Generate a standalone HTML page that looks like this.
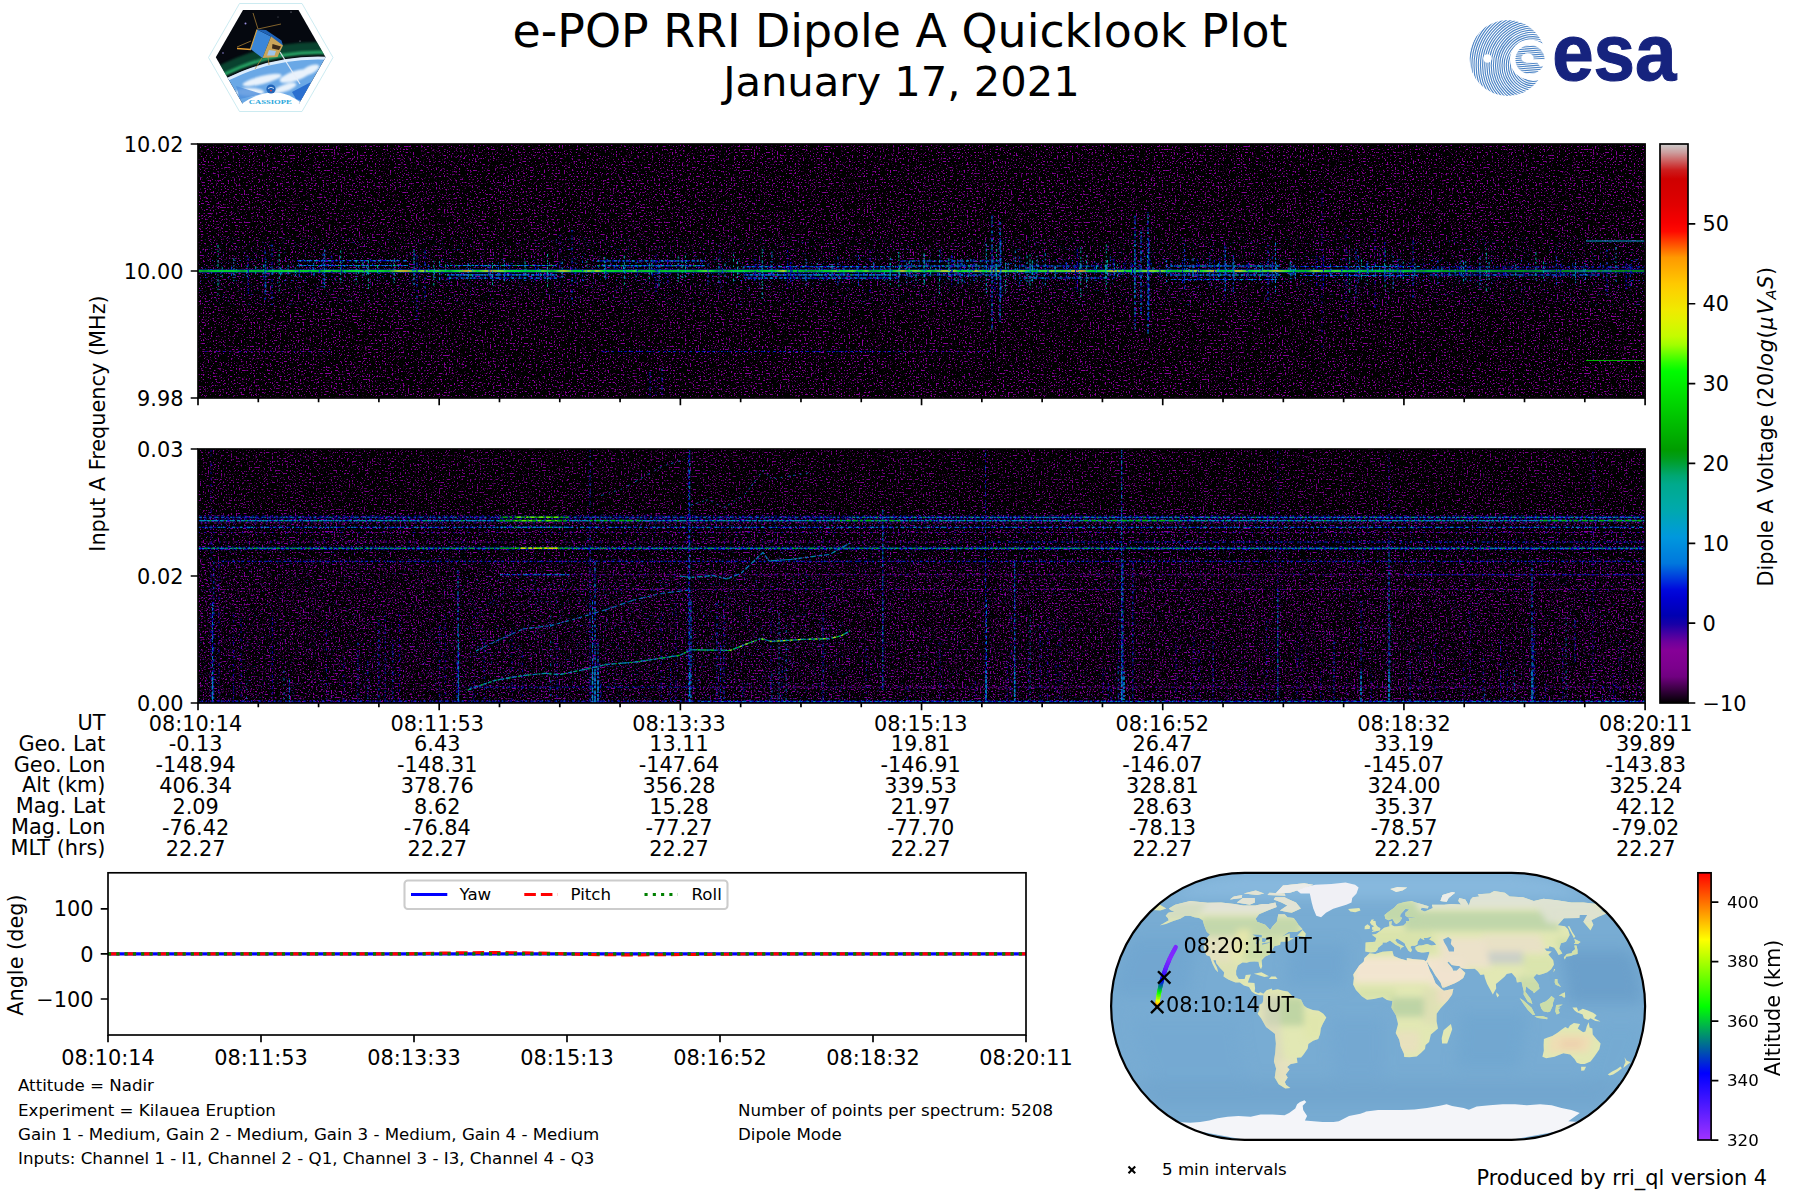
<!DOCTYPE html>
<html><head><meta charset="utf-8"><title>e-POP RRI Dipole A Quicklook Plot</title>
<style>html,body{margin:0;padding:0;background:#fff;}svg{display:block}text{font-family:'DejaVu Sans','Liberation Sans',sans-serif;fill:#000}</style></head>
<body><svg width="1800" height="1200" viewBox="0 0 1800 1200">
<defs><filter id="nz" x="0" y="0" width="100%" height="100%" color-interpolation-filters="sRGB">
<feTurbulence type="fractalNoise" baseFrequency="0.61 0.67" numOctaves="1" seed="11" result="t"/>
<feColorMatrix type="matrix" values="0 0 0 0 0.54  0 0 0 0 0  0 0 0 0 0.62  9 0 0 0 -5.22"/>
</filter><filter id="nzb" x="0" y="0" width="100%" height="100%" color-interpolation-filters="sRGB">
<feTurbulence type="fractalNoise" baseFrequency="0.57 0.71" numOctaves="1" seed="29" result="t"/>
<feColorMatrix type="matrix" values="0 0 0 0 0.0  0 0 0 0 0.25  0 0 0 0 0.85  0 9 0 0 -5.95"/>
</filter><filter id="nzp" x="0" y="0" width="100%" height="100%" color-interpolation-filters="sRGB">
<feTurbulence type="fractalNoise" baseFrequency="0.66 0.59" numOctaves="1" seed="47" result="t"/>
<feColorMatrix type="matrix" values="0 0 0 0 0.5  0 0 0 0 0  0 0 0 0 0.6  0 0 9 0 -5.45"/>
</filter><linearGradient id="cb" x1="0" y1="1" x2="0" y2="0"><stop offset="0.0000" stop-color="#000000"/><stop offset="0.0156" stop-color="#25002b"/><stop offset="0.0312" stop-color="#4b0055"/><stop offset="0.0469" stop-color="#700080"/><stop offset="0.0625" stop-color="#7b008c"/><stop offset="0.0781" stop-color="#810092"/><stop offset="0.0938" stop-color="#860097"/><stop offset="0.1094" stop-color="#6d009c"/><stop offset="0.1250" stop-color="#4300a2"/><stop offset="0.1406" stop-color="#1800a7"/><stop offset="0.1562" stop-color="#0000b1"/><stop offset="0.1719" stop-color="#0000c1"/><stop offset="0.1875" stop-color="#0000d1"/><stop offset="0.2031" stop-color="#0009dd"/><stop offset="0.2188" stop-color="#002fdd"/><stop offset="0.2344" stop-color="#0054dd"/><stop offset="0.2500" stop-color="#0078dd"/><stop offset="0.2656" stop-color="#0082dd"/><stop offset="0.2812" stop-color="#008ddd"/><stop offset="0.2969" stop-color="#0098dd"/><stop offset="0.3125" stop-color="#009ecf"/><stop offset="0.3281" stop-color="#00a3bf"/><stop offset="0.3438" stop-color="#00a8af"/><stop offset="0.3594" stop-color="#00aaa3"/><stop offset="0.3750" stop-color="#00aa98"/><stop offset="0.3906" stop-color="#00aa8d"/><stop offset="0.4062" stop-color="#00a773"/><stop offset="0.4219" stop-color="#00a248"/><stop offset="0.4375" stop-color="#009d1d"/><stop offset="0.4531" stop-color="#009c00"/><stop offset="0.4688" stop-color="#00a700"/><stop offset="0.4844" stop-color="#00b200"/><stop offset="0.5000" stop-color="#00bc00"/><stop offset="0.5156" stop-color="#00c700"/><stop offset="0.5312" stop-color="#00d200"/><stop offset="0.5469" stop-color="#00dc00"/><stop offset="0.5625" stop-color="#00e700"/><stop offset="0.5781" stop-color="#00f200"/><stop offset="0.5938" stop-color="#00fc00"/><stop offset="0.6094" stop-color="#2cff00"/><stop offset="0.6250" stop-color="#67ff00"/><stop offset="0.6406" stop-color="#a1ff00"/><stop offset="0.6562" stop-color="#c4fc00"/><stop offset="0.6719" stop-color="#d4f700"/><stop offset="0.6875" stop-color="#e4f100"/><stop offset="0.7031" stop-color="#f0ea00"/><stop offset="0.7188" stop-color="#f5df00"/><stop offset="0.7344" stop-color="#fbd500"/><stop offset="0.7500" stop-color="#ffc900"/><stop offset="0.7656" stop-color="#ffb900"/><stop offset="0.7812" stop-color="#ffa900"/><stop offset="0.7969" stop-color="#ff9900"/><stop offset="0.8125" stop-color="#ff6900"/><stop offset="0.8281" stop-color="#ff3900"/><stop offset="0.8438" stop-color="#ff0900"/><stop offset="0.8594" stop-color="#f60000"/><stop offset="0.8750" stop-color="#ec0000"/><stop offset="0.8906" stop-color="#e10000"/><stop offset="0.9062" stop-color="#da0000"/><stop offset="0.9219" stop-color="#d40000"/><stop offset="0.9375" stop-color="#cf0000"/><stop offset="0.9531" stop-color="#cc1c1c"/><stop offset="0.9688" stop-color="#cc5c5c"/><stop offset="0.9844" stop-color="#cc9c9c"/><stop offset="1.0000" stop-color="#cccccc"/></linearGradient><linearGradient id="alt" x1="0" y1="1" x2="0" y2="0"><stop offset="0" stop-color="#a033ff"/><stop offset="0.25" stop-color="#0000ff"/><stop offset="0.5" stop-color="#00ff00"/><stop offset="0.75" stop-color="#ffff00"/><stop offset="1" stop-color="#ff0000"/></linearGradient><clipPath id="c1"><rect x="198.0" y="144.0" width="1447.1" height="254.0"/></clipPath><clipPath id="c2"><rect x="198.0" y="449.0" width="1447.1" height="254.0"/></clipPath><linearGradient id="cg" gradientUnits="userSpaceOnUse" x1="198.0" y1="0" x2="1645.1" y2="0"><stop offset="0.0000" stop-color="#00ec00"/><stop offset="0.0042" stop-color="#009f00"/><stop offset="0.0110" stop-color="#00ef00"/><stop offset="0.0132" stop-color="#00ef00"/><stop offset="0.0207" stop-color="#00f200"/><stop offset="0.0249" stop-color="#00f200"/><stop offset="0.0310" stop-color="#00a700"/><stop offset="0.0342" stop-color="#00ec00"/><stop offset="0.0412" stop-color="#00c700"/><stop offset="0.0476" stop-color="#00e400"/><stop offset="0.0531" stop-color="#00f200"/><stop offset="0.0582" stop-color="#00f200"/><stop offset="0.0642" stop-color="#2cff00"/><stop offset="0.0676" stop-color="#00e200"/><stop offset="0.0740" stop-color="#00ef00"/><stop offset="0.0809" stop-color="#00ec00"/><stop offset="0.0848" stop-color="#00bf00"/><stop offset="0.0887" stop-color="#2cff00"/><stop offset="0.0963" stop-color="#00e200"/><stop offset="0.0986" stop-color="#00c400"/><stop offset="0.1045" stop-color="#00f700"/><stop offset="0.1112" stop-color="#0fff00"/><stop offset="0.1168" stop-color="#3bff00"/><stop offset="0.1203" stop-color="#00f700"/><stop offset="0.1258" stop-color="#0fff00"/><stop offset="0.1315" stop-color="#00c700"/><stop offset="0.1385" stop-color="#c8fb00"/><stop offset="0.1437" stop-color="#ffb100"/><stop offset="0.1500" stop-color="#0fff00"/><stop offset="0.1523" stop-color="#49ff00"/><stop offset="0.1555" stop-color="#c8fb00"/><stop offset="0.1608" stop-color="#00fa00"/><stop offset="0.1658" stop-color="#49ff00"/><stop offset="0.1720" stop-color="#00e700"/><stop offset="0.1741" stop-color="#00ca00"/><stop offset="0.1776" stop-color="#1dff00"/><stop offset="0.1817" stop-color="#58ff00"/><stop offset="0.1852" stop-color="#ffad00"/><stop offset="0.1876" stop-color="#f7dd00"/><stop offset="0.1931" stop-color="#00fc00"/><stop offset="0.1991" stop-color="#ccf900"/><stop offset="0.2022" stop-color="#ffa900"/><stop offset="0.2072" stop-color="#93ff00"/><stop offset="0.2109" stop-color="#93ff00"/><stop offset="0.2132" stop-color="#2cff00"/><stop offset="0.2172" stop-color="#00fc00"/><stop offset="0.2216" stop-color="#00fc00"/><stop offset="0.2265" stop-color="#00ea00"/><stop offset="0.2289" stop-color="#00ea00"/><stop offset="0.2320" stop-color="#00ea00"/><stop offset="0.2360" stop-color="#2cff00"/><stop offset="0.2383" stop-color="#67ff00"/><stop offset="0.2451" stop-color="#00cf00"/><stop offset="0.2503" stop-color="#a1ff00"/><stop offset="0.2527" stop-color="#f7dd00"/><stop offset="0.2601" stop-color="#00ff00"/><stop offset="0.2664" stop-color="#00f700"/><stop offset="0.2689" stop-color="#efed00"/><stop offset="0.2729" stop-color="#1dff00"/><stop offset="0.2756" stop-color="#e4f100"/><stop offset="0.2800" stop-color="#00ff00"/><stop offset="0.2872" stop-color="#00f400"/><stop offset="0.2905" stop-color="#00e200"/><stop offset="0.2946" stop-color="#00ec00"/><stop offset="0.2997" stop-color="#00ec00"/><stop offset="0.3018" stop-color="#67ff00"/><stop offset="0.3051" stop-color="#00cf00"/><stop offset="0.3114" stop-color="#00ec00"/><stop offset="0.3167" stop-color="#00b200"/><stop offset="0.3227" stop-color="#00e200"/><stop offset="0.3285" stop-color="#00e200"/><stop offset="0.3341" stop-color="#00e200"/><stop offset="0.3406" stop-color="#00e200"/><stop offset="0.3436" stop-color="#00b200"/><stop offset="0.3458" stop-color="#00f400"/><stop offset="0.3513" stop-color="#67ff00"/><stop offset="0.3552" stop-color="#00ff00"/><stop offset="0.3586" stop-color="#00b200"/><stop offset="0.3647" stop-color="#00b200"/><stop offset="0.3689" stop-color="#00f400"/><stop offset="0.3764" stop-color="#00ff00"/><stop offset="0.3828" stop-color="#00cf00"/><stop offset="0.3902" stop-color="#00ec00"/><stop offset="0.3960" stop-color="#00ff00"/><stop offset="0.3985" stop-color="#00ec00"/><stop offset="0.4047" stop-color="#e0f300"/><stop offset="0.4076" stop-color="#00ec00"/><stop offset="0.4141" stop-color="#00ec00"/><stop offset="0.4199" stop-color="#00b200"/><stop offset="0.4266" stop-color="#00b200"/><stop offset="0.4331" stop-color="#00f400"/><stop offset="0.4364" stop-color="#00ec00"/><stop offset="0.4406" stop-color="#67ff00"/><stop offset="0.4452" stop-color="#00ff00"/><stop offset="0.4523" stop-color="#67ff00"/><stop offset="0.4562" stop-color="#00ec00"/><stop offset="0.4588" stop-color="#00ec00"/><stop offset="0.4617" stop-color="#67ff00"/><stop offset="0.4655" stop-color="#00b200"/><stop offset="0.4690" stop-color="#00cf00"/><stop offset="0.4756" stop-color="#00f400"/><stop offset="0.4810" stop-color="#00ff00"/><stop offset="0.4870" stop-color="#f8da00"/><stop offset="0.4909" stop-color="#00ec00"/><stop offset="0.4958" stop-color="#a1ff00"/><stop offset="0.5015" stop-color="#00ec00"/><stop offset="0.5055" stop-color="#3bff00"/><stop offset="0.5077" stop-color="#00cf00"/><stop offset="0.5147" stop-color="#d0f800"/><stop offset="0.5220" stop-color="#d0f800"/><stop offset="0.5257" stop-color="#00ff00"/><stop offset="0.5318" stop-color="#3bff00"/><stop offset="0.5342" stop-color="#00ff00"/><stop offset="0.5374" stop-color="#f8da00"/><stop offset="0.5429" stop-color="#00ff00"/><stop offset="0.5451" stop-color="#3bff00"/><stop offset="0.5514" stop-color="#f8da00"/><stop offset="0.5580" stop-color="#67ff00"/><stop offset="0.5640" stop-color="#3bff00"/><stop offset="0.5692" stop-color="#a1ff00"/><stop offset="0.5728" stop-color="#3bff00"/><stop offset="0.5787" stop-color="#00cf00"/><stop offset="0.5820" stop-color="#3bff00"/><stop offset="0.5861" stop-color="#3bff00"/><stop offset="0.5903" stop-color="#a1ff00"/><stop offset="0.5976" stop-color="#3bff00"/><stop offset="0.6051" stop-color="#f8da00"/><stop offset="0.6110" stop-color="#ffa500"/><stop offset="0.6160" stop-color="#00ff00"/><stop offset="0.6196" stop-color="#00ec00"/><stop offset="0.6260" stop-color="#3bff00"/><stop offset="0.6321" stop-color="#f8da00"/><stop offset="0.6395" stop-color="#3bff00"/><stop offset="0.6443" stop-color="#00ff00"/><stop offset="0.6481" stop-color="#3bff00"/><stop offset="0.6503" stop-color="#3bff00"/><stop offset="0.6556" stop-color="#a1ff00"/><stop offset="0.6610" stop-color="#a1ff00"/><stop offset="0.6636" stop-color="#3bff00"/><stop offset="0.6659" stop-color="#a1ff00"/><stop offset="0.6698" stop-color="#00ec00"/><stop offset="0.6757" stop-color="#00cf00"/><stop offset="0.6832" stop-color="#3bff00"/><stop offset="0.6899" stop-color="#d0f800"/><stop offset="0.6935" stop-color="#00ff00"/><stop offset="0.6998" stop-color="#d0f800"/><stop offset="0.7023" stop-color="#ffa500"/><stop offset="0.7044" stop-color="#00ec00"/><stop offset="0.7118" stop-color="#00ec00"/><stop offset="0.7150" stop-color="#00ff00"/><stop offset="0.7173" stop-color="#f8da00"/><stop offset="0.7201" stop-color="#d0f800"/><stop offset="0.7266" stop-color="#00ff00"/><stop offset="0.7304" stop-color="#3bff00"/><stop offset="0.7360" stop-color="#67ff00"/><stop offset="0.7395" stop-color="#3bff00"/><stop offset="0.7446" stop-color="#f8da00"/><stop offset="0.7501" stop-color="#67ff00"/><stop offset="0.7549" stop-color="#00ff00"/><stop offset="0.7606" stop-color="#00cf00"/><stop offset="0.7668" stop-color="#00ca00"/><stop offset="0.7720" stop-color="#c4fc00"/><stop offset="0.7770" stop-color="#58ff00"/><stop offset="0.7817" stop-color="#00ec00"/><stop offset="0.7860" stop-color="#58ff00"/><stop offset="0.7912" stop-color="#0fff00"/><stop offset="0.7950" stop-color="#00ea00"/><stop offset="0.7999" stop-color="#0fff00"/><stop offset="0.8074" stop-color="#00d400"/><stop offset="0.8120" stop-color="#00da00"/><stop offset="0.8159" stop-color="#00fc00"/><stop offset="0.8199" stop-color="#00ca00"/><stop offset="0.8230" stop-color="#00d200"/><stop offset="0.8260" stop-color="#00cf00"/><stop offset="0.8318" stop-color="#00e700"/><stop offset="0.8355" stop-color="#00da00"/><stop offset="0.8415" stop-color="#00b700"/><stop offset="0.8470" stop-color="#009f00"/><stop offset="0.8496" stop-color="#00cc00"/><stop offset="0.8564" stop-color="#00da00"/><stop offset="0.8599" stop-color="#00c400"/><stop offset="0.8668" stop-color="#00ca00"/><stop offset="0.8706" stop-color="#00a200"/><stop offset="0.8760" stop-color="#00cf00"/><stop offset="0.8817" stop-color="#00cc00"/><stop offset="0.8840" stop-color="#00a248"/><stop offset="0.8892" stop-color="#00bf00"/><stop offset="0.8916" stop-color="#00c700"/><stop offset="0.8959" stop-color="#00ba00"/><stop offset="0.9004" stop-color="#009a00"/><stop offset="0.9057" stop-color="#00ac00"/><stop offset="0.9082" stop-color="#009a08"/><stop offset="0.9149" stop-color="#00ba00"/><stop offset="0.9172" stop-color="#00a700"/><stop offset="0.9204" stop-color="#009d1d"/><stop offset="0.9275" stop-color="#00b700"/><stop offset="0.9315" stop-color="#00aaab"/><stop offset="0.9357" stop-color="#009e28"/><stop offset="0.9382" stop-color="#009a08"/><stop offset="0.9458" stop-color="#00b400"/><stop offset="0.9524" stop-color="#009f33"/><stop offset="0.9582" stop-color="#00aa93"/><stop offset="0.9603" stop-color="#00b200"/><stop offset="0.9653" stop-color="#00aa93"/><stop offset="0.9683" stop-color="#00a400"/><stop offset="0.9733" stop-color="#00a773"/><stop offset="0.9776" stop-color="#00a200"/><stop offset="0.9805" stop-color="#00a200"/><stop offset="0.9861" stop-color="#00a200"/><stop offset="0.9920" stop-color="#00aa00"/><stop offset="0.9989" stop-color="#009b13"/></linearGradient><clipPath id="mc"><rect x="1111.1" y="872.8" width="534.0" height="267.0" rx="133.5" ry="133.5"/></clipPath><clipPath id="lc"><path d="M1168.8,908.4L1175.1,904.7L1190.1,901.0L1207.5,902.8L1221.1,902.5L1234.4,903.9L1243.1,905.4L1255.3,905.4L1262.4,903.9L1268.5,903.9L1275.4,902.5L1276.7,906.9L1268.9,909.9L1259.1,914.3L1255.7,918.8L1257.1,921.8L1265.2,924.7L1268.1,927.7L1270.1,929.9L1272.6,926.2L1276.8,921.8L1278.3,914.3L1284.7,914.3L1287.5,917.3L1293.7,918.0L1296.5,921.8L1298.4,924.7L1302.7,929.2L1296.6,932.1L1288.4,932.1L1281.9,936.6L1289.5,933.6L1289.8,938.1L1294.0,938.1L1287.7,941.8L1280.7,941.8L1280.1,944.7L1274.2,946.2L1272.1,949.9L1269.8,954.4L1265.1,956.6L1261.6,960.3L1262.2,966.2L1261.0,969.2L1259.3,966.2L1258.5,961.8L1254.3,961.4L1249.9,961.8L1246.8,962.8L1242.5,962.5L1237.7,965.5L1236.1,970.7L1236.2,975.1L1238.7,978.9L1244.6,978.9L1245.7,975.1L1250.9,974.4L1248.9,979.6L1247.9,982.6L1254.5,982.9L1255.1,988.5L1254.6,991.5L1258.2,993.2L1260.5,992.2L1263.4,993.7L1263.3,995.2L1259.6,995.2L1255.2,994.0L1251.7,991.5L1249.0,987.0L1243.9,985.5L1239.8,982.6L1235.4,982.6L1228.3,979.6L1223.6,976.6L1224.2,972.2L1219.9,967.7L1216.4,963.3L1215.7,959.9L1213.2,960.3L1217.0,967.7L1218.1,972.2L1215.2,969.2L1212.6,964.0L1211.3,960.3L1210.1,956.6L1206.2,955.1L1205.1,951.4L1203.7,947.0L1204.9,942.5L1207.4,937.3L1210.0,934.4L1206.9,932.1L1205.7,929.2L1204.0,924.7L1202.7,920.3L1199.0,918.0L1194.3,917.3L1190.2,915.8L1185.1,915.8L1180.2,918.8L1173.4,921.0L1166.0,924.0L1159.7,925.5L1168.7,920.3L1167.8,918.0L1165.7,915.8L1168.3,912.8L1174.7,911.4L1170.8,910.2L1168.8,908.4ZM1300.9,908.4L1291.7,912.8L1286.9,912.1L1279.9,910.6L1287.3,905.4L1281.5,902.5L1273.7,899.5L1275.2,897.3L1284.5,897.3L1289.1,899.5L1296.0,902.5L1300.9,908.4ZM1236.8,902.5L1249.7,904.7L1254.9,902.5L1254.7,898.0L1242.9,898.0L1236.8,902.5ZM1229.8,899.5L1241.7,898.0L1242.2,895.0L1233.8,896.5L1229.8,899.5ZM1275.6,893.6L1289.8,892.8L1298.6,889.9L1313.2,884.7L1304.1,883.2L1283.0,885.4L1275.6,893.6ZM1267.5,895.0L1285.5,895.8L1284.7,893.6L1269.4,892.8L1267.5,895.0ZM1243.7,893.6L1257.2,895.0L1264.2,893.6L1255.8,890.6L1243.7,893.6ZM1297.2,935.8L1305.2,937.0L1305.8,933.6L1302.5,929.9L1297.2,935.8ZM1253.9,973.7L1261.4,972.2L1269.0,976.2L1264.5,976.9L1253.9,973.7ZM1268.8,978.9L1277.6,978.9L1275.6,976.6L1271.2,976.6L1268.8,978.9ZM1348.1,909.1L1350.3,911.4L1355.3,912.3L1360.5,910.6L1359.4,908.1L1353.2,908.4L1348.1,909.1ZM1263.4,993.7L1266.5,990.3L1271.8,988.5L1272.4,990.3L1277.6,989.2L1283.5,990.7L1287.9,991.5L1293.6,997.4L1301.0,999.6L1303.9,1005.6L1306.9,1007.8L1312.8,1010.0L1318.8,1010.8L1323.3,1013.7L1326.3,1017.4L1322.7,1024.1L1320.7,1028.5L1320.1,1033.7L1318.2,1038.9L1313.2,1040.7L1308.4,1044.1L1307.7,1048.6L1303.6,1054.5L1301.1,1057.5L1296.8,1057.8L1297.5,1062.7L1290.7,1064.1L1287.0,1067.1L1289.5,1069.6L1285.7,1074.5L1287.7,1077.5L1284.8,1082.0L1286.2,1084.9L1290.4,1087.9L1285.3,1088.6L1278.6,1084.2L1274.7,1077.5L1276.1,1068.6L1273.9,1061.2L1275.3,1052.3L1275.9,1043.4L1274.9,1033.7L1266.1,1027.1L1261.1,1018.2L1257.6,1013.7L1259.5,1010.0L1259.4,1004.8L1262.4,1003.3L1263.2,1000.4L1263.4,993.7ZM1353.1,984.5L1353.9,978.1L1353.2,974.4L1359.3,965.5L1363.7,961.8L1364.5,958.1L1369.6,953.3L1375.3,954.1L1382.4,951.7L1392.3,951.1L1393.8,955.9L1399.6,958.4L1406.9,960.6L1406.8,958.1L1414.0,959.3L1424.1,960.0L1427.2,963.3L1429.8,970.7L1432.6,975.9L1435.5,983.3L1441.6,988.9L1443.9,990.7L1453.4,988.8L1452.1,994.4L1447.8,1000.4L1440.4,1008.5L1436.6,1013.7L1436.5,1021.1L1438.0,1028.5L1430.9,1034.5L1429.1,1041.9L1425.6,1044.9L1425.0,1048.9L1421.2,1052.7L1416.7,1056.4L1409.5,1057.2L1404.2,1057.0L1403.9,1053.8L1400.6,1046.3L1399.3,1039.7L1395.7,1033.0L1398.0,1024.1L1395.9,1015.2L1391.4,1007.8L1392.5,1001.1L1387.0,999.9L1382.5,997.0L1373.7,998.9L1367.0,999.8L1361.8,996.2L1358.1,992.2L1355.9,990.0L1353.1,984.5ZM1450.9,1024.1L1452.2,1029.3L1447.2,1043.4L1442.1,1043.4L1441.7,1038.2L1443.6,1030.3L1450.9,1024.1ZM1365.3,951.4L1365.6,942.5L1375.3,941.8L1376.3,938.1L1371.9,934.7L1376.1,933.9L1380.8,930.6L1384.1,927.7L1389.4,926.2L1389.0,921.8L1391.9,921.0L1391.4,924.7L1394.1,926.2L1396.8,926.2L1403.4,925.5L1405.9,923.2L1406.3,921.0L1409.6,921.3L1408.6,918.3L1414.4,917.7L1416.9,917.3L1407.9,917.3L1405.5,915.8L1405.4,912.8L1409.4,909.4L1405.5,908.7L1400.5,914.3L1400.0,916.6L1402.1,918.0L1399.8,921.8L1396.7,924.0L1395.0,923.2L1392.4,918.8L1388.6,920.3L1385.3,918.8L1384.5,915.1L1388.2,912.1L1394.2,907.7L1397.6,903.9L1404.6,902.0L1411.6,901.0L1415.5,902.5L1419.4,903.5L1428.6,906.2L1427.9,908.4L1421.5,907.7L1420.8,909.9L1424.8,911.4L1428.3,909.9L1432.8,908.0L1431.9,904.7L1444.1,904.7L1451.2,903.9L1461.1,904.4L1458.3,901.0L1459.2,898.0L1465.3,899.5L1468.9,905.4L1470.7,899.5L1472.8,897.3L1479.4,896.5L1477.7,894.3L1489.7,893.6L1494.2,891.0L1504.9,892.8L1509.6,896.5L1523.1,897.3L1533.8,901.0L1543.5,898.8L1556.9,900.2L1571.4,902.5L1583.4,902.5L1597.3,903.9L1603.9,909.9L1600.9,910.6L1606.4,913.6L1598.8,916.6L1591.4,920.3L1593.4,924.7L1590.5,930.6L1583.3,921.8L1587.3,915.1L1579.6,915.1L1579.3,918.0L1563.9,918.3L1557.7,925.2L1565.0,926.2L1568.0,929.2L1569.8,935.1L1565.9,941.8L1560.9,943.3L1559.3,948.4L1562.4,953.6L1558.6,955.1L1556.7,951.4L1554.1,947.7L1549.4,946.2L1548.7,948.4L1544.5,948.4L1546.7,951.0L1551.8,951.4L1548.4,954.4L1553.2,960.3L1553.9,964.8L1551.1,969.2L1547.3,972.2L1543.2,973.7L1539.0,975.1L1536.7,974.1L1533.5,977.4L1538.4,984.0L1539.5,988.5L1533.9,993.2L1533.1,991.5L1528.7,988.5L1526.3,986.3L1525.2,991.5L1530.8,998.9L1532.4,1004.1L1527.9,1001.8L1523.6,994.4L1523.8,991.5L1521.5,981.8L1516.9,982.6L1516.0,978.1L1511.7,972.9L1506.7,974.1L1504.8,976.6L1498.7,981.8L1495.9,984.0L1496.2,988.5L1492.8,994.4L1490.4,990.0L1487.1,984.0L1484.9,978.1L1484.1,974.4L1480.5,975.1L1477.9,971.4L1474.8,968.8L1466.8,968.9L1460.9,968.0L1460.0,966.2L1451.9,965.1L1448.7,961.4L1447.3,962.5L1452.2,968.2L1453.1,970.7L1456.7,970.7L1459.8,967.7L1465.4,972.9L1463.2,978.1L1458.9,981.1L1454.7,983.3L1444.5,987.5L1442.3,987.5L1440.6,982.6L1435.2,975.1L1431.9,969.2L1428.7,964.8L1427.9,962.5L1424.9,961.8L1427.0,959.9L1429.3,952.9L1429.2,951.7L1423.6,952.5L1421.4,952.5L1417.8,951.7L1415.5,949.2L1415.4,947.0L1418.8,945.5L1421.6,945.5L1427.0,944.0L1431.4,945.5L1436.2,944.7L1433.7,941.8L1429.3,939.5L1431.7,936.6L1426.4,938.1L1423.6,938.1L1424.5,940.3L1420.2,938.1L1417.7,941.8L1417.3,944.7L1414.6,945.8L1411.8,945.8L1410.4,947.0L1412.0,949.9L1410.8,952.2L1408.5,950.7L1405.4,945.5L1404.6,943.3L1398.9,939.5L1396.7,938.5L1395.2,940.3L1397.6,943.3L1404.1,946.5L1401.3,947.7L1400.7,949.9L1400.2,947.0L1395.6,944.7L1392.7,942.5L1389.9,940.6L1386.5,942.5L1382.6,942.5L1382.6,944.3L1378.1,947.7L1377.4,949.9L1375.3,951.9L1370.6,952.6L1365.3,951.4ZM1158.9,903.9L1162.5,906.2L1166.3,908.4L1160.3,910.6L1152.3,909.9ZM1370.6,932.1L1379.9,930.4L1380.4,928.1L1378.1,926.9L1376.1,924.7L1375.5,921.0L1372.9,920.7L1374.2,919.4L1371.6,919.4L1369.9,922.5L1371.5,924.7L1374.1,926.2L1372.1,927.2L1372.0,929.5L1374.0,930.1L1370.6,932.1ZM1364.6,929.2L1369.6,928.9L1370.1,926.2L1367.5,924.3L1364.8,926.2L1364.6,929.2ZM1564.8,959.6L1566.2,956.6L1570.9,955.9L1573.5,954.8L1577.5,954.1L1577.5,949.9L1576.5,945.5L1574.4,945.5L1575.1,949.2L1572.3,951.4L1571.6,953.3L1566.8,953.9L1565.2,955.9L1563.8,957.3L1564.8,959.6ZM1573.8,944.0L1578.0,944.0L1580.6,942.1L1574.3,938.8L1575.2,942.5L1573.8,944.0ZM1573.9,938.1L1575.3,936.6L1572.3,932.1L1569.4,926.2L1567.7,926.2L1573.9,938.1ZM1553.5,972.6L1555.2,969.2L1554.0,968.9L1553.5,972.6ZM1496.4,992.2L1499.2,995.2L1497.4,997.4L1496.2,994.4L1496.4,992.2ZM1519.6,998.1L1523.4,1000.4L1531.6,1007.8L1535.2,1014.9L1532.9,1014.9L1527.9,1010.0L1523.5,1004.1L1519.6,998.1ZM1534.4,1016.4L1538.1,1015.9L1542.5,1015.9L1547.6,1017.7L1547.2,1019.2L1538.0,1017.9L1534.4,1016.4ZM1539.8,1004.1L1543.5,1002.3L1545.7,1001.6L1549.3,998.6L1551.4,995.9L1554.5,998.6L1552.8,1003.3L1553.1,1005.1L1550.1,1011.5L1547.9,1012.2L1543.4,1011.2L1541.3,1008.5L1539.8,1004.1ZM1556.1,1005.1L1562.8,1004.5L1557.6,1007.5L1560.5,1007.8L1558.3,1009.3L1559.7,1013.0L1556.7,1014.6L1555.3,1011.5L1556.1,1005.1ZM1572.4,1007.5L1576.9,1007.5L1578.3,1011.2L1582.8,1008.8L1587.2,1010.3L1593.1,1012.7L1596.6,1015.2L1594.2,1018.2L1600.6,1021.6L1595.5,1021.1L1590.5,1018.2L1588.2,1019.9L1583.9,1018.2L1582.6,1014.5L1576.8,1012.2L1574.6,1010.5L1572.4,1007.5ZM1554.9,978.9L1557.4,978.9L1557.6,982.6L1561.1,987.0L1558.0,985.8L1555.7,984.8L1554.7,982.6L1554.9,978.9ZM1558.8,995.9L1561.6,993.7L1564.9,992.2L1565.2,997.0L1564.1,997.8L1561.8,995.9L1558.8,995.9ZM1543.9,1038.9L1543.6,1044.9L1543.8,1050.8L1542.4,1056.7L1546.2,1058.2L1554.5,1056.7L1563.3,1053.3L1570.2,1054.5L1574.5,1059.0L1576.8,1062.7L1580.6,1063.9L1584.7,1064.1L1590.6,1061.6L1594.8,1056.0L1599.4,1049.3L1600.6,1043.4L1596.5,1038.9L1592.7,1034.5L1592.4,1028.5L1589.6,1027.4L1588.7,1022.3L1586.8,1026.3L1585.4,1031.5L1583.1,1032.3L1577.7,1028.5L1580.1,1024.1L1573.9,1023.1L1569.9,1025.6L1568.1,1028.5L1565.3,1027.1L1562.1,1029.3L1557.2,1033.0L1552.4,1036.0L1547.8,1037.5L1543.9,1038.9ZM1581.1,1066.7L1586.1,1066.8L1584.2,1070.4L1581.2,1070.8L1581.1,1066.7ZM1624.5,1057.3L1626.5,1060.4L1630.7,1062.2L1627.5,1064.6L1623.4,1068.0L1624.0,1065.3L1625.5,1061.9L1624.5,1057.3ZM1620.6,1066.4L1621.9,1068.2L1618.2,1071.3L1613.2,1074.5L1609.7,1075.4L1607.7,1074.5L1612.1,1071.6L1616.7,1069.3L1620.6,1066.4ZM1440.4,901.0L1446.7,901.7L1448.6,898.0L1455.1,892.8L1452.4,892.1L1442.6,895.0L1440.4,901.0ZM1390.2,889.1L1396.1,892.1L1402.6,890.6L1407.3,887.6L1397.4,886.9L1390.2,889.1Z" clip-rule="nonzero"/></clipPath><filter id="mb" x="-30%" y="-30%" width="160%" height="160%"><feGaussianBlur stdDeviation="3.2"/></filter><filter id="mb2" x="-30%" y="-30%" width="160%" height="160%"><feGaussianBlur stdDeviation="7"/></filter><clipPath id="hx"><path d="M215.8,57.3L243,10H298.5L325.6,57.3L298.5,104.5H243Z"/></clipPath><radialGradient id="eg" cx="0.5" cy="0.5" r="0.5"><stop offset="0.90" stop-color="#7fb6ea"/><stop offset="0.955" stop-color="#cfe6fa"/><stop offset="0.975" stop-color="#2fae7c"/><stop offset="0.99" stop-color="#0f5a3c" stop-opacity="0.9"/><stop offset="1" stop-color="#062016" stop-opacity="0"/></radialGradient><filter id="bl1" x="-20%" y="-20%" width="140%" height="140%"><feGaussianBlur stdDeviation="1.2"/></filter><filter id="bl2" x="-20%" y="-20%" width="140%" height="140%"><feGaussianBlur stdDeviation="0.6"/></filter><clipPath id="ed"><circle cx="1507.5" cy="58.0" r="38.0"/></clipPath><clipPath id="ei"><circle cx="1530.0" cy="59.5" r="14.6"/></clipPath></defs>
<rect width="1800" height="1200" fill="#fff"/>
<text x="900.00" y="47.30" font-size="45.83" text-anchor="middle" >e-POP RRI Dipole A Quicklook Plot</text>
<text x="901.50" y="96.00" font-size="41.67" text-anchor="middle" >January 17, 2021</text>
<g fill="none"><rect x="198.0" y="144.0" width="1447.1" height="254.0" fill="#000"/><rect x="198.0" y="144.0" width="1447.1" height="254.0" filter="url(#nz)"/><rect x="198.0" y="449.0" width="1447.1" height="254.0" fill="#000"/><rect x="198.0" y="449.0" width="1447.1" height="254.0" filter="url(#nz)"/><g clip-path="url(#c1)"><rect x="198.0" y="237.0" width="1447.1" height="68" filter="url(#nzb)" opacity="0.55"/><rect x="198.0" y="259.0" width="1447.1" height="24" filter="url(#nzb)" opacity="0.9"/><path d="M297.0,260.7H408.0" stroke="#0000cd" stroke-width="1.2" stroke-dasharray="2.2 0.5 3.5 1.2 2.1 1.0 2.7 0.9 1.4 1.6 2.7 0.9 2.7 1.4 3.9 0.7 3.9 1.5 2.5 0.9 3.2 1.0 2.0 0.6 2.0 2.9 3.9 2.4" stroke-dashoffset="0.1" opacity="1.0"/><path d="M297.0,260.7H408.0" stroke="#007add" stroke-width="1.2" stroke-dasharray="2.9 5.5 2.5 2.7 1.2 3.7 2.8 4.3 2.5 2.9 2.0 4.8 2.6 5.2 1.5 5.5 1.4 5.2 2.1 2.7 2.2 4.1 2.9 2.2 1.3 5.9 2.7 2.6" stroke-dashoffset="6.9" opacity="1.0"/><path d="M297.0,260.7H408.0" stroke="#00a7b3" stroke-width="1.2" stroke-dasharray="1.5 6.4 1.3 5.4 1.7 5.7 2.0 13.3 1.8 12.0 1.4 11.1 1.8 9.3 1.1 10.6 1.3 10.5 1.4 13.6 1.2 11.9 1.7 10.0 1.1 6.5 2.0 7.1" stroke-dashoffset="4.9" opacity="1.0"/><path d="M297.0,265.5H408.0" stroke="#0000dd" stroke-width="1.2" stroke-dasharray="2.9 1.3 3.6 0.5 2.0 1.2 2.6 1.4 4.4 0.6 3.5 1.1 4.4 1.9 3.3 0.9 4.6 0.5 3.0 1.1 2.5 1.5 3.6 0.9 3.2 1.5 3.0 0.6" stroke-dashoffset="13.8" opacity="1.0"/><path d="M297.0,265.5H408.0" stroke="#0090dd" stroke-width="1.2" stroke-dasharray="1.4 2.2 1.4 1.3 2.8 1.7 1.6 2.1 2.4 2.3 2.6 1.5 1.9 1.7 2.0 2.1 2.3 1.1 1.7 2.4 1.1 2.5 2.4 1.8 1.9 1.5 2.5 2.0" stroke-dashoffset="8.0" opacity="1.0"/><path d="M297.0,265.5H408.0" stroke="#00aaa5" stroke-width="1.2" stroke-dasharray="1.0 4.7 1.9 6.4 1.6 7.7 1.0 6.0 1.2 5.0 1.2 4.7 1.9 6.6 1.8 3.4 1.3 6.9 1.0 3.9 1.1 7.1 1.2 5.1 1.0 3.6 1.5 7.0" stroke-dashoffset="10.2" opacity="1.0"/><path d="M297.0,265.5H408.0" stroke="#00a700" stroke-width="1.2" stroke-dasharray="1.3 8.6 1.1 10.1 1.2 16.0 1.4 21.7 1.3 20.0 1.1 15.4 1.5 17.2 1.4 15.3 1.8 10.1 1.5 16.2 1.8 10.3 1.4 8.3 1.7 20.2 1.4 19.4" stroke-dashoffset="19.7" opacity="1.0"/><path d="M447.0,265.5H557.0" stroke="#0000dd" stroke-width="1.2" stroke-dasharray="2.1 1.2 2.1 1.0 4.4 0.7 3.7 0.6 2.3 1.9 2.3 0.8 4.8 1.0 2.6 0.6 3.5 0.6 2.7 0.8 4.2 0.7 3.8 0.9 5.0 2.0 4.8 1.9" stroke-dashoffset="16.6" opacity="1.0"/><path d="M447.0,265.5H557.0" stroke="#0090dd" stroke-width="1.2" stroke-dasharray="2.9 2.3 1.3 2.5 2.7 1.0 1.4 2.6 2.5 2.1 1.2 1.5 1.5 3.0 1.5 1.7 2.4 2.3 2.1 2.3 2.7 2.8 1.2 1.1 2.8 2.8 1.7 1.8" stroke-dashoffset="20.5" opacity="1.0"/><path d="M447.0,265.5H557.0" stroke="#00aaa5" stroke-width="1.2" stroke-dasharray="1.4 3.6 1.2 4.5 1.6 3.9 1.7 7.8 1.4 5.9 1.6 7.0 1.6 5.6 1.7 3.1 1.9 7.5 1.7 4.0 1.6 3.1 1.4 4.1 1.6 4.3 1.1 7.0" stroke-dashoffset="7.5" opacity="1.0"/><path d="M447.0,265.5H557.0" stroke="#00a700" stroke-width="1.2" stroke-dasharray="1.6 8.2 1.6 19.0 1.8 12.6 1.1 16.5 1.3 12.0 1.2 13.5 1.7 13.6 1.6 18.2 1.8 16.0 2.0 15.0 1.5 17.2 2.0 17.8 1.9 10.2 1.4 17.8" stroke-dashoffset="22.0" opacity="1.0"/><path d="M447.0,274.8H557.0" stroke="#0000dd" stroke-width="1.2" stroke-dasharray="4.5 0.9 2.9 1.1 3.2 0.6 3.2 1.5 4.2 0.8 3.9 1.6 2.5 0.5 2.5 1.5 4.7 1.1 2.9 1.4 2.9 0.6 2.7 1.4 3.4 1.0 3.2 0.7" stroke-dashoffset="23.0" opacity="1.0"/><path d="M447.0,274.8H557.0" stroke="#0090dd" stroke-width="1.2" stroke-dasharray="1.7 2.4 2.1 2.8 2.6 1.3 1.9 1.0 2.5 1.5 3.0 1.5 2.0 2.0 2.7 2.2 2.8 1.6 1.2 1.4 1.1 2.4 2.4 2.5 2.6 1.3 1.1 2.3" stroke-dashoffset="0.0" opacity="1.0"/><path d="M447.0,274.8H557.0" stroke="#00aaa5" stroke-width="1.2" stroke-dasharray="1.3 5.9 1.7 6.1 1.9 7.9 1.3 4.6 1.0 3.6 1.4 6.2 1.2 3.5 1.7 6.4 1.5 3.7 1.2 4.3 1.9 7.6 1.0 7.7 1.9 7.0 1.2 7.8" stroke-dashoffset="24.3" opacity="1.0"/><path d="M447.0,274.8H557.0" stroke="#00a700" stroke-width="1.2" stroke-dasharray="1.1 8.5 1.4 16.1 1.0 21.4 1.7 15.2 1.5 9.5 1.7 18.4 1.0 19.3 1.4 21.1 1.3 11.0 1.2 12.6 1.1 10.3 1.5 15.7 1.6 9.8 1.0 10.1" stroke-dashoffset="27.0" opacity="1.0"/><path d="M447.0,278.2H557.0" stroke="#0000cd" stroke-width="1.2" stroke-dasharray="1.4 2.2 2.7 2.0 3.8 1.1 3.1 1.8 2.1 1.5 1.6 0.8 3.8 2.1 1.5 2.5 1.6 2.2 2.8 2.5 2.2 2.9 3.2 1.6 1.4 1.1 1.4 1.8" stroke-dashoffset="24.2" opacity="1.0"/><path d="M447.0,278.2H557.0" stroke="#007add" stroke-width="1.2" stroke-dasharray="2.5 4.5 1.9 3.1 2.6 4.7 2.3 4.2 2.6 4.4 1.5 3.5 1.6 3.2 2.8 4.8 2.2 3.8 2.0 2.4 1.9 4.4 1.7 4.0 3.0 5.7 1.2 5.8" stroke-dashoffset="23.8" opacity="1.0"/><path d="M447.0,278.2H557.0" stroke="#00a7b3" stroke-width="1.2" stroke-dasharray="1.8 12.2 1.2 6.2 1.6 12.5 1.1 5.1 1.9 13.2 1.3 12.5 1.3 12.6 1.0 10.5 1.2 10.7 1.0 10.8 1.1 9.0 1.1 8.5 1.2 8.0 1.5 10.9" stroke-dashoffset="19.0" opacity="1.0"/><path d="M597.0,260.8H705.0" stroke="#0000cd" stroke-width="1.2" stroke-dasharray="2.6 2.6 2.2 0.9 3.1 1.4 3.8 1.5 1.0 1.4 3.9 1.7 3.5 1.4 2.8 0.7 1.6 0.8 2.2 1.3 2.7 2.1 1.7 1.2 1.1 0.8 2.1 2.7" stroke-dashoffset="5.6" opacity="1.0"/><path d="M597.0,260.8H705.0" stroke="#007add" stroke-width="1.2" stroke-dasharray="1.8 2.1 2.2 3.7 1.7 3.6 1.5 3.6 1.4 4.9 2.9 5.6 1.7 2.0 2.5 3.8 2.1 4.6 2.6 4.1 1.9 2.5 1.1 2.7 1.3 5.8 2.1 2.1" stroke-dashoffset="9.5" opacity="1.0"/><path d="M597.0,260.8H705.0" stroke="#00a7b3" stroke-width="1.2" stroke-dasharray="1.4 12.5 1.4 9.9 1.3 7.9 1.1 12.0 1.5 11.6 1.6 5.8 1.3 7.9 1.8 8.1 2.0 12.2 1.7 9.8 1.7 8.0 1.1 12.7 1.5 13.6 1.7 10.2" stroke-dashoffset="12.8" opacity="1.0"/><path d="M597.0,265.7H705.0" stroke="#0000dd" stroke-width="1.2" stroke-dasharray="4.1 0.9 3.1 1.0 4.5 1.9 2.3 0.5 3.1 1.5 3.3 1.6 4.9 1.5 4.0 0.7 3.8 1.4 2.6 0.5 4.0 2.0 3.9 0.8 4.6 1.0 3.0 1.7" stroke-dashoffset="23.8" opacity="1.0"/><path d="M597.0,265.7H705.0" stroke="#0090dd" stroke-width="1.2" stroke-dasharray="2.9 2.8 1.0 1.5 2.2 1.5 2.7 2.5 2.5 2.9 2.4 2.9 1.9 1.3 2.0 2.9 2.2 1.6 1.2 1.3 1.2 2.4 1.7 1.9 3.0 1.7 2.3 1.7" stroke-dashoffset="11.6" opacity="1.0"/><path d="M597.0,265.7H705.0" stroke="#00aaa5" stroke-width="1.2" stroke-dasharray="1.4 5.2 1.1 6.2 1.6 3.6 2.0 7.9 1.3 4.7 1.8 5.5 1.6 6.8 1.8 4.3 1.5 7.1 1.9 7.3 1.8 6.3 1.0 4.8 1.7 4.2 1.1 6.0" stroke-dashoffset="23.1" opacity="1.0"/><path d="M597.0,265.7H705.0" stroke="#00a700" stroke-width="1.2" stroke-dasharray="2.0 18.2 1.4 8.4 1.7 20.5 1.5 15.9 1.1 12.5 1.6 19.2 1.3 19.6 1.6 15.8 1.2 17.7 1.1 13.9 1.9 20.2 1.9 10.7 1.9 14.6 1.2 20.5" stroke-dashoffset="28.5" opacity="1.0"/><path d="M744.0,266.7H900.0" stroke="#0000cd" stroke-width="1.2" stroke-dasharray="3.9 1.4 1.7 2.8 3.1 2.8 3.2 3.0 3.2 2.5 3.8 1.6 3.8 1.5 3.9 1.9 2.9 0.5 2.0 1.2 1.0 1.3 1.8 0.8 1.8 2.7 1.6 2.2" stroke-dashoffset="29.8" opacity="1.0"/><path d="M744.0,266.7H900.0" stroke="#007add" stroke-width="1.2" stroke-dasharray="1.0 4.8 1.3 2.7 1.6 5.7 2.8 2.4 2.6 2.3 1.7 6.0 2.8 2.4 2.1 3.7 2.4 5.4 2.1 5.7 2.8 2.7 1.1 2.8 2.0 4.8 2.7 4.9" stroke-dashoffset="19.6" opacity="1.0"/><path d="M744.0,266.7H900.0" stroke="#00a7b3" stroke-width="1.2" stroke-dasharray="1.6 10.9 1.4 11.0 1.8 12.7 1.7 11.1 1.1 8.0 1.5 7.8 1.2 8.4 1.8 7.4 1.9 5.1 1.4 11.5 1.8 5.1 1.1 5.6 1.6 5.9 1.4 7.5" stroke-dashoffset="3.1" opacity="1.0"/><path d="M744.0,274.8H900.0" stroke="#0000dd" stroke-width="1.2" stroke-dasharray="3.1 1.2 3.7 1.0 2.2 1.0 4.1 0.5 3.6 0.5 4.6 0.8 3.6 0.6 3.6 1.7 4.7 1.7 4.7 0.5 4.4 0.6 4.6 2.0 4.2 1.4 4.2 0.6" stroke-dashoffset="25.9" opacity="1.0"/><path d="M744.0,274.8H900.0" stroke="#0090dd" stroke-width="1.2" stroke-dasharray="1.2 1.5 1.5 2.4 1.8 1.8 2.0 2.5 2.7 2.7 1.6 1.1 1.2 1.2 2.5 1.2 2.5 1.0 2.4 1.5 2.3 2.5 2.3 1.1 1.0 1.8 2.8 1.9" stroke-dashoffset="7.9" opacity="1.0"/><path d="M744.0,274.8H900.0" stroke="#00aaa5" stroke-width="1.2" stroke-dasharray="1.5 7.1 1.2 3.6 1.9 5.1 1.4 4.6 1.2 7.3 1.8 4.3 1.7 7.6 1.4 7.9 1.1 7.2 1.9 4.3 1.3 4.4 1.1 7.1 1.7 6.9 1.6 4.3" stroke-dashoffset="2.6" opacity="1.0"/><path d="M744.0,274.8H900.0" stroke="#00a700" stroke-width="1.2" stroke-dasharray="1.3 19.0 1.0 15.5 1.3 12.0 1.3 16.3 1.2 10.2 1.8 18.6 1.4 11.5 1.6 21.1 1.8 14.2 1.6 13.0 1.7 15.3 1.0 17.4 1.9 14.8 1.2 12.2" stroke-dashoffset="5.8" opacity="1.0"/><path d="M744.0,278.2H900.0" stroke="#0000cd" stroke-width="1.2" stroke-dasharray="3.5 2.3 1.9 1.3 1.4 1.6 3.9 2.4 3.8 0.7 3.8 2.8 3.4 0.8 3.6 2.9 3.2 1.8 2.0 2.7 2.8 1.3 1.2 0.5 3.1 1.2 1.4 1.3" stroke-dashoffset="13.9" opacity="1.0"/><path d="M744.0,278.2H900.0" stroke="#007add" stroke-width="1.2" stroke-dasharray="2.7 3.9 1.3 5.3 2.3 4.2 2.8 3.6 1.8 2.2 2.4 4.5 2.9 2.0 1.8 3.7 1.8 2.2 2.6 2.2 2.3 3.3 1.8 5.4 1.4 4.0 1.5 4.4" stroke-dashoffset="16.3" opacity="1.0"/><path d="M744.0,278.2H900.0" stroke="#00a7b3" stroke-width="1.2" stroke-dasharray="1.7 5.9 1.6 11.0 1.1 13.7 1.9 12.1 1.8 9.5 1.9 6.4 1.7 13.8 1.1 10.8 2.0 6.3 1.6 13.1 1.3 6.9 1.7 12.1 1.9 10.9 1.1 12.4" stroke-dashoffset="8.6" opacity="1.0"/><path d="M900.0,261.0H1000.0" stroke="#0000cd" stroke-width="1.2" stroke-dasharray="2.7 2.3 3.9 1.9 1.4 1.8 2.7 2.4 1.6 1.9 1.1 3.0 1.1 1.9 1.5 1.2 2.2 1.1 1.8 1.3 2.5 2.9 1.6 0.9 1.1 2.8 3.3 2.6" stroke-dashoffset="4.5" opacity="1.0"/><path d="M900.0,261.0H1000.0" stroke="#007add" stroke-width="1.2" stroke-dasharray="1.9 4.7 2.1 4.9 1.4 5.6 2.2 4.4 2.2 3.8 1.0 2.7 2.0 2.3 2.2 2.8 2.4 3.6 2.3 3.0 1.2 4.7 2.7 2.8 1.1 5.5 2.5 5.1" stroke-dashoffset="23.7" opacity="1.0"/><path d="M900.0,261.0H1000.0" stroke="#00a7b3" stroke-width="1.2" stroke-dasharray="1.4 13.6 1.8 11.8 1.9 13.2 1.6 5.5 1.6 9.5 1.0 7.8 1.8 10.6 1.9 11.8 1.2 11.4 1.0 12.8 1.3 13.7 1.0 11.7 1.1 12.8 1.8 9.6" stroke-dashoffset="16.9" opacity="1.0"/><path d="M900.0,266.0H1000.0" stroke="#0000dd" stroke-width="1.2" stroke-dasharray="2.7 1.0 2.4 1.1 2.4 1.5 3.5 1.0 3.0 1.9 4.8 2.0 3.1 0.6 2.5 1.8 3.1 0.7 4.9 0.8 3.7 1.1 2.4 1.1 4.4 1.3 4.6 0.5" stroke-dashoffset="3.2" opacity="1.0"/><path d="M900.0,266.0H1000.0" stroke="#0090dd" stroke-width="1.2" stroke-dasharray="1.9 2.3 1.8 1.6 2.6 2.7 2.3 1.3 2.5 2.2 2.5 2.5 2.1 1.8 2.7 2.9 2.9 1.6 1.4 1.4 2.4 2.9 1.5 1.9 2.1 1.8 2.1 1.7" stroke-dashoffset="17.6" opacity="1.0"/><path d="M900.0,266.0H1000.0" stroke="#00aaa5" stroke-width="1.2" stroke-dasharray="2.0 6.8 2.0 5.1 1.1 4.0 1.2 6.8 1.2 5.8 1.9 5.1 1.2 7.4 2.0 3.3 1.8 7.9 1.3 4.8 1.2 4.1 1.8 5.2 1.3 4.8 1.9 8.0" stroke-dashoffset="9.6" opacity="1.0"/><path d="M900.0,266.0H1000.0" stroke="#00a700" stroke-width="1.2" stroke-dasharray="1.3 11.8 1.8 20.7 1.2 9.5 1.3 19.6 1.8 21.3 1.4 8.6 1.0 19.3 1.4 10.4 1.3 9.4 1.9 14.0 1.5 10.8 1.5 11.6 1.9 20.1 1.7 15.9" stroke-dashoffset="21.9" opacity="1.0"/><path d="M900.0,275.0H1000.0" stroke="#0000cd" stroke-width="1.2" stroke-dasharray="1.3 1.4 3.6 2.5 1.9 1.5 1.4 0.5 3.9 1.0 3.4 0.9 2.4 1.9 1.6 1.2 1.4 0.5 2.1 2.6 1.7 1.6 2.2 1.8 1.6 0.6 2.0 2.9" stroke-dashoffset="17.4" opacity="1.0"/><path d="M900.0,275.0H1000.0" stroke="#007add" stroke-width="1.2" stroke-dasharray="1.9 3.2 2.4 2.6 2.2 4.0 1.1 4.0 1.7 2.0 1.9 2.8 1.2 4.7 2.1 3.6 2.4 5.5 1.7 4.1 2.8 3.1 1.9 3.9 1.7 4.2 2.6 5.5" stroke-dashoffset="12.4" opacity="1.0"/><path d="M900.0,275.0H1000.0" stroke="#00a7b3" stroke-width="1.2" stroke-dasharray="1.3 11.9 1.7 7.5 1.4 7.2 1.5 6.9 1.1 7.4 1.1 7.7 1.3 7.8 1.9 11.9 1.3 13.1 1.5 5.1 1.5 5.8 1.3 13.6 1.5 13.9 1.4 8.0" stroke-dashoffset="6.9" opacity="1.0"/><path d="M1020.0,278.0H1110.0" stroke="#0000cd" stroke-width="1.2" stroke-dasharray="1.7 2.4 2.8 2.7 2.4 2.7 3.7 0.7 3.0 0.7 2.1 0.8 2.9 0.8 1.3 2.3 3.0 2.6 3.7 2.3 3.5 1.2 2.4 1.9 2.2 1.7 2.4 1.8" stroke-dashoffset="1.2" opacity="1.0"/><path d="M1020.0,278.0H1110.0" stroke="#007add" stroke-width="1.2" stroke-dasharray="1.3 5.1 2.7 2.8 1.2 2.9 2.8 3.8 3.0 4.0 1.2 5.1 1.2 4.8 3.0 5.0 2.6 3.7 1.1 2.9 2.7 5.2 2.1 2.8 2.0 5.3 1.2 5.6" stroke-dashoffset="2.3" opacity="1.0"/><path d="M1020.0,278.0H1110.0" stroke="#00a7b3" stroke-width="1.2" stroke-dasharray="1.7 5.2 1.9 7.8 1.6 5.4 1.7 14.0 1.3 12.5 1.2 5.3 1.7 7.4 1.7 5.6 1.1 7.8 1.5 7.2 1.1 6.0 1.4 5.6 1.5 5.3 1.5 7.9" stroke-dashoffset="1.2" opacity="1.0"/><path d="M1020.0,266.0H1110.0" stroke="#0000cd" stroke-width="1.2" stroke-dasharray="1.1 2.0 3.1 1.0 2.7 0.7 2.4 2.5 1.6 1.7 3.7 1.2 3.3 0.7 1.8 2.4 3.6 1.2 2.2 1.3 1.6 1.3 3.5 1.9 3.5 1.9 3.0 1.9" stroke-dashoffset="6.4" opacity="1.0"/><path d="M1020.0,266.0H1110.0" stroke="#007add" stroke-width="1.2" stroke-dasharray="2.0 3.4 1.5 3.3 2.8 5.9 2.9 4.2 1.6 3.5 1.6 5.8 2.7 5.1 2.0 3.9 2.5 5.6 2.4 5.8 2.2 5.4 2.2 4.2 2.6 3.8 2.7 3.0" stroke-dashoffset="29.2" opacity="1.0"/><path d="M1020.0,266.0H1110.0" stroke="#00a7b3" stroke-width="1.2" stroke-dasharray="1.7 6.8 1.7 7.6 1.1 6.2 1.4 13.5 1.2 9.9 1.4 6.5 1.7 7.7 1.0 12.6 1.8 5.4 1.5 7.9 1.7 7.8 1.7 5.4 1.9 10.8 1.4 12.4" stroke-dashoffset="22.2" opacity="1.0"/><path d="M1170.0,266.0H1280.0" stroke="#0000dd" stroke-width="1.2" stroke-dasharray="2.9 0.6 3.9 1.1 4.6 0.7 4.5 1.8 2.6 0.9 3.8 0.9 3.5 1.3 3.2 0.7 2.9 1.7 4.4 0.7 4.1 1.8 3.8 1.9 3.8 1.2 3.2 1.4" stroke-dashoffset="19.8" opacity="1.0"/><path d="M1170.0,266.0H1280.0" stroke="#0090dd" stroke-width="1.2" stroke-dasharray="3.0 1.3 1.7 2.8 2.4 1.6 2.1 1.1 1.3 1.1 2.7 1.3 1.7 1.7 2.4 1.1 1.0 1.3 2.1 1.7 1.2 1.6 1.5 2.5 2.4 1.0 2.7 1.2" stroke-dashoffset="12.0" opacity="1.0"/><path d="M1170.0,266.0H1280.0" stroke="#00aaa5" stroke-width="1.2" stroke-dasharray="1.4 3.1 1.1 6.7 1.7 6.9 2.0 7.4 1.3 6.3 1.7 4.1 1.8 7.5 1.6 6.9 1.3 7.2 1.3 4.5 1.6 6.1 1.5 7.2 1.8 5.6 1.9 5.0" stroke-dashoffset="11.7" opacity="1.0"/><path d="M1170.0,266.0H1280.0" stroke="#00a700" stroke-width="1.2" stroke-dasharray="2.0 12.4 1.1 20.0 1.7 12.5 1.8 17.5 1.5 15.4 1.9 15.6 1.1 14.1 1.3 21.4 1.4 13.6 1.8 18.7 1.1 17.5 1.9 16.1 1.3 21.1 1.1 14.9" stroke-dashoffset="5.9" opacity="1.0"/><path d="M1170.0,275.0H1280.0" stroke="#0000dd" stroke-width="1.2" stroke-dasharray="3.7 1.1 4.6 0.6 3.4 0.9 2.3 1.8 3.9 1.0 3.6 1.2 2.2 1.0 2.1 0.6 4.5 1.7 2.9 0.5 4.6 0.6 2.7 1.8 3.7 1.2 4.3 1.9" stroke-dashoffset="17.3" opacity="1.0"/><path d="M1170.0,275.0H1280.0" stroke="#0090dd" stroke-width="1.2" stroke-dasharray="2.8 1.1 2.0 2.4 2.7 2.0 2.3 1.6 2.5 2.2 3.0 2.1 1.4 2.6 1.9 1.3 2.9 2.0 1.3 1.4 1.5 2.9 2.6 1.1 2.4 1.7 1.9 2.5" stroke-dashoffset="8.8" opacity="1.0"/><path d="M1170.0,275.0H1280.0" stroke="#00aaa5" stroke-width="1.2" stroke-dasharray="1.3 7.7 1.8 7.2 1.7 7.8 1.8 6.7 1.3 6.5 1.9 5.9 1.7 3.9 1.5 5.6 1.7 5.6 1.2 7.9 1.5 3.6 1.8 4.8 2.0 3.2 1.8 6.4" stroke-dashoffset="21.5" opacity="1.0"/><path d="M1170.0,275.0H1280.0" stroke="#00a700" stroke-width="1.2" stroke-dasharray="1.0 15.1 1.5 12.2 1.1 16.6 1.4 21.8 1.2 13.5 1.7 9.9 1.2 9.2 1.8 19.0 1.1 11.9 1.7 8.8 1.1 10.6 1.8 11.5 1.7 10.3 1.6 17.4" stroke-dashoffset="19.2" opacity="1.0"/><path d="M1170.0,279.5H1280.0" stroke="#0000cd" stroke-width="1.2" stroke-dasharray="1.5 1.7 1.8 1.3 2.0 2.8 1.6 1.5 3.3 0.7 3.3 2.8 2.9 2.8 2.4 2.4 4.0 1.7 2.4 2.9 3.1 1.8 2.2 2.3 3.9 1.8 2.4 1.8" stroke-dashoffset="1.2" opacity="1.0"/><path d="M1170.0,279.5H1280.0" stroke="#007add" stroke-width="1.2" stroke-dasharray="2.6 4.9 2.3 4.8 2.6 3.7 2.1 3.0 2.1 4.6 2.1 2.8 1.6 2.2 1.8 4.3 1.7 4.7 1.8 3.9 1.4 4.1 1.4 2.9 1.9 4.5 2.0 2.9" stroke-dashoffset="17.1" opacity="1.0"/><path d="M1170.0,279.5H1280.0" stroke="#00a7b3" stroke-width="1.2" stroke-dasharray="1.7 6.9 1.1 12.8 1.3 10.1 1.5 9.6 1.3 6.4 1.7 11.1 1.9 9.5 1.9 9.5 2.0 6.5 1.3 11.9 1.4 10.1 1.9 6.9 1.1 5.2 1.6 13.5" stroke-dashoffset="7.2" opacity="1.0"/><path d="M1300.0,266.5H1420.0" stroke="#0000cd" stroke-width="1.2" stroke-dasharray="2.5 1.6 2.5 2.6 3.7 2.0 2.4 2.8 2.3 1.3 2.4 2.2 1.7 2.4 2.1 0.7 3.1 2.7 3.7 3.0 1.1 2.9 3.7 2.7 1.0 2.2 1.6 2.8" stroke-dashoffset="8.3" opacity="1.0"/><path d="M1300.0,266.5H1420.0" stroke="#007add" stroke-width="1.2" stroke-dasharray="1.1 4.3 2.4 4.1 1.8 2.3 2.4 2.0 2.2 2.4 1.9 4.3 1.5 5.0 1.5 5.5 1.8 4.7 1.9 3.3 1.2 4.4 1.1 3.9 1.8 3.2 1.5 3.9" stroke-dashoffset="26.4" opacity="1.0"/><path d="M1300.0,266.5H1420.0" stroke="#00a7b3" stroke-width="1.2" stroke-dasharray="1.8 7.8 1.6 10.7 1.7 10.6 1.1 6.3 1.8 7.4 1.6 5.5 1.6 7.6 1.0 5.1 1.2 9.6 1.8 5.3 1.5 8.0 1.6 11.3 1.1 7.2 1.9 11.0" stroke-dashoffset="5.0" opacity="1.0"/><path d="M1300.0,275.5H1420.0" stroke="#0000cd" stroke-width="1.2" stroke-dasharray="2.6 1.4 1.5 1.5 2.6 2.1 3.6 1.2 4.0 1.4 2.9 1.5 2.3 2.2 3.2 0.7 1.1 1.4 2.0 1.6 3.8 1.3 1.7 1.6 2.0 1.5 2.6 0.8" stroke-dashoffset="22.7" opacity="1.0"/><path d="M1300.0,275.5H1420.0" stroke="#007add" stroke-width="1.2" stroke-dasharray="2.3 5.0 1.9 2.7 2.5 5.5 2.8 4.9 1.3 3.2 2.4 2.2 1.6 3.5 2.6 2.1 1.5 4.5 1.0 3.2 2.5 3.9 2.5 3.0 2.4 2.6 2.3 5.2" stroke-dashoffset="1.9" opacity="1.0"/><path d="M1300.0,275.5H1420.0" stroke="#00a7b3" stroke-width="1.2" stroke-dasharray="1.3 8.0 1.9 5.6 1.4 14.0 1.1 13.6 1.1 9.9 1.4 11.2 1.3 9.2 1.9 6.5 1.9 5.9 1.2 7.0 1.5 7.8 1.5 5.5 1.3 5.0 1.1 10.9" stroke-dashoffset="16.7" opacity="1.0"/><path d="M1430.0,275.0H1600.0" stroke="#0000cd" stroke-width="1.2" stroke-dasharray="2.4 0.6 3.3 0.7 3.1 1.5 3.6 0.7 2.1 0.6 3.8 2.0 2.0 0.9 3.7 1.4 1.4 1.7 2.1 2.5 1.2 2.4 3.7 0.7 3.0 2.3 3.3 2.7" stroke-dashoffset="14.0" opacity="1.0"/><path d="M1430.0,275.0H1600.0" stroke="#007add" stroke-width="1.2" stroke-dasharray="2.3 4.3 1.9 2.5 2.1 4.1 1.7 4.9 2.8 4.0 1.8 4.0 2.5 3.2 2.7 4.6 2.4 4.4 1.1 4.6 2.7 4.7 2.7 2.6 1.9 4.9 2.9 2.3" stroke-dashoffset="6.1" opacity="1.0"/><path d="M1430.0,275.0H1600.0" stroke="#00a7b3" stroke-width="1.2" stroke-dasharray="1.2 7.3 1.6 8.7 1.9 11.1 1.7 13.2 1.9 5.3 1.4 10.8 1.7 13.1 1.2 9.5 1.9 6.7 1.0 8.8 1.2 5.3 1.4 10.7 1.6 12.7 1.3 7.5" stroke-dashoffset="27.1" opacity="1.0"/><path d="M1430.0,267.0H1645.0" stroke="#0000bd" stroke-width="1.2" stroke-dasharray="1.1 2.8 1.3 3.3 1.2 3.5 1.6 3.8 2.3 3.3 1.4 3.0 2.3 2.2 2.1 2.6 2.7 4.0 2.6 2.5 1.2 2.9 2.9 1.6 1.3 1.6 1.2 2.5" stroke-dashoffset="6.0" opacity="1.0"/><path d="M1430.0,267.0H1645.0" stroke="#0041dd" stroke-width="1.2" stroke-dasharray="1.9 8.3 1.9 6.2 1.4 7.0 1.4 6.4 1.1 6.3 1.6 4.3 1.2 5.6 1.9 9.0 1.7 5.0 1.3 8.6 1.3 6.6 1.7 4.7 1.9 4.5 2.0 7.2" stroke-dashoffset="15.8" opacity="1.0"/><path d="M198.0,271.0H1645.1" stroke="#001cdd" stroke-width="3.8" opacity="0.4"/><path d="M198.0,271.0H1440" stroke="#009ecf" stroke-width="2.6" opacity="0.6"/><path d="M198.0,270.99H1645.1v0.02H198.0z" stroke="url(#cg)" stroke-width="1.7" fill="none"/><path d="M265.0,245.0V300.0" stroke="#0000bd" stroke-width="1.0" stroke-dasharray="2.4 4.1 2.6 2.3 2.4 4.6 2.5 4.8 1.8 4.3 2.5 4.2 2.0 3.4 2.8 2.7 1.6 2.5 2.7 4.5 1.7 3.2 2.6 3.9" stroke-dashoffset="12.9" opacity="1.0"/><path d="M265.0,245.0V300.0" stroke="#0067dd" stroke-width="1.0" stroke-dasharray="2.0 8.2 1.1 6.9 1.4 5.2 1.6 8.4 1.7 11.3 1.2 6.2 1.6 9.9 1.7 4.4 1.8 5.9 1.1 11.7 1.1 11.6 1.2 5.6" stroke-dashoffset="27.4" opacity="1.0"/><path d="M272.0,240.0V305.0" stroke="#0000bd" stroke-width="1.0" stroke-dasharray="2.5 4.9 1.1 4.0 1.9 2.8 1.9 4.4 1.9 4.8 2.9 3.8 1.2 2.4 2.1 4.5 3.0 4.2 1.0 4.7 2.2 2.4 2.4 4.8" stroke-dashoffset="8.2" opacity="1.0"/><path d="M272.0,240.0V305.0" stroke="#0067dd" stroke-width="1.0" stroke-dasharray="1.6 9.0 1.6 6.7 1.5 11.4 1.6 5.3 1.6 10.0 1.1 10.9 1.5 5.7 1.2 4.6 1.8 10.6 1.4 11.9 1.2 4.0 1.8 10.1" stroke-dashoffset="5.5" opacity="1.0"/><path d="M417.0,255.0V320.0" stroke="#0000bd" stroke-width="1.0" stroke-dasharray="1.6 2.2 2.1 3.6 2.3 4.5 2.7 3.0 1.8 2.5 2.2 3.2 2.4 2.9 1.7 4.0 1.3 2.7 2.1 4.0 1.2 3.2 1.9 3.2" stroke-dashoffset="2.1" opacity="1.0"/><path d="M417.0,255.0V320.0" stroke="#0067dd" stroke-width="1.0" stroke-dasharray="1.7 9.6 1.2 8.3 1.8 9.9 1.0 6.5 1.2 10.9 1.7 10.0 1.0 10.0 1.1 5.5 1.5 8.9 1.3 10.9 1.7 11.7 1.1 7.8" stroke-dashoffset="11.0" opacity="1.0"/><path d="M425.0,250.0V300.0" stroke="#0000bd" stroke-width="1.0" stroke-dasharray="1.8 2.3 2.8 2.4 1.1 2.1 2.6 4.6 1.6 2.6 1.6 3.3 2.2 2.8 2.5 4.2 2.9 4.8 2.5 4.8 2.6 3.2 1.0 2.6" stroke-dashoffset="28.3" opacity="1.0"/><path d="M425.0,250.0V300.0" stroke="#0067dd" stroke-width="1.0" stroke-dasharray="1.7 10.5 1.1 10.3 1.3 6.4 1.4 10.7 1.7 11.9 1.0 7.5 1.6 7.6 1.4 11.2 1.5 5.2 1.4 7.2 1.3 4.8 1.8 9.6" stroke-dashoffset="29.2" opacity="1.0"/><path d="M560.0,235.0V300.0" stroke="#1800a7" stroke-width="1.0" stroke-dasharray="2.4 5.5 2.8 6.1 2.8 7.4 2.0 4.1 1.7 7.4 1.8 5.0 1.4 6.9 1.0 7.3 1.3 4.1 1.6 5.1 2.2 6.7 2.0 6.4" stroke-dashoffset="1.2" opacity="0.85"/><path d="M560.0,235.0V300.0" stroke="#0000dd" stroke-width="1.0" stroke-dasharray="1.6 11.8 1.1 15.7 1.6 10.8 1.2 11.2 1.8 13.0 1.1 9.1 1.9 7.1 1.6 14.7 1.7 12.3 1.0 8.8 1.2 8.6 1.7 9.2" stroke-dashoffset="0.5" opacity="0.85"/><path d="M572.0,230.0V300.0" stroke="#0000bd" stroke-width="1.0" stroke-dasharray="1.1 3.2 1.9 3.7 1.6 4.4 2.9 4.7 2.9 3.1 1.9 4.6 1.3 4.7 2.6 2.9 1.0 3.6 1.4 2.6 1.8 3.2 2.5 4.1" stroke-dashoffset="24.1" opacity="1.0"/><path d="M572.0,230.0V300.0" stroke="#0067dd" stroke-width="1.0" stroke-dasharray="1.8 7.2 1.3 7.0 1.5 7.9 1.6 11.3 1.4 8.5 1.2 8.6 1.6 9.4 1.5 5.1 1.4 6.2 1.2 11.4 1.7 11.5 1.9 6.2" stroke-dashoffset="9.1" opacity="1.0"/><path d="M720.0,250.0V295.0" stroke="#1800a7" stroke-width="1.0" stroke-dasharray="2.0 5.0 1.8 3.4 2.8 7.3 2.2 4.9 2.2 5.7 1.8 6.6 1.5 4.8 2.7 6.6 1.4 4.7 2.0 3.8 2.5 6.1 1.7 4.7" stroke-dashoffset="5.6" opacity="0.85"/><path d="M720.0,250.0V295.0" stroke="#0000dd" stroke-width="1.0" stroke-dasharray="1.2 11.7 1.5 14.4 1.8 13.3 1.6 8.4 1.4 15.0 1.8 13.5 1.9 14.4 1.3 15.1 2.0 11.9 1.6 14.3 1.8 15.0 1.5 14.7" stroke-dashoffset="13.2" opacity="0.85"/><path d="M870.0,250.0V300.0" stroke="#1800a7" stroke-width="1.0" stroke-dasharray="1.9 5.5 2.2 3.1 1.5 7.2 1.1 7.4 2.9 5.3 2.8 7.5 1.8 6.9 1.4 5.0 1.3 4.5 3.0 6.2 1.7 3.5 2.7 7.7" stroke-dashoffset="29.7" opacity="0.85"/><path d="M870.0,250.0V300.0" stroke="#0000dd" stroke-width="1.0" stroke-dasharray="1.0 13.9 1.3 8.0 1.5 9.1 1.9 7.5 1.4 7.7 1.7 10.9 1.5 15.0 1.6 11.1 1.9 11.9 1.9 12.4 1.7 11.3 1.1 11.8" stroke-dashoffset="26.3" opacity="0.85"/><path d="M992.0,215.0V330.0" stroke="#0000cd" stroke-width="1.0" stroke-dasharray="3.3 3.9 1.8 3.6 1.5 1.0 1.1 1.6 1.7 3.4 2.5 3.6 2.1 1.4 1.9 1.6 3.3 3.8 2.6 2.7 2.7 3.1 3.5 3.5" stroke-dashoffset="13.4" opacity="1.0"/><path d="M992.0,215.0V330.0" stroke="#0085dd" stroke-width="1.0" stroke-dasharray="2.0 3.9 1.3 2.3 2.6 3.8 1.3 2.2 1.0 3.7 2.1 5.7 2.5 3.6 2.2 2.1 1.3 3.8 2.2 4.7 2.8 3.4 1.8 2.6" stroke-dashoffset="8.4" opacity="1.0"/><path d="M992.0,215.0V330.0" stroke="#00a7b3" stroke-width="1.0" stroke-dasharray="1.2 12.4 1.6 12.1 1.1 9.3 1.7 7.0 1.5 5.4 1.6 10.4 1.6 5.4 1.5 8.3 1.2 13.9 1.5 11.4 1.5 13.0 1.2 9.4" stroke-dashoffset="21.0" opacity="1.0"/><path d="M1000.0,222.0V322.0" stroke="#0000cd" stroke-width="1.0" stroke-dasharray="1.5 1.4 2.5 2.6 3.6 2.9 1.7 2.0 3.5 1.5 1.9 2.0 2.8 3.1 1.5 2.3 3.6 3.0 3.6 3.6 2.6 1.8 2.0 2.6" stroke-dashoffset="27.1" opacity="1.0"/><path d="M1000.0,222.0V322.0" stroke="#0085dd" stroke-width="1.0" stroke-dasharray="1.6 5.1 1.5 3.0 1.1 3.6 2.6 3.7 2.2 2.4 1.6 4.1 1.0 3.1 2.6 2.4 2.6 4.5 1.5 2.7 2.3 4.3 1.7 5.2" stroke-dashoffset="16.4" opacity="1.0"/><path d="M1000.0,222.0V322.0" stroke="#00a7b3" stroke-width="1.0" stroke-dasharray="1.9 8.1 1.4 12.5 1.3 11.9 1.8 10.9 1.6 12.8 1.2 13.6 1.9 8.1 1.0 14.0 1.9 10.8 2.0 6.4 1.3 8.6 1.2 6.6" stroke-dashoffset="25.8" opacity="1.0"/><path d="M1000.8,240.0V300.0" stroke="#0000cd" stroke-width="1.0" stroke-dasharray="2.5 2.2 2.2 3.1 3.1 2.2 1.3 2.0 1.9 1.5 2.8 3.9 2.7 1.2 1.4 3.8 3.9 2.1 2.4 1.8 3.0 3.7 2.8 3.1" stroke-dashoffset="0.3" opacity="1.0"/><path d="M1000.8,240.0V300.0" stroke="#0085dd" stroke-width="1.0" stroke-dasharray="2.7 4.2 1.1 3.3 2.5 2.8 2.6 4.5 2.3 5.6 2.8 3.3 1.3 4.8 2.5 3.1 1.8 5.4 1.3 2.4 2.9 2.0 1.4 2.1" stroke-dashoffset="13.6" opacity="1.0"/><path d="M1000.8,240.0V300.0" stroke="#00a7b3" stroke-width="1.0" stroke-dasharray="1.7 7.0 1.1 9.5 1.2 10.1 1.4 7.4 1.8 7.4 1.6 5.4 1.9 6.7 1.7 13.9 1.2 11.2 1.1 13.3 1.7 11.4 1.0 8.5" stroke-dashoffset="17.9" opacity="1.0"/><path d="M1135.0,215.0V330.0" stroke="#0000cd" stroke-width="1.0" stroke-dasharray="1.8 3.3 2.7 1.6 3.6 2.9 1.7 2.0 3.0 2.9 2.3 3.0 1.2 1.7 1.3 3.1 3.2 3.1 2.9 2.0 2.5 2.3 1.4 3.4" stroke-dashoffset="4.0" opacity="1.0"/><path d="M1135.0,215.0V330.0" stroke="#0085dd" stroke-width="1.0" stroke-dasharray="1.6 5.0 2.7 2.4 2.5 3.0 2.8 2.4 3.0 3.1 1.5 5.3 1.7 2.6 1.6 5.7 2.1 3.9 2.1 2.4 2.1 4.8 1.0 2.7" stroke-dashoffset="27.8" opacity="1.0"/><path d="M1135.0,215.0V330.0" stroke="#00a7b3" stroke-width="1.0" stroke-dasharray="1.5 7.4 1.6 8.5 1.1 13.6 1.3 9.2 1.4 12.3 1.4 8.0 1.5 13.8 1.9 5.5 1.9 10.4 1.1 8.0 1.7 13.4 1.8 8.1" stroke-dashoffset="14.6" opacity="1.0"/><path d="M1141.0,230.0V315.0" stroke="#0000cd" stroke-width="1.0" stroke-dasharray="3.3 2.8 2.6 1.2 1.5 1.4 1.7 3.1 2.6 2.4 2.7 1.5 1.5 2.8 3.9 1.6 2.6 1.6 1.2 3.9 3.3 3.4 3.0 1.2" stroke-dashoffset="10.7" opacity="1.0"/><path d="M1141.0,230.0V315.0" stroke="#0085dd" stroke-width="1.0" stroke-dasharray="3.0 3.9 2.4 5.8 2.4 2.7 2.8 5.0 1.5 2.2 1.6 3.7 1.5 3.5 1.9 2.9 2.8 4.6 2.9 4.5 1.4 2.3 1.6 4.2" stroke-dashoffset="26.1" opacity="1.0"/><path d="M1141.0,230.0V315.0" stroke="#00a7b3" stroke-width="1.0" stroke-dasharray="1.8 13.3 1.8 9.6 1.4 6.4 1.0 12.0 1.6 7.4 1.1 5.2 1.5 7.2 1.9 5.6 1.5 9.2 1.7 6.8 1.6 7.2 1.4 7.0" stroke-dashoffset="24.7" opacity="1.0"/><path d="M1148.0,212.0V334.0" stroke="#0000cd" stroke-width="1.0" stroke-dasharray="2.5 1.0 2.4 3.5 1.3 3.5 3.0 3.2 3.2 1.1 2.2 3.5 3.1 3.3 2.9 2.1 3.5 1.4 3.6 3.5 2.4 2.8 3.1 1.1" stroke-dashoffset="4.8" opacity="1.0"/><path d="M1148.0,212.0V334.0" stroke="#0085dd" stroke-width="1.0" stroke-dasharray="2.6 3.1 1.8 5.1 2.4 2.2 1.8 2.9 1.9 3.6 1.7 5.1 2.0 4.5 1.4 3.2 1.9 4.4 1.9 5.1 1.7 2.9 1.6 3.9" stroke-dashoffset="25.5" opacity="1.0"/><path d="M1148.0,212.0V334.0" stroke="#00a7b3" stroke-width="1.0" stroke-dasharray="1.7 7.0 2.0 13.0 1.6 9.6 1.9 11.1 1.6 5.4 1.5 12.6 1.4 13.5 1.4 8.8 1.8 8.9 1.2 10.6 1.1 6.0 1.6 9.8" stroke-dashoffset="3.6" opacity="1.0"/><path d="M1148.8,240.0V320.0" stroke="#0000cd" stroke-width="1.0" stroke-dasharray="2.2 1.0 3.6 3.6 1.2 2.1 1.7 3.0 2.5 2.7 3.6 2.7 2.7 3.2 1.7 3.2 3.8 2.8 3.7 2.0 1.9 2.7 1.2 2.6" stroke-dashoffset="3.1" opacity="1.0"/><path d="M1148.8,240.0V320.0" stroke="#0085dd" stroke-width="1.0" stroke-dasharray="2.2 5.8 1.0 3.3 1.0 3.4 1.7 2.0 1.3 4.5 2.0 4.7 1.7 4.9 2.3 5.1 1.6 4.0 1.1 3.3 2.0 5.3 2.9 5.0" stroke-dashoffset="8.5" opacity="1.0"/><path d="M1148.8,240.0V320.0" stroke="#00a7b3" stroke-width="1.0" stroke-dasharray="1.4 11.8 1.9 13.4 1.4 8.0 1.7 9.5 1.8 8.9 1.2 8.5 1.5 11.4 1.4 13.7 1.1 8.6 1.2 6.5 1.9 13.2 2.0 10.0" stroke-dashoffset="1.3" opacity="1.0"/><path d="M1322.0,190.0V350.0" stroke="#1800a7" stroke-width="1.0" stroke-dasharray="1.1 4.2 2.9 4.7 2.9 4.9 1.1 6.9 2.5 5.9 2.1 6.5 1.3 4.7 1.8 3.6 2.3 5.8 1.3 7.3 1.2 4.9 1.4 6.8" stroke-dashoffset="5.5" opacity="0.85"/><path d="M1322.0,190.0V350.0" stroke="#0000dd" stroke-width="1.0" stroke-dasharray="1.1 14.2 1.4 13.5 1.7 14.7 1.3 14.0 1.5 14.2 1.3 7.1 1.6 15.2 1.3 11.6 1.6 6.8 1.6 13.9 1.3 6.1 1.3 10.2" stroke-dashoffset="18.1" opacity="0.85"/><path d="M1346.0,220.0V320.0" stroke="#1800a7" stroke-width="1.0" stroke-dasharray="1.4 3.2 2.8 5.8 1.9 6.9 1.2 6.4 2.7 5.0 1.8 7.6 1.3 6.2 2.0 5.5 2.3 5.9 2.3 4.2 2.5 5.2 1.5 3.8" stroke-dashoffset="22.6" opacity="0.85"/><path d="M1346.0,220.0V320.0" stroke="#0000dd" stroke-width="1.0" stroke-dasharray="1.9 14.7 1.8 15.6 2.0 11.4 1.7 6.8 1.0 7.1 1.6 15.5 1.5 15.1 1.2 13.0 1.6 7.4 1.3 13.2 1.5 13.0 1.5 14.3" stroke-dashoffset="17.7" opacity="0.85"/><path d="M1375.0,230.0V310.0" stroke="#1800a7" stroke-width="1.0" stroke-dasharray="2.1 7.2 2.7 6.2 3.0 6.2 2.7 5.7 2.6 4.8 1.8 6.4 2.8 7.3 2.8 6.2 2.8 8.0 1.3 4.4 1.6 5.4 2.7 7.4" stroke-dashoffset="18.9" opacity="0.85"/><path d="M1375.0,230.0V310.0" stroke="#0000dd" stroke-width="1.0" stroke-dasharray="1.1 9.9 1.7 14.7 1.1 14.7 1.8 14.0 1.6 16.0 1.7 10.4 2.0 11.2 2.0 11.7 1.8 13.0 1.0 7.2 1.9 6.5 1.4 11.5" stroke-dashoffset="25.8" opacity="0.85"/><path d="M1225.0,245.0V300.0" stroke="#0000bd" stroke-width="1.0" stroke-dasharray="1.4 3.0 2.7 3.3 2.5 2.4 2.4 3.5 2.9 3.3 1.8 2.9 1.4 3.9 1.3 3.0 2.0 4.6 1.4 2.5 2.8 4.1 1.8 2.2" stroke-dashoffset="9.5" opacity="1.0"/><path d="M1225.0,245.0V300.0" stroke="#0067dd" stroke-width="1.0" stroke-dasharray="1.2 4.6 1.3 7.1 1.7 11.8 1.3 5.9 1.2 5.4 1.7 8.5 1.2 7.4 1.4 7.9 1.8 10.7 1.8 8.0 1.7 11.9 1.9 8.2" stroke-dashoffset="25.4" opacity="1.0"/><path d="M1268.0,245.0V300.0" stroke="#0000bd" stroke-width="1.0" stroke-dasharray="1.3 3.5 2.0 3.4 2.2 4.8 1.7 3.2 2.7 3.5 2.1 4.7 1.0 3.3 2.6 3.6 1.7 2.3 2.4 3.8 1.3 2.0 2.1 3.7" stroke-dashoffset="23.1" opacity="1.0"/><path d="M1268.0,245.0V300.0" stroke="#0067dd" stroke-width="1.0" stroke-dasharray="1.6 4.3 1.7 6.6 1.7 9.3 1.8 6.2 1.4 7.4 1.5 6.7 1.1 5.7 1.4 5.9 1.6 6.8 1.6 5.7 1.6 8.6 1.9 10.1" stroke-dashoffset="26.3" opacity="1.0"/><path d="M1607.0,250.0V295.0" stroke="#0000bd" stroke-width="1.0" stroke-dasharray="2.1 3.7 1.1 3.5 1.9 2.2 1.9 3.5 2.0 5.0 1.2 3.6 1.6 3.0 1.9 4.7 2.7 2.5 1.6 3.8 2.4 3.8 1.5 4.0" stroke-dashoffset="14.4" opacity="1.0"/><path d="M1607.0,250.0V295.0" stroke="#0067dd" stroke-width="1.0" stroke-dasharray="1.5 11.3 1.3 10.8 1.7 9.5 1.4 6.5 1.7 8.5 1.1 5.1 1.7 4.2 1.5 4.9 1.7 6.4 1.6 6.9 1.8 4.3 2.0 9.6" stroke-dashoffset="0.2" opacity="1.0"/><path d="M1413.0,240.0V300.0" stroke="#0000bd" stroke-width="1.0" stroke-dasharray="1.2 3.4 2.8 3.0 1.0 4.4 1.3 2.7 2.5 3.8 2.8 4.4 1.0 3.9 2.6 3.7 2.6 4.1 2.1 4.6 2.4 2.8 2.1 4.7" stroke-dashoffset="19.4" opacity="1.0"/><path d="M1413.0,240.0V300.0" stroke="#0067dd" stroke-width="1.0" stroke-dasharray="1.9 4.8 1.2 6.8 1.6 5.6 1.1 9.7 1.5 5.5 2.0 4.2 1.7 11.2 1.7 7.7 1.2 9.2 1.2 11.6 1.5 7.1 1.5 11.7" stroke-dashoffset="3.4" opacity="1.0"/><path d="M650.0,372.0V398.0" stroke="#0000bd" stroke-width="1.0" stroke-dasharray="2.4 2.4 1.5 2.7 2.3 3.9 1.6 3.6 2.6 2.2 1.9 3.1 2.5 4.6 2.6 3.2 2.8 4.3 2.1 4.7 1.1 3.0 2.5 4.0" stroke-dashoffset="28.7" opacity="1.0"/><path d="M650.0,372.0V398.0" stroke="#0067dd" stroke-width="1.0" stroke-dasharray="1.9 9.2 1.4 7.4 1.9 6.1 1.3 4.1 1.1 10.7 1.3 7.0 1.9 5.9 1.9 6.8 1.8 11.6 1.5 11.2 1.3 6.2 1.8 9.9" stroke-dashoffset="28.0" opacity="1.0"/><path d="M662.0,368.0V398.0" stroke="#0000bd" stroke-width="1.0" stroke-dasharray="1.9 4.8 1.1 4.9 1.4 4.1 2.8 4.6 2.2 4.3 1.9 4.0 1.4 2.4 2.6 3.6 2.7 2.2 1.3 4.2 2.0 2.4 2.4 3.6" stroke-dashoffset="7.5" opacity="1.0"/><path d="M662.0,368.0V398.0" stroke="#0067dd" stroke-width="1.0" stroke-dasharray="1.2 9.1 2.0 6.8 1.2 9.2 1.7 9.4 1.4 10.5 1.3 10.7 1.9 11.7 1.5 5.8 1.7 4.3 1.7 6.3 1.9 4.3 1.9 7.4" stroke-dashoffset="9.5" opacity="1.0"/><path d="M656.0,380.0V398.0" stroke="#1800a7" stroke-width="1.0" stroke-dasharray="2.2 8.0 2.7 5.2 2.0 3.6 2.2 4.0 1.2 5.3 1.1 4.8 2.1 7.1 1.6 6.4 1.6 4.6 1.6 5.1 1.2 5.7 2.8 5.1" stroke-dashoffset="18.2" opacity="0.85"/><path d="M656.0,380.0V398.0" stroke="#0000dd" stroke-width="1.0" stroke-dasharray="1.6 11.5 1.1 6.2 1.3 14.7 1.0 11.8 1.1 6.0 1.1 12.8 1.0 10.6 1.7 12.5 1.4 15.0 1.6 8.2 1.2 14.3 1.2 9.5" stroke-dashoffset="22.4" opacity="0.85"/><path d="M1030.0,254.5v34.2" stroke="#00aaa5" stroke-width="1" stroke-dasharray="1.8 2.9 2.6 1.3 1.8 1.4 2.7 2.2"/><path d="M940.2,249.2v30.9" stroke="#0000cd" stroke-width="1" stroke-dasharray="1.4 1.0 1.5 4.0 1.5 1.5 2.4 4.0"/><path d="M1630.2,264.0v23.0" stroke="#0041dd" stroke-width="1" stroke-dasharray="1.1 1.6 2.7 1.6 1.1 2.4 2.7 3.7"/><path d="M442.0,266.1v14.5" stroke="#0000cd" stroke-width="1" stroke-dasharray="1.8 3.7 2.4 2.6 2.9 1.6 2.0 3.9"/><path d="M247.2,265.4v11.6" stroke="#009ecf" stroke-width="1" stroke-dasharray="2.0 2.9 3.0 2.1 2.9 1.6 1.2 3.0"/><path d="M1400.8,264.8v13.4" stroke="#0041dd" stroke-width="1" stroke-dasharray="1.6 3.7 2.2 1.7 1.3 2.8 2.3 2.7"/><path d="M575.8,258.6v27.6" stroke="#0041dd" stroke-width="1" stroke-dasharray="1.1 3.0 1.4 3.7 1.7 2.6 2.5 2.7"/><path d="M414.2,249.4v35.5" stroke="#0000cd" stroke-width="1" stroke-dasharray="1.4 2.2 2.9 2.2 1.6 3.1 2.5 3.8"/><path d="M873.7,262.6v18.4" stroke="#0085dd" stroke-width="1" stroke-dasharray="2.8 2.6 2.4 3.5 1.2 1.6 1.5 3.5"/><path d="M1075.5,265.8v14.9" stroke="#0000cd" stroke-width="1" stroke-dasharray="2.6 1.8 1.8 2.0 1.6 2.7 1.2 1.1"/><path d="M1330.4,263.6v14.0" stroke="#0041dd" stroke-width="1" stroke-dasharray="2.5 2.6 2.5 2.2 1.7 2.4 2.8 3.3"/><path d="M898.8,251.9v35.0" stroke="#00aaa5" stroke-width="1" stroke-dasharray="2.0 1.0 2.9 1.7 1.5 3.6 1.2 2.5"/><path d="M538.5,267.8v8.8" stroke="#0041dd" stroke-width="1" stroke-dasharray="1.8 3.6 2.9 3.0 1.6 2.0 1.5 2.1"/><path d="M1366.4,263.4v13.9" stroke="#0000cd" stroke-width="1" stroke-dasharray="2.4 1.3 1.8 4.0 1.3 3.6 2.8 2.0"/><path d="M509.7,266.4v11.0" stroke="#0000cd" stroke-width="1" stroke-dasharray="2.3 3.4 2.9 2.6 1.0 1.7 1.3 2.5"/><path d="M498.4,262.5v16.4" stroke="#0041dd" stroke-width="1" stroke-dasharray="1.2 3.3 2.6 3.0 2.8 1.2 2.9 1.6"/><path d="M434.5,268.5v6.1" stroke="#00aaa5" stroke-width="1" stroke-dasharray="2.8 1.4 1.6 3.6 2.0 1.3 2.2 2.8"/><path d="M1368.3,268.1v6.7" stroke="#0041dd" stroke-width="1" stroke-dasharray="2.2 1.8 1.8 2.3 1.7 1.2 2.0 2.1"/><path d="M299.3,264.2v12.4" stroke="#0041dd" stroke-width="1" stroke-dasharray="2.9 3.0 2.4 1.2 3.0 3.2 2.4 1.4"/><path d="M996.8,263.9v15.9" stroke="#009ecf" stroke-width="1" stroke-dasharray="1.8 2.1 2.1 3.8 1.8 3.8 1.2 1.1"/><path d="M1393.0,256.0v32.7" stroke="#0085dd" stroke-width="1" stroke-dasharray="1.6 2.9 1.5 2.8 2.2 2.1 2.4 2.2"/><path d="M743.3,266.3v10.1" stroke="#00aaa5" stroke-width="1" stroke-dasharray="2.3 2.3 1.1 3.8 1.6 1.2 1.4 1.0"/><path d="M1463.6,262.0v20.3" stroke="#009ecf" stroke-width="1" stroke-dasharray="2.5 2.5 2.6 3.4 1.1 1.7 1.4 1.8"/><path d="M1461.2,260.7v15.2" stroke="#009ecf" stroke-width="1" stroke-dasharray="1.4 3.3 1.8 1.0 1.4 2.9 1.6 3.5"/><path d="M263.6,264.7v11.8" stroke="#00aaa5" stroke-width="1" stroke-dasharray="2.7 1.6 1.1 2.3 1.4 2.8 2.9 2.4"/><path d="M1025.9,266.8v7.4" stroke="#0085dd" stroke-width="1" stroke-dasharray="1.7 2.8 2.0 1.0 1.6 3.0 1.7 1.2"/><path d="M1261.1,268.7v7.8" stroke="#0000cd" stroke-width="1" stroke-dasharray="2.2 2.4 2.5 2.8 2.8 1.6 1.6 2.6"/><path d="M582.5,256.2v23.9" stroke="#0041dd" stroke-width="1" stroke-dasharray="1.2 3.2 2.4 3.2 1.4 2.4 1.4 3.1"/><path d="M218.0,244.8v49.8" stroke="#00aaa5" stroke-width="1" stroke-dasharray="2.9 2.9 1.5 3.4 1.1 3.5 2.3 1.4"/><path d="M787.6,250.2v38.4" stroke="#0000cd" stroke-width="1" stroke-dasharray="2.0 2.8 1.1 1.3 1.0 2.3 1.1 1.5"/><path d="M363.0,262.2v13.8" stroke="#00aaa5" stroke-width="1" stroke-dasharray="2.2 2.0 1.5 3.7 1.3 1.1 1.8 3.1"/><path d="M1193.0,265.9v9.3" stroke="#0085dd" stroke-width="1" stroke-dasharray="2.4 3.1 1.9 3.3 2.0 1.4 1.3 1.4"/><path d="M1189.3,269.0v5.8" stroke="#009ecf" stroke-width="1" stroke-dasharray="2.7 2.5 1.2 2.1 1.4 1.8 2.0 3.6"/><path d="M394.3,259.2v23.9" stroke="#00aaa5" stroke-width="1" stroke-dasharray="2.8 1.7 2.9 2.0 1.2 3.2 2.7 1.9"/><path d="M996.4,245.3v40.0" stroke="#00aaa5" stroke-width="1" stroke-dasharray="1.1 2.5 2.8 2.3 2.8 2.3 2.0 3.2"/><path d="M1535.9,252.3v27.3" stroke="#00aaa5" stroke-width="1" stroke-dasharray="2.8 2.5 2.3 2.0 1.8 3.9 2.5 2.8"/><path d="M1631.2,264.4v10.1" stroke="#0000cd" stroke-width="1" stroke-dasharray="1.1 1.4 2.2 1.7 3.0 1.7 2.8 2.9"/><path d="M1008.2,262.8v14.0" stroke="#0085dd" stroke-width="1" stroke-dasharray="2.6 1.0 2.5 1.2 1.3 1.8 1.6 1.4"/><path d="M792.1,267.3v6.4" stroke="#0000cd" stroke-width="1" stroke-dasharray="1.6 1.2 2.3 2.6 2.7 1.1 2.3 1.4"/><path d="M1603.2,264.9v13.6" stroke="#0041dd" stroke-width="1" stroke-dasharray="2.8 3.5 1.0 1.1 1.0 2.6 2.9 1.4"/><path d="M667.9,260.6v23.8" stroke="#0000cd" stroke-width="1" stroke-dasharray="1.6 2.1 2.4 2.1 1.6 2.7 1.4 2.0"/><path d="M1610.9,266.0v8.6" stroke="#0085dd" stroke-width="1" stroke-dasharray="2.3 1.9 1.6 2.6 2.0 3.0 2.6 2.3"/><path d="M1170.9,263.2v12.9" stroke="#0041dd" stroke-width="1" stroke-dasharray="2.4 2.9 1.4 3.4 2.7 1.4 1.3 3.6"/><path d="M978.7,267.6v5.0" stroke="#0041dd" stroke-width="1" stroke-dasharray="2.9 1.9 2.0 3.2 1.7 3.8 1.5 2.5"/><path d="M1294.0,264.8v13.8" stroke="#00aaa5" stroke-width="1" stroke-dasharray="2.3 1.8 2.4 2.3 1.5 3.3 1.2 3.8"/><path d="M1124.9,262.7v14.1" stroke="#0000cd" stroke-width="1" stroke-dasharray="1.8 1.8 2.3 2.1 2.3 3.2 2.6 3.9"/><path d="M930.6,266.8v7.6" stroke="#00aaa5" stroke-width="1" stroke-dasharray="2.0 3.3 2.8 3.0 2.2 4.0 1.0 3.2"/><path d="M358.7,266.2v10.3" stroke="#009ecf" stroke-width="1" stroke-dasharray="1.6 3.7 2.3 3.7 2.3 2.8 2.1 3.7"/><path d="M231.5,266.5v9.5" stroke="#0041dd" stroke-width="1" stroke-dasharray="2.9 4.0 2.5 3.8 2.4 1.9 2.1 3.1"/><path d="M310.0,267.4v8.4" stroke="#0000cd" stroke-width="1" stroke-dasharray="1.4 2.4 1.3 2.9 1.8 1.5 2.8 1.1"/><path d="M1486.4,248.5v43.6" stroke="#00aaa5" stroke-width="1" stroke-dasharray="1.2 3.0 2.9 1.5 1.6 2.2 1.4 4.0"/><path d="M678.2,256.4v25.5" stroke="#00aaa5" stroke-width="1" stroke-dasharray="2.2 1.1 2.2 1.1 1.7 4.0 2.7 2.2"/><path d="M488.8,266.6v7.8" stroke="#0085dd" stroke-width="1" stroke-dasharray="1.5 2.0 1.6 3.1 2.2 3.9 1.0 3.3"/><path d="M1342.0,268.8v5.8" stroke="#0085dd" stroke-width="1" stroke-dasharray="2.3 2.1 2.7 1.3 1.8 2.1 2.3 3.3"/><path d="M964.4,263.9v18.8" stroke="#0041dd" stroke-width="1" stroke-dasharray="2.6 1.0 2.0 2.5 1.3 1.7 1.8 3.9"/><path d="M771.9,251.7v28.0" stroke="#0085dd" stroke-width="1" stroke-dasharray="1.7 1.3 2.9 3.4 1.6 2.3 1.8 1.5"/><path d="M1341.7,269.3v3.9" stroke="#0000cd" stroke-width="1" stroke-dasharray="2.1 1.5 2.8 1.8 2.4 3.8 1.1 1.4"/><path d="M659.2,265.1v10.8" stroke="#009ecf" stroke-width="1" stroke-dasharray="1.8 3.8 2.0 2.4 2.0 3.7 2.0 2.2"/><path d="M636.1,262.4v15.9" stroke="#009ecf" stroke-width="1" stroke-dasharray="1.1 2.3 1.2 2.1 2.7 3.9 1.7 2.9"/><path d="M540.1,269.4v4.8" stroke="#00aaa5" stroke-width="1" stroke-dasharray="2.5 2.6 2.7 1.4 1.0 2.4 1.4 3.5"/><path d="M377.6,266.4v8.9" stroke="#0041dd" stroke-width="1" stroke-dasharray="1.2 2.5 1.8 3.8 1.4 3.0 1.3 2.4"/><path d="M725.0,263.6v13.3" stroke="#009ecf" stroke-width="1" stroke-dasharray="2.5 3.6 1.2 3.8 2.9 2.4 1.1 1.8"/><path d="M366.5,265.5v12.5" stroke="#00aaa5" stroke-width="1" stroke-dasharray="1.2 3.8 1.9 1.8 1.0 2.8 2.6 3.6"/><path d="M1095.7,269.2v3.4" stroke="#0041dd" stroke-width="1" stroke-dasharray="1.4 3.5 2.3 3.0 2.0 2.2 2.6 3.2"/><path d="M950.6,267.5v6.7" stroke="#0000cd" stroke-width="1" stroke-dasharray="1.2 2.6 1.8 4.0 1.6 3.6 1.3 2.6"/><path d="M722.4,267.9v5.4" stroke="#0041dd" stroke-width="1" stroke-dasharray="1.1 1.6 2.6 2.9 2.4 2.6 1.5 2.5"/><path d="M281.8,268.8v5.3" stroke="#0085dd" stroke-width="1" stroke-dasharray="1.2 2.0 2.5 2.3 2.4 1.8 2.9 1.2"/><path d="M1094.7,262.0v17.6" stroke="#0041dd" stroke-width="1" stroke-dasharray="1.0 3.9 2.4 3.4 1.0 3.1 2.3 1.6"/><path d="M324.7,249.4v39.5" stroke="#0085dd" stroke-width="1" stroke-dasharray="2.7 1.6 2.5 1.1 1.6 1.0 2.3 1.6"/><path d="M926.1,262.8v17.7" stroke="#0041dd" stroke-width="1" stroke-dasharray="2.8 2.8 2.2 2.5 1.6 3.2 1.4 2.3"/><path d="M1466.8,268.7v6.5" stroke="#0000cd" stroke-width="1" stroke-dasharray="3.0 4.0 1.4 1.2 1.5 1.8 2.6 3.1"/><path d="M535.4,264.3v18.3" stroke="#0000cd" stroke-width="1" stroke-dasharray="1.6 1.3 2.9 3.9 1.4 2.6 2.3 1.8"/><path d="M1217.7,264.4v17.1" stroke="#009ecf" stroke-width="1" stroke-dasharray="2.4 2.4 2.9 1.7 1.6 3.3 1.3 2.6"/><path d="M1331.2,268.7v5.3" stroke="#0085dd" stroke-width="1" stroke-dasharray="1.2 3.4 2.6 3.1 2.6 2.7 2.7 2.8"/><path d="M1455.2,269.1v4.7" stroke="#0085dd" stroke-width="1" stroke-dasharray="1.7 1.1 1.8 2.8 1.5 3.7 1.0 1.9"/><path d="M1367.7,261.1v14.6" stroke="#0041dd" stroke-width="1" stroke-dasharray="1.4 3.2 2.7 1.7 2.7 3.6 1.8 2.2"/><path d="M1465.8,261.0v19.1" stroke="#0085dd" stroke-width="1" stroke-dasharray="2.1 1.8 2.1 2.7 2.0 1.6 1.0 3.5"/><path d="M222.3,267.2v10.5" stroke="#00aaa5" stroke-width="1" stroke-dasharray="2.1 1.6 1.3 2.6 1.8 2.0 1.5 2.3"/><path d="M1272.3,256.5v26.1" stroke="#0041dd" stroke-width="1" stroke-dasharray="2.4 3.3 2.7 1.9 3.0 2.3 1.7 1.6"/><path d="M843.9,267.5v7.0" stroke="#0085dd" stroke-width="1" stroke-dasharray="2.8 2.1 2.3 2.3 2.8 3.9 1.7 1.2"/><path d="M288.1,264.8v11.4" stroke="#0085dd" stroke-width="1" stroke-dasharray="2.3 1.2 1.6 1.7 2.9 2.9 1.4 2.2"/><path d="M393.3,268.6v6.3" stroke="#0041dd" stroke-width="1" stroke-dasharray="1.7 3.5 2.6 3.6 2.3 3.8 2.7 2.2"/><path d="M1248.4,262.7v12.4" stroke="#0041dd" stroke-width="1" stroke-dasharray="1.9 1.8 1.7 3.1 1.1 3.0 1.8 1.1"/><path d="M915.9,266.1v14.5" stroke="#00aaa5" stroke-width="1" stroke-dasharray="1.4 3.8 1.5 2.1 2.4 1.5 1.9 3.0"/><path d="M657.6,265.2v9.2" stroke="#0041dd" stroke-width="1" stroke-dasharray="1.4 3.2 2.0 1.4 1.3 1.6 2.5 1.5"/><path d="M1034.2,269.1v7.7" stroke="#0000cd" stroke-width="1" stroke-dasharray="1.1 2.1 2.8 2.9 1.8 1.2 2.5 2.7"/><path d="M445.6,264.4v10.8" stroke="#00aaa5" stroke-width="1" stroke-dasharray="3.0 1.7 2.3 2.6 1.3 1.4 1.2 3.7"/><path d="M1583.9,268.6v6.4" stroke="#009ecf" stroke-width="1" stroke-dasharray="2.1 2.8 2.3 1.6 1.0 3.1 3.0 3.7"/><path d="M1585.5,265.4v17.3" stroke="#0085dd" stroke-width="1" stroke-dasharray="1.1 2.4 1.4 3.2 1.5 2.7 2.1 2.7"/><path d="M1503.5,266.9v10.0" stroke="#0000cd" stroke-width="1" stroke-dasharray="2.1 3.8 2.3 2.4 1.2 3.1 2.6 2.3"/><path d="M593.2,266.2v8.0" stroke="#0085dd" stroke-width="1" stroke-dasharray="1.2 4.0 1.2 1.5 1.1 4.0 2.2 1.2"/><path d="M233.8,258.3v23.0" stroke="#009ecf" stroke-width="1" stroke-dasharray="2.6 1.7 1.0 1.8 1.3 1.7 1.4 3.0"/><path d="M832.1,264.0v12.0" stroke="#009ecf" stroke-width="1" stroke-dasharray="1.8 1.8 1.4 3.4 2.0 3.7 1.6 1.4"/><path d="M279.2,250.0v41.3" stroke="#00aaa5" stroke-width="1" stroke-dasharray="1.0 3.0 2.5 2.7 2.1 2.6 1.1 2.7"/><path d="M1441.9,267.7v6.1" stroke="#009ecf" stroke-width="1" stroke-dasharray="2.7 3.0 1.9 1.2 1.3 3.1 1.8 2.3"/><path d="M1197.4,258.8v23.6" stroke="#0000cd" stroke-width="1" stroke-dasharray="2.5 2.7 2.9 3.7 1.7 1.8 1.6 1.7"/><path d="M623.5,266.3v9.0" stroke="#009ecf" stroke-width="1" stroke-dasharray="2.7 1.0 1.6 3.9 2.7 4.0 2.9 3.7"/><path d="M1131.4,267.9v9.0" stroke="#00aaa5" stroke-width="1" stroke-dasharray="2.2 1.6 2.7 2.5 2.3 1.0 3.0 1.1"/><path d="M1615.9,247.0v36.1" stroke="#009ecf" stroke-width="1" stroke-dasharray="2.9 3.4 1.0 2.3 1.6 3.3 1.6 2.0"/><path d="M1556.4,256.4v28.4" stroke="#0041dd" stroke-width="1" stroke-dasharray="1.8 1.5 1.6 2.3 2.8 2.8 2.4 3.7"/><path d="M313.7,263.1v14.2" stroke="#0085dd" stroke-width="1" stroke-dasharray="1.5 2.8 2.7 3.2 2.2 3.9 2.1 3.4"/><path d="M1543.6,261.5v17.8" stroke="#00aaa5" stroke-width="1" stroke-dasharray="2.7 2.2 2.2 1.8 2.7 3.5 2.0 2.9"/><path d="M1575.6,262.8v20.3" stroke="#0085dd" stroke-width="1" stroke-dasharray="2.0 1.2 1.4 1.3 1.7 1.2 2.5 1.5"/><path d="M236.4,269.2v4.0" stroke="#00aaa5" stroke-width="1" stroke-dasharray="1.1 2.1 2.7 3.5 1.6 1.0 2.7 3.0"/><path d="M1515.7,264.4v12.5" stroke="#009ecf" stroke-width="1" stroke-dasharray="2.2 1.4 1.5 3.2 2.9 1.5 1.4 1.9"/><path d="M1015.2,265.5v8.2" stroke="#009ecf" stroke-width="1" stroke-dasharray="1.1 2.6 1.7 2.2 2.8 1.1 1.6 2.6"/><path d="M718.8,259.1v23.3" stroke="#00aaa5" stroke-width="1" stroke-dasharray="1.2 2.7 1.1 2.0 2.5 1.8 1.5 1.6"/><path d="M248.3,258.2v37.2" stroke="#0000cd" stroke-width="1" stroke-dasharray="2.5 3.2 2.4 3.4 2.6 1.2 1.5 2.0"/><path d="M899.7,265.5v12.7" stroke="#00aaa5" stroke-width="1" stroke-dasharray="2.8 3.4 1.0 1.9 1.1 2.0 1.6 2.9"/><path d="M1358.6,255.9v29.7" stroke="#0041dd" stroke-width="1" stroke-dasharray="2.5 1.9 1.8 2.1 1.2 1.0 1.3 3.2"/><path d="M356.2,260.3v24.4" stroke="#00aaa5" stroke-width="1" stroke-dasharray="2.5 3.0 1.1 1.8 1.7 2.4 1.6 3.4"/><path d="M1626.2,263.6v26.5" stroke="#0000cd" stroke-width="1" stroke-dasharray="2.6 1.8 1.7 1.6 2.1 1.9 2.8 1.4"/><path d="M1489.1,262.1v17.7" stroke="#009ecf" stroke-width="1" stroke-dasharray="2.4 1.4 2.2 2.1 2.2 2.3 2.0 1.3"/><path d="M344.8,265.0v10.9" stroke="#009ecf" stroke-width="1" stroke-dasharray="1.7 3.6 2.8 2.6 2.0 2.4 2.6 2.0"/><path d="M960.3,263.6v15.4" stroke="#0000cd" stroke-width="1" stroke-dasharray="1.4 2.6 2.9 3.6 2.1 2.6 2.5 2.0"/><path d="M272.9,268.6v7.9" stroke="#00aaa5" stroke-width="1" stroke-dasharray="1.9 1.6 2.0 3.2 1.0 2.3 2.1 2.5"/><path d="M1479.9,257.1v31.4" stroke="#0085dd" stroke-width="1" stroke-dasharray="2.4 3.3 2.1 2.4 2.8 1.7 2.0 3.2"/><path d="M1045.3,253.2v33.2" stroke="#0085dd" stroke-width="1" stroke-dasharray="2.7 2.8 1.7 3.4 2.4 1.9 1.3 2.9"/><path d="M1560.7,264.3v13.7" stroke="#0000cd" stroke-width="1" stroke-dasharray="1.9 3.6 1.8 1.4 2.3 3.7 2.8 3.5"/><path d="M837.9,256.9v29.2" stroke="#0041dd" stroke-width="1" stroke-dasharray="2.4 3.5 2.2 1.2 1.2 1.7 2.2 3.7"/><path d="M1398.0,259.1v21.3" stroke="#0041dd" stroke-width="1" stroke-dasharray="2.0 2.5 2.9 3.7 1.1 3.5 2.2 2.8"/><path d="M1139.8,264.3v13.1" stroke="#0000cd" stroke-width="1" stroke-dasharray="1.4 1.6 2.3 2.1 1.5 2.0 2.7 1.4"/><path d="M1384.7,242.2v38.0" stroke="#0000cd" stroke-width="1" stroke-dasharray="2.7 2.9 2.1 2.8 1.8 1.1 1.4 2.0"/><path d="M939.5,250.4v47.2" stroke="#00aaa5" stroke-width="1" stroke-dasharray="1.3 3.0 1.8 3.4 2.8 3.5 1.5 1.5"/><path d="M1290.3,261.8v18.5" stroke="#009ecf" stroke-width="1" stroke-dasharray="2.7 3.1 2.7 3.4 1.5 2.7 1.1 1.6"/><path d="M1423.8,264.4v11.2" stroke="#0000cd" stroke-width="1" stroke-dasharray="1.5 2.2 1.2 3.2 1.4 1.4 1.9 2.4"/><path d="M1114.5,263.3v14.9" stroke="#00aaa5" stroke-width="1" stroke-dasharray="1.9 2.2 1.9 3.1 3.0 2.4 2.6 1.3"/><path d="M994.9,268.7v4.9" stroke="#009ecf" stroke-width="1" stroke-dasharray="1.8 3.6 2.6 3.3 1.5 3.2 1.3 3.6"/><path d="M1288.9,267.5v7.2" stroke="#009ecf" stroke-width="1" stroke-dasharray="1.8 3.5 1.4 3.3 1.7 2.2 1.1 1.4"/><path d="M1414.8,263.7v11.4" stroke="#009ecf" stroke-width="1" stroke-dasharray="1.4 2.0 1.5 1.3 1.7 3.1 2.0 2.6"/><path d="M1150.0,259.9v17.6" stroke="#0000cd" stroke-width="1" stroke-dasharray="1.2 2.1 1.9 2.4 1.3 3.2 2.9 2.9"/><path d="M1375.6,264.7v11.9" stroke="#00aaa5" stroke-width="1" stroke-dasharray="2.3 2.7 1.5 3.2 2.3 2.4 2.1 1.9"/><path d="M1105.6,264.6v16.7" stroke="#00aaa5" stroke-width="1" stroke-dasharray="2.4 1.7 3.0 3.8 2.8 2.5 1.2 2.7"/><path d="M1017.4,268.2v4.9" stroke="#009ecf" stroke-width="1" stroke-dasharray="1.5 1.5 1.9 1.4 1.1 4.0 2.8 1.2"/><path d="M1079.4,267.3v10.5" stroke="#00aaa5" stroke-width="1" stroke-dasharray="1.9 1.9 2.0 2.4 1.1 1.2 1.8 3.1"/><path d="M1349.7,254.6v37.9" stroke="#00aaa5" stroke-width="1" stroke-dasharray="1.1 1.8 2.2 2.5 1.5 2.8 1.3 3.3"/><path d="M899.7,267.6v7.2" stroke="#00aaa5" stroke-width="1" stroke-dasharray="1.8 3.7 1.8 2.5 1.4 2.9 1.5 3.6"/><path d="M1066.6,266.5v10.6" stroke="#0041dd" stroke-width="1" stroke-dasharray="2.3 3.0 1.6 2.8 1.3 1.9 1.8 2.0"/><path d="M1122.9,268.8v6.1" stroke="#009ecf" stroke-width="1" stroke-dasharray="1.2 3.4 1.3 3.0 2.3 2.9 1.7 3.3"/><path d="M988.6,267.7v4.7" stroke="#0041dd" stroke-width="1" stroke-dasharray="2.9 2.8 2.6 2.1 2.8 1.9 2.6 2.1"/><path d="M1437.9,260.1v24.2" stroke="#0041dd" stroke-width="1" stroke-dasharray="2.8 3.3 2.8 2.9 1.0 3.1 2.6 3.3"/><path d="M911.6,263.0v19.2" stroke="#0041dd" stroke-width="1" stroke-dasharray="2.3 1.6 1.1 3.4 1.5 2.4 2.4 3.1"/><path d="M991.2,267.8v7.5" stroke="#009ecf" stroke-width="1" stroke-dasharray="1.7 2.6 2.2 2.4 1.9 3.3 2.4 2.6"/><path d="M995.0,260.4v29.8" stroke="#0000cd" stroke-width="1" stroke-dasharray="1.7 2.0 2.3 2.5 2.9 2.2 2.6 1.8"/><path d="M1048.0,265.5v9.3" stroke="#0000cd" stroke-width="1" stroke-dasharray="1.9 2.8 2.7 1.9 1.7 3.0 2.2 2.2"/><path d="M884.3,266.2v16.0" stroke="#009ecf" stroke-width="1" stroke-dasharray="2.7 3.2 2.9 1.4 1.0 2.2 1.2 2.4"/><path d="M1225.3,249.8v41.3" stroke="#0085dd" stroke-width="1" stroke-dasharray="2.4 2.6 2.3 3.5 1.4 1.1 2.4 1.5"/><path d="M1316.8,255.7v31.2" stroke="#0000cd" stroke-width="1" stroke-dasharray="1.6 1.4 1.1 1.2 1.9 3.2 3.0 3.2"/><path d="M1186.5,268.3v5.6" stroke="#00aaa5" stroke-width="1" stroke-dasharray="1.3 3.7 1.6 3.0 1.6 1.6 1.9 2.7"/><path d="M1414.8,267.6v11.1" stroke="#009ecf" stroke-width="1" stroke-dasharray="1.2 2.0 1.2 1.2 2.6 2.6 1.8 2.9"/><path d="M1372.5,268.3v4.1" stroke="#00aaa5" stroke-width="1" stroke-dasharray="2.6 2.3 1.1 3.6 2.5 2.0 1.2 2.4"/><path d="M1276.6,263.8v16.0" stroke="#00aaa5" stroke-width="1" stroke-dasharray="1.0 2.5 2.3 3.4 1.3 1.0 1.1 3.2"/><path d="M1030.1,269.0v4.3" stroke="#00aaa5" stroke-width="1" stroke-dasharray="2.1 1.4 2.1 2.9 1.2 3.3 1.4 1.3"/><path d="M1355.9,251.4v47.9" stroke="#0041dd" stroke-width="1" stroke-dasharray="2.6 1.4 1.2 1.1 2.2 2.9 1.5 4.0"/><path d="M1293.6,269.1v4.1" stroke="#0085dd" stroke-width="1" stroke-dasharray="1.0 1.0 2.9 1.9 2.5 2.9 2.4 2.0"/><path d="M1066.4,262.0v15.1" stroke="#0041dd" stroke-width="1" stroke-dasharray="2.9 3.5 1.2 2.7 1.8 1.2 2.2 1.2"/><path d="M1134.1,269.7v3.2" stroke="#0085dd" stroke-width="1" stroke-dasharray="3.0 3.9 1.9 3.1 2.1 1.3 2.7 3.4"/><path d="M1166.6,260.2v22.0" stroke="#0085dd" stroke-width="1" stroke-dasharray="2.2 2.3 2.8 2.8 2.2 1.2 2.6 3.8"/><path d="M1275.5,242.8v50.0" stroke="#0085dd" stroke-width="1" stroke-dasharray="2.8 2.8 2.4 2.0 1.9 3.0 2.0 1.8"/><path d="M968.2,260.0v17.9" stroke="#009ecf" stroke-width="1" stroke-dasharray="1.3 3.5 1.4 2.8 2.3 3.2 2.6 3.1"/><path d="M958.0,260.1v24.7" stroke="#0085dd" stroke-width="1" stroke-dasharray="1.6 1.6 2.2 1.1 1.8 3.7 2.7 3.5"/><path d="M1096.5,266.3v7.0" stroke="#00aaa5" stroke-width="1" stroke-dasharray="2.7 1.5 2.0 1.2 2.9 2.8 1.1 3.7"/><path d="M1367.3,263.9v21.1" stroke="#00aaa5" stroke-width="1" stroke-dasharray="1.4 3.0 2.0 1.5 1.3 1.5 1.1 4.0"/><path d="M1019.7,256.5v34.3" stroke="#0041dd" stroke-width="1" stroke-dasharray="2.3 1.8 1.9 2.5 2.7 1.2 1.2 3.0"/><path d="M1032.3,261.2v19.6" stroke="#00aaa5" stroke-width="1" stroke-dasharray="2.5 4.0 2.9 2.0 2.1 3.8 2.6 3.3"/><path d="M1385.2,250.3v40.2" stroke="#00aaa5" stroke-width="1" stroke-dasharray="2.5 2.3 1.2 3.6 1.3 3.8 2.6 2.4"/><path d="M1449.6,268.4v9.0" stroke="#0041dd" stroke-width="1" stroke-dasharray="2.5 1.4 2.5 2.9 1.3 3.8 2.2 3.3"/><path d="M1193.1,258.2v19.0" stroke="#0085dd" stroke-width="1" stroke-dasharray="3.0 3.7 2.2 3.1 2.3 2.9 2.8 2.1"/><path d="M995.8,263.9v10.8" stroke="#00aaa5" stroke-width="1" stroke-dasharray="1.8 2.0 1.7 3.1 2.7 2.6 2.2 2.0"/><path d="M1384.6,263.1v13.5" stroke="#00aaa5" stroke-width="1" stroke-dasharray="2.7 3.2 2.6 1.1 2.0 3.7 2.2 3.2"/><path d="M949.0,268.7v7.7" stroke="#0085dd" stroke-width="1" stroke-dasharray="2.3 3.1 1.3 3.8 2.5 3.7 2.1 2.7"/><path d="M973.8,259.0v20.8" stroke="#0000cd" stroke-width="1" stroke-dasharray="1.4 3.4 2.8 1.5 2.9 3.7 2.6 1.1"/><path d="M1384.9,266.5v15.7" stroke="#0041dd" stroke-width="1" stroke-dasharray="2.8 2.5 2.0 2.0 1.6 2.1 2.4 3.2"/><path d="M1379.7,267.7v6.4" stroke="#0085dd" stroke-width="1" stroke-dasharray="2.6 3.8 2.2 3.4 2.5 1.5 2.6 2.4"/><path d="M948.8,258.2v21.5" stroke="#00aaa5" stroke-width="1" stroke-dasharray="2.8 1.2 2.5 2.7 2.7 1.8 2.5 3.7"/><path d="M1005.6,262.8v29.7" stroke="#00aaa5" stroke-width="1" stroke-dasharray="2.6 1.6 2.3 2.7 1.4 1.0 1.9 3.8"/><path d="M1260.3,265.4v14.9" stroke="#00aaa5" stroke-width="1" stroke-dasharray="2.5 1.6 2.7 1.8 2.6 3.3 2.6 1.4"/><path d="M924.3,254.7v29.3" stroke="#009ecf" stroke-width="1" stroke-dasharray="2.7 3.0 3.0 2.0 1.7 2.7 1.6 2.9"/><path d="M1347.3,267.7v9.7" stroke="#0000cd" stroke-width="1" stroke-dasharray="2.7 3.0 1.9 1.2 2.3 2.0 1.1 1.2"/><path d="M1149.0,268.2v8.2" stroke="#0000cd" stroke-width="1" stroke-dasharray="1.4 3.2 1.9 1.2 1.1 1.8 1.3 3.0"/><path d="M1101.9,267.9v6.8" stroke="#0000cd" stroke-width="1" stroke-dasharray="1.6 2.6 1.8 3.3 1.9 3.8 2.9 3.0"/><path d="M962.1,259.2v24.3" stroke="#009ecf" stroke-width="1" stroke-dasharray="2.9 1.2 2.4 3.4 1.2 3.5 2.3 2.8"/><path d="M922.2,269.6v3.3" stroke="#00aaa5" stroke-width="1" stroke-dasharray="1.3 3.4 2.7 3.1 2.0 2.6 1.9 1.3"/><path d="M1131.1,262.7v12.3" stroke="#0041dd" stroke-width="1" stroke-dasharray="1.4 1.1 2.1 1.7 1.0 2.7 2.9 3.0"/><path d="M906.7,263.2v20.3" stroke="#0085dd" stroke-width="1" stroke-dasharray="1.5 2.4 2.1 3.0 1.9 3.6 1.0 2.9"/><path d="M1120.2,267.7v9.7" stroke="#0000cd" stroke-width="1" stroke-dasharray="1.2 3.3 2.6 3.2 1.1 1.7 1.6 3.4"/><path d="M1372.0,269.2v4.5" stroke="#0085dd" stroke-width="1" stroke-dasharray="1.8 3.3 2.8 3.2 2.5 1.0 1.8 1.6"/><path d="M880.6,268.2v6.3" stroke="#0041dd" stroke-width="1" stroke-dasharray="2.4 3.6 1.2 1.2 2.0 1.3 2.6 1.5"/><path d="M1105.8,267.0v11.1" stroke="#009ecf" stroke-width="1" stroke-dasharray="2.8 1.7 2.7 3.2 1.2 1.3 1.2 3.0"/><path d="M952.3,256.4v20.6" stroke="#0041dd" stroke-width="1" stroke-dasharray="1.5 1.5 2.8 3.8 1.3 1.6 2.9 2.0"/><path d="M1037.1,256.1v21.6" stroke="#009ecf" stroke-width="1" stroke-dasharray="1.1 2.7 1.7 3.1 2.0 2.3 2.7 3.6"/><path d="M1359.7,267.5v9.1" stroke="#00aaa5" stroke-width="1" stroke-dasharray="2.1 1.2 2.9 2.2 1.9 3.1 3.0 2.7"/><path d="M1160.0,264.9v12.3" stroke="#0000cd" stroke-width="1" stroke-dasharray="1.5 3.9 1.8 2.2 2.1 1.7 2.5 2.4"/><path d="M1361.5,259.4v21.1" stroke="#00aaa5" stroke-width="1" stroke-dasharray="2.7 1.2 1.1 1.3 1.2 3.1 1.0 3.4"/><path d="M1233.3,255.4v37.1" stroke="#0041dd" stroke-width="1" stroke-dasharray="2.6 1.0 2.0 1.3 1.3 3.5 1.9 2.0"/><path d="M1313.8,268.1v6.0" stroke="#00aaa5" stroke-width="1" stroke-dasharray="1.7 2.4 2.2 1.5 2.4 1.8 1.9 3.4"/><path d="M1055.3,266.2v10.8" stroke="#009ecf" stroke-width="1" stroke-dasharray="2.8 1.1 1.4 3.9 1.6 2.2 2.4 2.9"/><path d="M1291.0,265.3v11.3" stroke="#0085dd" stroke-width="1" stroke-dasharray="1.6 2.2 2.0 3.3 1.8 3.4 1.9 3.1"/><path d="M1117.5,264.5v13.0" stroke="#009ecf" stroke-width="1" stroke-dasharray="1.4 1.7 1.1 1.8 1.6 2.4 2.0 1.3"/><path d="M1107.5,260.0v18.4" stroke="#00aaa5" stroke-width="1" stroke-dasharray="2.6 1.1 1.3 2.5 1.2 3.8 2.9 3.7"/><path d="M1027.1,255.9v25.9" stroke="#009ecf" stroke-width="1" stroke-dasharray="2.4 3.8 1.9 3.8 1.4 1.5 2.1 1.1"/><path d="M1168.1,268.5v5.2" stroke="#0085dd" stroke-width="1" stroke-dasharray="1.2 2.4 2.3 1.9 2.4 2.0 1.4 3.2"/><path d="M951.8,255.4v33.5" stroke="#0000cd" stroke-width="1" stroke-dasharray="2.7 2.1 2.2 2.1 1.8 3.9 2.1 1.9"/><path d="M1030.3,267.1v9.8" stroke="#0041dd" stroke-width="1" stroke-dasharray="2.7 1.2 2.0 2.9 2.3 3.1 1.3 3.1"/><path d="M1389.7,268.0v9.7" stroke="#0041dd" stroke-width="1" stroke-dasharray="2.9 1.4 2.1 2.0 2.4 3.3 2.2 3.6"/><path d="M1397.2,267.5v9.6" stroke="#0041dd" stroke-width="1" stroke-dasharray="1.8 1.8 1.2 2.9 2.3 1.8 1.3 1.2"/><path d="M986.3,243.8v49.5" stroke="#009ecf" stroke-width="1" stroke-dasharray="2.5 2.3 2.9 1.8 2.3 1.5 2.2 1.7"/><path d="M1034.2,267.9v11.1" stroke="#0085dd" stroke-width="1" stroke-dasharray="2.5 3.6 1.0 1.6 3.0 2.2 2.3 3.7"/><path d="M1294.6,265.4v11.9" stroke="#0000cd" stroke-width="1" stroke-dasharray="2.7 3.4 1.2 3.5 2.5 1.6 2.1 1.5"/><path d="M1219.5,258.0v21.2" stroke="#0000cd" stroke-width="1" stroke-dasharray="1.2 2.1 2.4 2.9 2.6 3.5 2.3 1.0"/><path d="M1182.5,262.3v23.8" stroke="#0000cd" stroke-width="1" stroke-dasharray="1.8 3.6 1.3 1.6 2.3 3.9 1.3 3.0"/><path d="M1323.5,255.8v30.9" stroke="#0000cd" stroke-width="1" stroke-dasharray="2.1 1.4 2.0 2.4 2.9 2.7 2.4 3.4"/><path d="M1402.3,266.0v11.4" stroke="#0000cd" stroke-width="1" stroke-dasharray="1.5 1.6 1.1 2.5 2.0 1.6 2.9 1.4"/><path d="M1055.1,266.7v10.0" stroke="#00aaa5" stroke-width="1" stroke-dasharray="2.8 1.4 1.6 1.1 2.3 2.8 2.5 2.4"/><path d="M970.8,259.0v21.9" stroke="#0085dd" stroke-width="1" stroke-dasharray="2.5 3.1 2.6 2.6 1.7 3.5 1.6 3.7"/><path d="M1233.0,262.7v14.9" stroke="#0085dd" stroke-width="1" stroke-dasharray="2.6 3.1 2.7 3.1 2.2 1.1 2.3 3.8"/><path d="M1086.6,255.4v31.7" stroke="#00aaa5" stroke-width="1" stroke-dasharray="1.9 3.2 2.9 2.9 2.2 1.0 1.7 3.2"/><path d="M1032.1,264.5v10.0" stroke="#009ecf" stroke-width="1" stroke-dasharray="2.0 3.0 1.3 2.2 1.6 1.5 1.1 2.0"/><path d="M1305.5,267.0v6.0" stroke="#0000cd" stroke-width="1" stroke-dasharray="1.2 3.5 2.4 3.0 2.8 2.8 1.3 2.7"/><path d="M1113.8,258.9v21.0" stroke="#0000cd" stroke-width="1" stroke-dasharray="2.5 1.0 1.7 1.2 1.8 1.7 2.3 2.3"/><path d="M1295.5,268.1v10.6" stroke="#0085dd" stroke-width="1" stroke-dasharray="2.2 2.6 2.9 1.4 2.8 3.5 2.7 1.1"/><path d="M1262.7,267.8v5.2" stroke="#0041dd" stroke-width="1" stroke-dasharray="1.8 2.0 1.2 2.4 2.2 1.4 1.2 1.1"/><path d="M1070.3,269.3v4.2" stroke="#00aaa5" stroke-width="1" stroke-dasharray="2.5 3.9 2.8 2.5 2.6 1.3 1.6 1.3"/><path d="M924.1,253.3v31.8" stroke="#00aaa5" stroke-width="1" stroke-dasharray="2.2 3.1 1.6 2.1 1.6 2.3 2.4 1.9"/><path d="M954.8,263.5v19.8" stroke="#00aaa5" stroke-width="1" stroke-dasharray="2.4 3.0 1.1 3.6 2.5 1.6 2.8 3.5"/><path d="M983.0,268.4v8.2" stroke="#009ecf" stroke-width="1" stroke-dasharray="1.1 3.4 1.9 2.4 1.6 3.0 3.0 2.8"/><path d="M1134.8,244.4v54.5" stroke="#009ecf" stroke-width="1" stroke-dasharray="1.6 3.2 2.0 2.0 2.0 3.2 2.4 2.4"/><path d="M1459.5,266.6v10.3" stroke="#0000cd" stroke-width="1" stroke-dasharray="2.8 2.4 3.0 3.5 1.9 2.9 2.6 1.7"/><path d="M1247.0,264.2v14.7" stroke="#0000cd" stroke-width="1" stroke-dasharray="1.7 2.8 2.3 2.6 2.0 1.6 2.9 3.5"/><path d="M1199.4,263.6v17.3" stroke="#0000cd" stroke-width="1" stroke-dasharray="2.5 2.7 2.7 3.3 1.0 2.5 1.8 2.6"/><path d="M1292.2,265.8v10.5" stroke="#0041dd" stroke-width="1" stroke-dasharray="1.6 1.3 1.8 2.2 2.8 1.6 1.7 1.6"/><path d="M1262.6,267.5v8.7" stroke="#00aaa5" stroke-width="1" stroke-dasharray="2.8 3.4 1.9 1.1 2.3 1.8 2.7 2.0"/><path d="M976.1,260.2v22.0" stroke="#00aaa5" stroke-width="1" stroke-dasharray="1.2 2.1 2.7 1.5 2.4 3.8 2.0 2.3"/><path d="M935.7,268.0v5.3" stroke="#0085dd" stroke-width="1" stroke-dasharray="2.1 3.3 2.6 2.9 1.8 1.3 2.1 3.9"/><path d="M1110.3,256.4v19.6" stroke="#0041dd" stroke-width="1" stroke-dasharray="2.0 1.1 1.6 3.8 1.4 2.3 1.4 3.8"/><path d="M1036.8,263.5v14.2" stroke="#0085dd" stroke-width="1" stroke-dasharray="1.6 3.6 1.1 1.9 2.5 1.4 1.5 3.3"/><path d="M1184.6,244.0v46.5" stroke="#0041dd" stroke-width="1" stroke-dasharray="1.7 3.5 2.6 2.7 2.2 1.5 3.0 1.5"/><path d="M891.9,269.7v2.6" stroke="#0041dd" stroke-width="1" stroke-dasharray="2.0 1.5 2.2 2.9 2.7 1.7 2.1 3.7"/><path d="M1106.3,244.5v48.4" stroke="#00aaa5" stroke-width="1" stroke-dasharray="2.3 1.9 1.2 1.5 1.9 2.6 1.5 3.0"/><path d="M890.1,262.8v13.8" stroke="#009ecf" stroke-width="1" stroke-dasharray="2.2 2.6 2.0 1.3 2.9 1.3 1.7 2.0"/><path d="M1214.5,259.9v20.1" stroke="#0000cd" stroke-width="1" stroke-dasharray="2.6 2.6 2.9 2.5 1.9 2.5 1.4 1.2"/><path d="M1218.7,263.1v14.7" stroke="#009ecf" stroke-width="1" stroke-dasharray="2.6 3.5 2.6 2.6 2.6 2.9 1.1 1.1"/><path d="M1080.8,247.4v50.0" stroke="#00aaa5" stroke-width="1" stroke-dasharray="1.9 1.8 1.9 3.9 2.1 1.6 1.5 1.2"/><path d="M1147.6,255.2v25.9" stroke="#009ecf" stroke-width="1" stroke-dasharray="2.6 2.0 1.1 3.2 2.2 3.3 1.1 3.5"/><path d="M890.4,257.7v27.2" stroke="#00aaa5" stroke-width="1" stroke-dasharray="2.1 3.2 2.6 4.0 1.6 2.2 1.9 2.9"/><path d="M1403.4,261.7v17.6" stroke="#00aaa5" stroke-width="1" stroke-dasharray="1.8 2.9 1.6 3.3 1.9 3.7 2.9 3.1"/><path d="M1153.0,267.1v6.1" stroke="#009ecf" stroke-width="1" stroke-dasharray="2.6 2.4 1.7 3.0 2.2 2.2 1.1 2.6"/><path d="M1077.3,249.3v42.5" stroke="#0000cd" stroke-width="1" stroke-dasharray="2.4 1.7 1.8 1.5 1.4 4.0 2.8 3.3"/><path d="M969.2,267.4v6.9" stroke="#0085dd" stroke-width="1" stroke-dasharray="1.3 3.1 1.6 1.0 1.4 2.6 2.8 2.7"/><path d="M1132.5,264.0v11.3" stroke="#0000cd" stroke-width="1" stroke-dasharray="2.8 2.9 2.9 2.6 2.4 2.5 2.4 1.5"/><path d="M996.3,266.0v12.2" stroke="#00aaa5" stroke-width="1" stroke-dasharray="2.6 1.3 2.5 2.5 2.6 1.8 1.2 3.7"/><path d="M1139.1,265.3v10.3" stroke="#00aaa5" stroke-width="1" stroke-dasharray="1.1 3.7 2.2 2.3 2.2 1.1 1.8 2.5"/><path d="M1234.0,261.5v18.8" stroke="#0085dd" stroke-width="1" stroke-dasharray="2.1 2.6 2.4 2.8 2.7 1.8 2.3 3.9"/><path d="M1015.3,250.6v31.3" stroke="#0085dd" stroke-width="1" stroke-dasharray="2.4 3.9 1.5 1.4 2.0 2.4 2.3 1.8"/><path d="M1256.2,267.4v8.2" stroke="#0085dd" stroke-width="1" stroke-dasharray="1.7 2.6 2.4 1.7 1.9 3.8 2.9 2.8"/><path d="M1032.6,260.5v21.3" stroke="#009ecf" stroke-width="1" stroke-dasharray="1.4 4.0 2.7 3.7 2.4 2.1 1.1 2.1"/><path d="M1226.3,264.1v11.1" stroke="#0085dd" stroke-width="1" stroke-dasharray="1.1 3.6 2.4 3.0 1.5 2.4 1.8 1.2"/><path d="M1390.2,264.6v12.5" stroke="#00aaa5" stroke-width="1" stroke-dasharray="2.3 1.5 2.5 2.7 1.3 1.4 2.7 2.1"/><path d="M1209.8,252.8v33.2" stroke="#0041dd" stroke-width="1" stroke-dasharray="1.1 2.2 1.2 1.5 2.2 1.2 2.2 1.2"/><path d="M909.2,261.1v15.3" stroke="#00aaa5" stroke-width="1" stroke-dasharray="2.9 4.0 2.2 1.6 2.2 2.2 2.6 3.0"/><path d="M472.7,264.5v14.0" stroke="#009ecf" stroke-width="1" stroke-dasharray="1.1 3.6 2.5 3.5 1.8 2.9 2.1 3.9"/><path d="M659.0,261.5v27.2" stroke="#0085dd" stroke-width="1" stroke-dasharray="1.5 2.4 2.8 3.1 1.2 4.0 1.5 1.6"/><path d="M489.9,263.7v15.7" stroke="#0000cd" stroke-width="1" stroke-dasharray="1.7 1.5 1.9 1.7 1.1 3.6 1.8 3.7"/><path d="M708.0,263.8v20.8" stroke="#0041dd" stroke-width="1" stroke-dasharray="2.6 3.4 1.9 2.9 2.6 2.9 2.2 1.4"/><path d="M737.5,261.5v16.8" stroke="#00aaa5" stroke-width="1" stroke-dasharray="2.7 3.3 1.9 3.5 1.7 1.4 2.0 2.1"/><path d="M295.4,267.5v9.1" stroke="#00aaa5" stroke-width="1" stroke-dasharray="1.2 2.2 2.1 1.2 1.9 3.5 2.7 1.8"/><path d="M797.7,267.9v4.5" stroke="#0000cd" stroke-width="1" stroke-dasharray="1.1 1.5 2.0 1.2 2.5 2.8 2.9 3.5"/><path d="M685.5,255.6v22.7" stroke="#00aaa5" stroke-width="1" stroke-dasharray="2.1 4.0 1.4 3.3 2.8 1.2 2.2 2.7"/><path d="M625.2,267.1v12.3" stroke="#0041dd" stroke-width="1" stroke-dasharray="1.2 2.7 2.7 3.7 1.5 1.5 2.4 3.0"/><path d="M526.2,268.6v6.1" stroke="#00aaa5" stroke-width="1" stroke-dasharray="1.1 3.9 2.9 3.3 2.5 3.7 2.6 1.1"/><path d="M755.1,258.8v23.6" stroke="#0000cd" stroke-width="1" stroke-dasharray="2.4 3.2 2.9 3.6 1.1 1.2 2.7 2.2"/><path d="M367.4,267.6v9.0" stroke="#0085dd" stroke-width="1" stroke-dasharray="1.8 2.0 2.6 3.9 2.7 2.0 1.9 3.7"/><path d="M616.3,267.8v4.4" stroke="#0000cd" stroke-width="1" stroke-dasharray="1.9 3.4 2.4 3.2 2.1 3.0 1.1 2.0"/><path d="M267.6,268.9v6.5" stroke="#0000cd" stroke-width="1" stroke-dasharray="1.6 3.8 2.4 3.0 2.6 1.4 1.4 3.3"/><path d="M733.5,254.4v28.4" stroke="#00aaa5" stroke-width="1" stroke-dasharray="1.7 2.7 2.8 3.9 1.5 3.9 1.7 1.6"/><path d="M468.4,263.6v15.2" stroke="#0085dd" stroke-width="1" stroke-dasharray="2.4 2.3 1.6 1.6 1.7 2.2 1.6 1.7"/><path d="M562.2,261.7v16.6" stroke="#009ecf" stroke-width="1" stroke-dasharray="2.1 3.8 1.7 2.4 2.8 1.1 2.2 3.1"/><path d="M412.8,269.2v3.5" stroke="#0041dd" stroke-width="1" stroke-dasharray="2.1 1.1 2.0 2.7 1.4 2.3 2.5 4.0"/><path d="M340.7,250.5v32.2" stroke="#00aaa5" stroke-width="1" stroke-dasharray="2.3 3.0 2.5 2.7 2.5 1.4 1.3 1.1"/><path d="M790.8,262.1v21.3" stroke="#0000cd" stroke-width="1" stroke-dasharray="2.2 2.5 2.2 1.1 2.3 1.1 2.9 3.4"/><path d="M428.7,265.0v9.7" stroke="#0041dd" stroke-width="1" stroke-dasharray="1.7 1.6 2.8 3.8 2.3 3.0 1.9 2.6"/><path d="M377.6,265.5v9.3" stroke="#00aaa5" stroke-width="1" stroke-dasharray="2.8 2.1 2.8 1.3 2.3 2.4 2.8 3.8"/><path d="M819.4,267.9v7.8" stroke="#0085dd" stroke-width="1" stroke-dasharray="2.4 3.6 2.2 2.7 2.2 3.7 1.9 2.0"/><path d="M504.4,260.2v21.1" stroke="#0085dd" stroke-width="1" stroke-dasharray="1.6 2.1 2.7 2.0 2.0 2.0 1.1 1.6"/><path d="M822.0,267.8v5.3" stroke="#0041dd" stroke-width="1" stroke-dasharray="1.8 1.7 1.8 1.9 3.0 1.3 1.8 3.1"/><path d="M656.0,255.3v40.6" stroke="#0000cd" stroke-width="1" stroke-dasharray="1.9 3.9 2.5 1.9 1.7 1.6 2.3 1.6"/><path d="M547.5,253.9v33.9" stroke="#00aaa5" stroke-width="1" stroke-dasharray="2.9 3.4 1.9 1.0 1.1 2.6 2.6 2.0"/><path d="M784.4,267.9v8.5" stroke="#0000cd" stroke-width="1" stroke-dasharray="1.4 3.1 2.8 2.1 2.1 2.5 2.0 3.3"/><path d="M492.5,262.8v23.3" stroke="#00aaa5" stroke-width="1" stroke-dasharray="1.5 1.3 2.8 2.2 2.0 2.6 2.7 1.7"/><path d="M604.7,257.0v21.3" stroke="#00aaa5" stroke-width="1" stroke-dasharray="2.3 1.6 2.2 1.3 2.5 1.1 2.2 1.6"/><path d="M319.6,266.1v10.2" stroke="#0041dd" stroke-width="1" stroke-dasharray="1.2 2.8 2.9 3.6 1.1 2.5 2.0 1.3"/><path d="M762.3,249.0v49.5" stroke="#00aaa5" stroke-width="1" stroke-dasharray="1.6 1.1 2.0 1.5 1.9 3.2 2.7 2.0"/><path d="M439.6,261.1v19.4" stroke="#009ecf" stroke-width="1" stroke-dasharray="2.5 1.3 1.5 3.2 1.2 2.1 1.8 3.0"/><path d="M331.8,256.0v21.1" stroke="#0000cd" stroke-width="1" stroke-dasharray="2.3 2.8 1.6 1.4 2.9 4.0 1.7 2.9"/><path d="M651.7,259.6v16.6" stroke="#00aaa5" stroke-width="1" stroke-dasharray="2.1 1.4 2.1 2.3 1.4 3.0 2.8 2.8"/><path d="M682.2,260.9v17.6" stroke="#00aaa5" stroke-width="1" stroke-dasharray="2.0 3.0 2.4 3.7 1.3 2.6 2.3 2.1"/><path d="M652.3,259.7v18.0" stroke="#0000cd" stroke-width="1" stroke-dasharray="2.4 2.0 1.2 2.7 1.6 3.8 3.0 2.3"/><path d="M624.4,255.7v29.2" stroke="#00aaa5" stroke-width="1" stroke-dasharray="2.9 3.6 2.4 3.0 1.5 1.6 2.6 2.6"/><path d="M649.3,263.4v15.7" stroke="#00aaa5" stroke-width="1" stroke-dasharray="1.9 1.9 2.3 3.1 2.1 2.3 2.6 3.0"/><path d="M323.1,253.4v36.3" stroke="#0041dd" stroke-width="1" stroke-dasharray="2.5 3.3 2.0 1.6 2.1 2.2 1.3 4.0"/><path d="M790.4,262.6v13.4" stroke="#0000cd" stroke-width="1" stroke-dasharray="1.3 3.2 2.9 3.4 2.3 1.0 1.9 2.3"/><path d="M806.1,259.0v28.2" stroke="#0085dd" stroke-width="1" stroke-dasharray="1.4 1.4 1.5 1.3 1.8 3.0 1.6 2.9"/><path d="M586.8,260.8v19.3" stroke="#00aaa5" stroke-width="1" stroke-dasharray="2.0 1.9 1.9 3.5 2.3 2.4 1.2 3.4"/><path d="M605.8,261.2v18.2" stroke="#0041dd" stroke-width="1" stroke-dasharray="1.5 1.6 2.0 1.6 1.2 1.9 1.9 1.2"/><path d="M255.7,266.2v7.8" stroke="#00aaa5" stroke-width="1" stroke-dasharray="2.7 3.2 2.7 1.6 2.0 1.3 1.7 1.4"/><path d="M414.0,250.4v35.5" stroke="#00aaa5" stroke-width="1" stroke-dasharray="2.1 1.1 1.5 2.3 2.4 1.3 2.5 3.0"/><path d="M858.5,255.3v33.8" stroke="#0041dd" stroke-width="1" stroke-dasharray="1.5 1.8 1.6 3.2 1.0 1.9 2.4 3.5"/><path d="M433.8,260.8v25.1" stroke="#00aaa5" stroke-width="1" stroke-dasharray="1.5 2.8 2.5 3.7 2.0 1.9 2.5 1.0"/><path d="M280.6,267.8v8.5" stroke="#009ecf" stroke-width="1" stroke-dasharray="1.5 3.8 2.4 3.1 3.0 2.5 2.9 1.3"/><path d="M419.6,268.0v6.4" stroke="#0000cd" stroke-width="1" stroke-dasharray="1.1 3.3 1.6 1.3 2.1 2.4 1.3 3.0"/><path d="M737.8,266.6v8.9" stroke="#00aaa5" stroke-width="1" stroke-dasharray="2.0 3.9 2.0 3.9 2.5 1.6 2.8 2.5"/><path d="M637.6,265.5v10.1" stroke="#0000cd" stroke-width="1" stroke-dasharray="2.3 1.5 2.1 1.9 2.3 1.0 2.6 3.1"/><path d="M759.7,259.8v26.4" stroke="#0041dd" stroke-width="1" stroke-dasharray="1.3 3.1 1.2 3.3 2.2 2.0 2.7 3.3"/><path d="M525.0,261.3v12.8" stroke="#00aaa5" stroke-width="1" stroke-dasharray="3.0 1.1 2.3 1.1 2.8 1.2 2.8 1.8"/><path d="M368.4,260.2v29.5" stroke="#00aaa5" stroke-width="1" stroke-dasharray="3.0 2.9 1.8 1.2 1.7 1.3 2.7 3.6"/><path d="M857.0,267.5v9.5" stroke="#0041dd" stroke-width="1" stroke-dasharray="2.4 1.0 1.3 2.4 1.2 1.1 2.6 3.3"/><path d="M265.8,260.9v33.3" stroke="#0085dd" stroke-width="1" stroke-dasharray="2.0 1.7 1.1 1.7 1.7 1.1 2.9 2.3"/><path d="M341.6,266.0v7.4" stroke="#0000cd" stroke-width="1" stroke-dasharray="2.5 2.0 1.6 2.8 2.2 1.1 1.2 2.0"/><path d="M817.1,263.0v14.0" stroke="#00aaa5" stroke-width="1" stroke-dasharray="1.7 2.3 1.3 2.6 1.5 2.1 1.2 1.5"/><path d="M364.2,268.7v3.6" stroke="#0000cd" stroke-width="1" stroke-dasharray="2.5 2.4 1.2 1.5 1.8 1.9 1.8 2.5"/><path d="M600.0,351.5H905.0" stroke="#0000bd" stroke-width="1.0" stroke-dasharray="2.4 3.0 1.5 2.6 2.8 2.9 1.0 3.8 1.6 4.0 2.7 3.6 2.9 3.3 2.7 2.8 2.9 2.0 2.2 3.3 1.6 2.2 1.3 1.6 1.3 3.7 1.9 3.9" stroke-dashoffset="7.8" opacity="1.0"/><path d="M600.0,351.5H905.0" stroke="#0041dd" stroke-width="1.0" stroke-dasharray="1.8 6.0 1.1 4.8 1.1 8.3 1.0 6.9 1.5 8.7 1.5 7.7 1.4 8.4 1.3 8.8 1.6 3.6 1.6 6.4 1.1 7.6 1.2 7.0 1.5 3.9 1.4 8.1" stroke-dashoffset="2.0" opacity="1.0"/><path d="M905.0,351.5H990.0" stroke="#870098" stroke-width="1.0" stroke-dasharray="2.2 2.1 1.6 3.6 2.3 2.5 1.1 1.5 2.9 1.7 2.9 3.7 1.6 3.7 2.2 1.2 1.8 3.1 1.9 1.8 1.7 2.5 1.7 3.2 2.6 1.6 1.8 3.2" stroke-dashoffset="17.9" opacity="0.9"/><path d="M905.0,351.5H990.0" stroke="#0000cd" stroke-width="1.0" stroke-dasharray="1.4 7.0 1.2 8.5 1.2 6.9 1.5 5.4 1.3 5.2 1.5 4.8 1.6 7.3 1.6 8.6 1.2 8.5 1.9 8.0 1.9 9.4 1.6 5.2 1.1 6.6 1.3 5.6" stroke-dashoffset="2.2" opacity="0.9"/><path d="M198.0,351.5H330.0" stroke="#870098" stroke-width="1.0" stroke-dasharray="1.3 3.7 1.1 2.1 1.8 2.2 1.4 3.7 2.3 1.9 1.2 1.3 1.7 3.4 2.2 1.8 2.2 2.9 3.0 3.3 1.0 2.9 1.2 3.1 2.7 3.8 2.5 2.4" stroke-dashoffset="13.0" opacity="0.9"/><path d="M198.0,351.5H330.0" stroke="#0000cd" stroke-width="1.0" stroke-dasharray="1.8 9.5 1.5 6.6 1.6 9.9 1.4 5.3 1.8 4.5 1.1 8.5 1.8 4.8 1.2 4.3 1.2 10.7 1.5 5.8 1.3 9.8 1.3 11.1 1.3 5.9 1.1 6.9" stroke-dashoffset="12.4" opacity="0.9"/><path d="M1586,241H1645.1" stroke="#009ecf" stroke-width="1.2"/><path d="M1586,360.5H1645.1" stroke="#00b200" stroke-width="1.2"/></g><g clip-path="url(#c2)" opacity="0.9"><rect x="198.0" y="514" width="1447.1" height="50" filter="url(#nzb)" opacity="0.6"/><rect x="198.0" y="564" width="1447.1" height="139" filter="url(#nzb)" opacity="0.5"/><rect x="198.0" y="560" width="1447.1" height="143" filter="url(#nzp)" opacity="0.6"/><rect x="198.0" y="449" width="1447.1" height="62" fill="#000" opacity="0.12"/><rect x="462" y="575" width="390" height="128" filter="url(#nzb)" opacity="0.45"/><path d="M198.0,517.3H850.0" stroke="#0000cd" stroke-width="1.1" stroke-dasharray="1.1 1.1 3.8 0.6 3.0 1.7 2.8 1.3 3.8 2.0 3.4 1.9 2.3 2.8 2.7 1.9 1.6 1.8 2.4 1.7 3.1 1.6 3.1 1.2 4.0 1.5 1.5 2.7" stroke-dashoffset="20.6" opacity="1.0"/><path d="M198.0,517.3H850.0" stroke="#007add" stroke-width="1.1" stroke-dasharray="1.9 3.1 2.4 2.7 1.5 5.3 1.6 5.1 1.8 3.9 1.1 2.2 1.0 2.1 1.8 3.7 2.0 3.0 2.5 4.4 2.8 2.1 1.0 5.9 1.3 2.5 2.1 5.6" stroke-dashoffset="29.6" opacity="1.0"/><path d="M198.0,517.3H850.0" stroke="#00a7b3" stroke-width="1.1" stroke-dasharray="1.0 13.9 1.9 8.4 1.3 5.7 1.6 12.0 1.7 7.1 1.6 12.2 1.7 9.8 1.8 8.3 1.0 7.5 1.9 5.5 1.7 7.2 2.0 13.6 1.1 13.5 1.7 8.5" stroke-dashoffset="13.6" opacity="1.0"/><path d="M850.0,517.3H1645.1" stroke="#0000dd" stroke-width="1.2" stroke-dasharray="3.4 0.6 3.3 1.9 2.2 1.7 4.2 1.7 4.5 1.5 3.1 1.1 2.9 2.0 2.8 0.9 4.6 0.7 4.2 1.0 4.6 0.6 2.6 1.1 4.8 1.2 2.4 1.1" stroke-dashoffset="27.7" opacity="1.0"/><path d="M850.0,517.3H1645.1" stroke="#0090dd" stroke-width="1.2" stroke-dasharray="1.9 1.6 1.8 2.6 1.3 2.3 2.3 2.2 1.4 1.5 2.0 2.8 1.6 1.2 2.7 2.7 3.0 2.1 2.2 1.1 1.8 2.1 2.2 2.9 1.6 1.2 2.9 2.4" stroke-dashoffset="20.0" opacity="1.0"/><path d="M850.0,517.3H1645.1" stroke="#00aaa5" stroke-width="1.2" stroke-dasharray="1.3 6.2 1.3 6.7 1.4 4.0 1.1 4.8 1.5 5.6 1.2 3.5 1.8 7.4 1.1 5.4 1.8 6.4 1.2 4.8 1.3 6.5 2.0 7.7 1.2 4.4 1.1 7.2" stroke-dashoffset="12.7" opacity="1.0"/><path d="M850.0,517.3H1645.1" stroke="#00a700" stroke-width="1.2" stroke-dasharray="1.3 21.9 1.2 9.2 1.9 12.2 1.3 11.6 1.2 21.7 1.1 9.5 2.0 9.6 1.2 20.4 1.0 13.1 1.7 16.2 1.4 8.2 1.4 21.2 2.0 11.7 1.6 13.2" stroke-dashoffset="20.9" opacity="1.0"/><path d="M198.0,520.6H1645.1" stroke="#0000dd" stroke-width="1.25" stroke-dasharray="2.2 1.2 4.5 0.6 4.4 1.2 2.5 1.6 3.8 1.0 3.9 0.6 4.6 1.5 4.8 1.5 2.9 1.8 3.7 0.7 4.3 1.7 2.9 1.8 4.9 1.6 4.6 0.6" stroke-dashoffset="5.7" opacity="1.0"/><path d="M198.0,520.6H1645.1" stroke="#0090dd" stroke-width="1.25" stroke-dasharray="1.5 1.8 2.9 1.3 2.5 2.8 2.0 1.4 2.7 1.0 2.1 2.7 2.8 2.1 1.6 2.3 1.3 1.4 2.5 2.2 1.6 2.5 1.1 1.0 1.4 2.0 1.2 1.6" stroke-dashoffset="1.9" opacity="1.0"/><path d="M198.0,520.6H1645.1" stroke="#00aaa5" stroke-width="1.25" stroke-dasharray="1.2 6.7 1.1 7.9 1.6 4.3 1.1 5.1 1.2 7.9 1.2 7.3 1.1 5.2 1.8 5.5 1.6 5.6 1.8 3.5 1.7 6.9 2.0 7.6 1.1 4.6 1.8 5.9" stroke-dashoffset="5.7" opacity="1.0"/><path d="M198.0,520.6H1645.1" stroke="#00a700" stroke-width="1.25" stroke-dasharray="1.4 9.6 1.8 14.9 1.5 13.1 1.2 20.0 2.0 14.7 1.9 18.4 1.6 11.2 1.2 20.8 1.7 12.6 1.2 9.6 1.6 18.0 1.1 12.5 1.6 8.0 1.5 11.0" stroke-dashoffset="16.0" opacity="1.0"/><path d="M198.0,520.6H1645.1" stroke="#00a3bf" stroke-width="1.2" stroke-dasharray="1.9 3.6 1.6 3.9 2.5 4.7 1.5 4.6 2.4 2.5 2.6 2.1 1.3 2.3 1.7 3.3 1.9 4.2 1.2 4.2 2.8 2.8 2.5 2.0 2.3 3.3 1.5 2.6" stroke-dashoffset="20.7" opacity="1.0"/><path d="M198.0,519.0H1645.1" stroke="#0000dd" stroke-width="1.0" stroke-dasharray="1.6 1.1 2.0 2.5 2.8 1.8 1.2 1.8 1.0 1.8 2.1 2.3 2.9 2.7 1.1 2.6 2.7 1.8 1.5 1.8 1.7 1.2 1.5 1.2 2.6 2.9 2.4 2.4" stroke-dashoffset="15.9" opacity="0.9"/><path d="M198.0,516.0H1645.1" stroke="#0000bd" stroke-width="1.0" stroke-dasharray="2.5 3.0 1.5 4.2 1.3 2.3 1.1 2.7 2.5 4.5 1.7 4.4 1.8 4.3 1.1 4.7 1.2 4.6 2.7 3.4 2.4 5.0 1.9 2.2 2.0 4.4 2.7 4.9" stroke-dashoffset="8.9" opacity="0.9"/><path d="M198.0,523.0H1645.1" stroke="#870098" stroke-width="1.0" stroke-dasharray="2.5 3.8 2.6 2.1 2.7 3.1 2.4 3.6 2.4 3.1 1.1 2.0 1.6 1.6 2.5 1.3 1.8 4.0 2.8 1.9 2.4 3.5 1.6 2.5 1.5 3.5 1.1 3.8" stroke-dashoffset="28.4" opacity="0.9"/><path d="M198.0,523.0H1645.1" stroke="#0000cd" stroke-width="1.0" stroke-dasharray="2.0 11.6 1.3 10.8 1.3 4.1 1.8 10.1 1.5 7.3 1.1 5.9 2.0 11.3 1.1 6.6 1.4 9.7 1.6 11.7 1.8 9.8 1.6 9.7 1.3 8.2 1.3 11.9" stroke-dashoffset="23.4" opacity="0.9"/><path d="M198.0,527.4H1645.1" stroke="#0000cd" stroke-width="1.15" stroke-dasharray="3.3 2.2 3.8 2.8 1.2 2.9 3.3 2.2 2.6 1.1 2.2 1.1 3.8 1.1 2.7 2.5 1.9 1.9 3.2 2.4 1.7 1.5 3.7 1.0 2.2 1.4 3.0 1.3" stroke-dashoffset="17.9" opacity="1.0"/><path d="M198.0,527.4H1645.1" stroke="#007add" stroke-width="1.15" stroke-dasharray="1.6 4.9 2.6 4.1 1.2 4.3 1.8 4.0 1.5 5.3 2.4 2.7 2.0 4.0 1.1 2.3 2.2 5.4 2.5 4.9 3.0 4.0 1.1 5.7 2.0 3.8 2.3 4.3" stroke-dashoffset="11.7" opacity="1.0"/><path d="M198.0,527.4H1645.1" stroke="#00a7b3" stroke-width="1.15" stroke-dasharray="1.1 6.7 1.5 8.1 1.3 13.1 1.8 9.5 1.0 12.3 1.0 5.5 1.4 9.0 2.0 11.1 1.8 12.9 1.4 12.5 1.3 13.9 1.0 13.9 1.3 7.0 1.4 10.8" stroke-dashoffset="20.2" opacity="1.0"/><path d="M700.0,532.5H1645.1" stroke="#870098" stroke-width="1.0" stroke-dasharray="2.1 3.1 2.0 3.5 1.3 3.5 2.8 2.5 2.3 2.4 2.8 2.0 1.3 3.5 2.8 3.1 1.1 2.0 2.3 1.6 2.5 2.7 2.7 2.5 2.1 3.1 2.2 1.5" stroke-dashoffset="25.2" opacity="0.9"/><path d="M700.0,532.5H1645.1" stroke="#0000cd" stroke-width="1.0" stroke-dasharray="1.7 6.5 2.0 4.3 1.5 11.0 1.6 9.6 1.1 11.6 1.8 10.8 1.8 8.2 1.1 4.1 1.6 9.4 1.3 5.4 1.7 11.4 1.4 6.1 1.9 7.7 1.5 6.8" stroke-dashoffset="15.3" opacity="0.9"/><path d="M198.0,532.5H700.0" stroke="#870098" stroke-width="1.0" stroke-dasharray="1.3 1.8 2.2 2.0 2.5 4.0 2.0 3.6 1.9 2.9 2.3 3.4 2.5 1.0 1.3 3.9 1.1 3.9 2.7 2.1 2.8 1.6 2.9 1.5 2.5 1.5 1.2 3.8" stroke-dashoffset="7.9" opacity="0.9"/><path d="M198.0,532.5H700.0" stroke="#0000cd" stroke-width="1.0" stroke-dasharray="2.0 5.3 1.2 4.8 1.3 7.4 1.3 4.6 1.6 6.9 1.7 9.9 1.1 5.5 1.4 9.5 1.7 11.3 1.3 7.3 1.0 7.3 1.7 11.7 2.0 9.0 1.3 6.2" stroke-dashoffset="21.4" opacity="0.9"/><path d="M985.0,542.0H1645.1" stroke="#0000bd" stroke-width="1.1" stroke-dasharray="2.2 1.4 2.5 1.8 1.0 3.8 2.1 3.2 2.5 2.5 1.6 3.6 2.5 2.1 3.0 3.9 2.8 3.3 1.0 1.4 2.7 1.3 2.8 2.2 2.8 2.4 2.7 2.7" stroke-dashoffset="4.8" opacity="1.0"/><path d="M985.0,542.0H1645.1" stroke="#0041dd" stroke-width="1.1" stroke-dasharray="1.4 6.0 1.8 3.3 1.9 6.3 1.9 6.8 1.5 7.9 1.9 8.5 1.8 6.0 1.9 8.5 1.6 4.9 1.2 3.1 1.5 4.8 1.3 4.8 1.2 3.8 1.4 6.0" stroke-dashoffset="25.8" opacity="1.0"/><path d="M198.0,542.0H985.0" stroke="#870098" stroke-width="1.0" stroke-dasharray="2.6 3.3 1.9 2.4 1.5 3.3 2.3 3.3 1.0 1.6 2.9 1.1 2.1 3.7 1.3 2.9 2.0 2.8 2.1 3.9 3.0 3.7 1.5 3.2 1.7 1.7 2.9 1.9" stroke-dashoffset="12.0" opacity="0.9"/><path d="M198.0,542.0H985.0" stroke="#0000cd" stroke-width="1.0" stroke-dasharray="2.0 9.6 1.5 11.8 1.5 6.7 1.9 4.8 1.1 10.0 1.4 9.5 1.5 8.5 1.3 11.3 2.0 4.8 1.4 10.5 1.1 7.5 1.0 11.8 1.3 5.1 1.1 5.9" stroke-dashoffset="12.2" opacity="0.9"/><path d="M198.0,547.2H1645.1" stroke="#0000cd" stroke-width="1.0" stroke-dasharray="2.6 3.9 1.8 1.7 1.3 3.7 1.2 1.3 2.3 3.2 1.0 3.7 2.1 2.4 1.6 3.9 1.7 3.6 1.5 3.5 2.3 2.4 2.2 3.2 2.2 1.8 1.1 3.5" stroke-dashoffset="8.3" opacity="0.9"/><path d="M198.0,549.5H1645.1" stroke="#0000cd" stroke-width="1.0" stroke-dasharray="2.7 2.9 2.2 2.1 2.7 1.1 2.9 1.6 1.5 1.5 1.9 3.9 1.4 3.0 2.4 2.4 2.9 2.4 2.3 4.0 1.5 1.3 2.1 2.7 1.1 4.0 2.5 2.5" stroke-dashoffset="13.7" opacity="0.9"/><path d="M198.0,548.3H1645.1" stroke="#0000dd" stroke-width="1.25" stroke-dasharray="4.8 1.7 3.6 0.8 2.5 1.3 4.3 1.2 3.7 1.0 4.4 1.5 4.9 0.9 2.3 1.0 4.5 0.7 3.3 0.8 3.7 1.7 2.0 1.3 3.3 0.9 3.8 2.0" stroke-dashoffset="0.2" opacity="1.0"/><path d="M198.0,548.3H1645.1" stroke="#0090dd" stroke-width="1.25" stroke-dasharray="3.0 1.8 2.3 2.4 1.6 2.5 2.5 2.4 1.9 1.6 2.2 1.0 1.9 1.7 3.0 2.4 2.3 2.8 2.5 1.9 1.6 1.4 3.0 1.9 2.5 2.0 1.9 2.9" stroke-dashoffset="24.8" opacity="1.0"/><path d="M198.0,548.3H1645.1" stroke="#00aaa5" stroke-width="1.25" stroke-dasharray="1.8 6.1 1.0 3.5 1.8 5.5 1.2 6.4 1.6 7.8 1.5 6.8 1.7 7.5 1.5 6.4 1.6 6.1 1.2 3.3 2.0 4.2 1.2 3.4 1.7 5.7 1.4 5.8" stroke-dashoffset="12.1" opacity="1.0"/><path d="M198.0,548.3H1645.1" stroke="#00a700" stroke-width="1.25" stroke-dasharray="1.4 19.9 1.5 9.9 1.4 13.2 1.5 21.6 1.7 19.2 1.4 17.2 1.7 9.2 1.7 14.8 1.8 15.9 1.2 17.1 1.2 16.5 1.4 10.8 1.7 11.4 1.9 18.0" stroke-dashoffset="13.2" opacity="1.0"/><path d="M198.0,548.3H1180.0" stroke="#00a13d" stroke-width="1.2" stroke-dasharray="2.5 6.8 2.2 3.1 2.8 4.1 2.5 7.4 2.1 5.0 1.9 3.5 2.5 6.8 2.3 7.4 1.9 5.1 2.8 4.7 2.1 3.4 2.8 3.6 2.8 5.9 1.7 4.7" stroke-dashoffset="25.4" opacity="1.0"/><path d="M198.0,548.3H1180.0" stroke="#00e200" stroke-width="1.1" stroke-dasharray="1.1 23.0 1.5 21.6 1.9 15.3 1.4 12.5 1.0 8.7 1.2 8.7 1.5 18.7 1.6 12.0 1.8 15.3 1.9 15.3 1.2 9.9 1.8 11.0 1.4 23.8 1.5 19.1" stroke-dashoffset="8.6" opacity="1.0"/><path d="M1180.0,548.3H1645.1" stroke="#00a55d" stroke-width="1.1" stroke-dasharray="1.4 3.2 1.5 4.0 1.8 8.1 2.6 8.0 2.2 5.2 1.6 4.5 2.2 5.9 1.9 8.6 1.4 5.3 1.1 6.4 1.5 6.0 1.1 6.7 2.6 5.1 2.9 4.1" stroke-dashoffset="19.7" opacity="1.0"/><path d="M218.0,561.4H1645.1" stroke="#0000bd" stroke-width="1.1" stroke-dasharray="1.3 2.2 1.8 2.6 2.1 1.6 1.4 1.5 1.3 2.9 2.4 2.9 1.7 1.6 2.8 3.1 2.9 1.8 1.6 1.4 1.7 3.8 1.5 3.5 2.7 2.3 2.0 3.3" stroke-dashoffset="4.1" opacity="1.0"/><path d="M218.0,561.4H1645.1" stroke="#0041dd" stroke-width="1.1" stroke-dasharray="1.3 5.1 1.7 5.2 1.7 4.0 1.4 8.2 2.0 8.2 1.4 8.2 1.3 5.5 1.4 3.9 1.4 3.2 1.0 6.8 1.1 6.8 1.5 3.3 1.4 6.9 1.5 6.9" stroke-dashoffset="14.3" opacity="1.0"/><path d="M515.0,574.7H1645.1" stroke="#870098" stroke-width="1.1" stroke-dasharray="2.0 2.4 2.3 1.5 2.6 2.3 1.7 3.8 1.3 1.4 2.4 1.1 2.1 1.7 1.8 2.5 1.2 1.8 1.7 2.4 3.0 2.1 2.4 2.6 1.0 1.1 2.1 1.6" stroke-dashoffset="8.2" opacity="0.9"/><path d="M515.0,574.7H1645.1" stroke="#0000cd" stroke-width="1.1" stroke-dasharray="2.0 8.9 1.4 10.8 1.4 5.5 1.9 11.1 1.3 7.1 1.2 7.7 1.9 4.8 1.5 10.5 1.8 9.0 1.4 8.3 1.2 11.1 1.4 4.3 1.2 6.2 1.5 4.7" stroke-dashoffset="1.9" opacity="0.9"/><path d="M1400.0,574.7H1645.1" stroke="#0000bd" stroke-width="1.0" stroke-dasharray="1.7 2.2 1.8 1.3 2.0 1.1 2.0 2.6 1.8 2.0 1.1 2.0 1.9 3.6 2.1 3.9 2.8 1.9 2.0 3.4 1.8 3.1 2.7 3.7 1.6 1.2 2.8 2.3" stroke-dashoffset="28.8" opacity="1.0"/><path d="M1400.0,574.7H1645.1" stroke="#0041dd" stroke-width="1.0" stroke-dasharray="1.5 3.5 1.5 3.5 1.5 6.9 1.1 3.3 1.7 4.8 1.8 4.3 1.8 3.6 2.0 5.6 1.2 8.6 1.3 3.9 1.3 5.7 1.7 8.6 1.7 4.7 1.3 6.5" stroke-dashoffset="11.8" opacity="1.0"/><path d="M515.0,589.5H1645.1" stroke="#870098" stroke-width="1.1" stroke-dasharray="1.1 1.3 1.1 3.1 1.4 2.9 1.3 3.3 1.3 3.5 2.2 1.7 1.3 2.3 2.4 2.8 1.2 2.9 2.8 1.3 3.0 3.9 2.6 3.9 2.7 3.8 1.5 1.8" stroke-dashoffset="26.5" opacity="0.9"/><path d="M515.0,589.5H1645.1" stroke="#0000cd" stroke-width="1.1" stroke-dasharray="1.3 6.0 1.4 4.4 1.4 7.9 1.6 4.2 1.5 8.7 1.2 10.9 1.9 5.0 1.4 7.6 1.2 7.4 1.2 10.0 1.6 6.6 1.1 8.9 1.4 4.7 1.8 7.1" stroke-dashoffset="5.6" opacity="0.9"/><path d="M465.0,687.2H700.0" stroke="#0000bd" stroke-width="1.0" stroke-dasharray="1.0 1.4 1.2 2.5 1.5 3.9 2.1 2.7 1.0 3.6 2.2 2.8 1.5 1.8 2.2 1.9 2.0 3.9 1.5 3.6 2.2 2.5 1.8 2.8 2.9 2.7 2.2 3.4" stroke-dashoffset="6.9" opacity="1.0"/><path d="M465.0,687.2H700.0" stroke="#0041dd" stroke-width="1.0" stroke-dasharray="2.0 7.2 1.3 5.0 1.9 7.0 1.5 6.8 1.4 8.3 1.2 4.8 2.0 7.3 1.8 5.0 1.6 4.1 1.7 4.1 1.8 6.4 1.5 7.4 1.5 7.0 2.0 7.6" stroke-dashoffset="27.0" opacity="1.0"/><path d="M700.0,687.2H1645.1" stroke="#870098" stroke-width="1.0" stroke-dasharray="1.8 3.0 2.0 2.7 1.4 2.7 2.1 3.7 2.0 2.2 1.9 2.9 1.9 2.3 1.1 3.0 2.4 2.9 2.7 2.1 2.5 1.8 2.8 1.5 2.9 2.7 2.4 2.4" stroke-dashoffset="24.8" opacity="0.9"/><path d="M700.0,687.2H1645.1" stroke="#0000cd" stroke-width="1.0" stroke-dasharray="1.5 11.1 1.6 4.8 1.7 4.4 1.1 8.2 1.9 10.4 1.3 5.1 1.3 11.0 1.8 6.0 1.1 8.1 1.9 7.1 1.9 9.3 1.6 11.9 1.7 9.7 2.0 7.6" stroke-dashoffset="21.9" opacity="0.9"/><path d="M198.0,701.0H1645.1" stroke="#0000bd" stroke-width="1.25" stroke-dasharray="1.4 1.9 2.0 4.0 2.4 3.4 2.4 1.5 1.7 1.7 1.3 3.3 2.5 2.7 1.6 3.2 1.2 1.0 1.2 1.9 2.1 3.4 2.4 3.7 1.6 1.1 2.3 3.8" stroke-dashoffset="29.0" opacity="1.0"/><path d="M198.0,701.0H1645.1" stroke="#0041dd" stroke-width="1.25" stroke-dasharray="1.8 5.5 1.5 3.3 1.2 8.6 1.7 7.3 1.8 6.2 1.3 6.5 1.8 4.4 2.0 6.4 1.2 6.0 2.0 7.5 1.4 4.5 1.1 3.4 1.1 5.9 1.3 4.9" stroke-dashoffset="8.2" opacity="1.0"/><path d="M700.0,701.6H1645.1" stroke="#0000cd" stroke-width="1.2" stroke-dasharray="1.8 2.2 2.7 2.3 3.3 2.3 1.3 2.1 3.9 0.8 1.3 0.8 2.5 2.4 2.8 2.2 2.1 2.7 3.7 2.6 1.9 0.7 2.6 2.4 3.9 1.1 1.9 1.6" stroke-dashoffset="16.2" opacity="1.0"/><path d="M700.0,701.6H1645.1" stroke="#007add" stroke-width="1.2" stroke-dasharray="2.7 2.5 2.0 3.1 2.7 4.8 1.4 5.3 1.4 5.0 1.7 4.6 1.8 5.0 2.9 3.9 2.5 5.4 2.1 5.5 1.9 3.3 1.6 5.3 2.8 5.8 2.0 3.1" stroke-dashoffset="9.1" opacity="1.0"/><path d="M700.0,701.6H1645.1" stroke="#00a7b3" stroke-width="1.2" stroke-dasharray="1.8 12.9 1.2 9.9 1.5 12.1 1.4 8.2 1.3 12.1 1.2 11.1 1.1 10.9 1.7 13.5 1.7 12.7 1.8 6.3 1.1 5.5 1.9 6.1 1.2 5.9 1.2 11.1" stroke-dashoffset="17.9" opacity="1.0"/><path d="M500.0,517.3H570.0" stroke="#00b200" stroke-width="1.6" stroke-dasharray="2.8 1.8 3.0 1.8 3.6 1.4 5.7 1.4 5.3 2.1 2.3 2.3 4.9 2.8 3.0 2.0 2.6 1.0 2.7 1.4 2.9 1.8 5.4 1.2 2.4 1.6 3.3 2.3" stroke-dashoffset="19.0" opacity="1.0"/><path d="M515.0,517.3H560.0" stroke="#67ff00" stroke-width="1.4" stroke-dasharray="3.1 5.0 4.0 4.9 2.0 2.1 4.5 3.7 4.9 2.6 4.3 3.6 4.7 2.4 2.2 4.6 4.3 5.8 3.1 2.5 4.4 4.5 4.3 2.1 3.1 3.1 2.3 5.6" stroke-dashoffset="5.9" opacity="1.0"/><path d="M500.0,520.6H570.0" stroke="#00b200" stroke-width="1.6" stroke-dasharray="4.8 1.0 3.2 2.8 2.0 1.9 5.2 1.4 2.4 2.8 5.2 1.9 5.8 1.7 2.9 1.4 5.2 1.3 5.7 1.5 5.8 1.9 3.9 2.7 5.3 1.5 3.6 2.2" stroke-dashoffset="29.8" opacity="1.0"/><path d="M515.0,520.6H560.0" stroke="#67ff00" stroke-width="1.4" stroke-dasharray="2.9 3.3 3.9 3.9 4.4 4.6 4.3 2.8 3.0 5.7 3.2 5.6 5.0 3.7 2.3 4.9 3.0 3.4 4.0 2.8 3.6 3.4 4.4 2.9 4.6 3.9 2.9 3.2" stroke-dashoffset="16.3" opacity="1.0"/><path d="M500.0,548.3H570.0" stroke="#00b200" stroke-width="1.6" stroke-dasharray="3.4 2.9 3.9 2.8 3.9 1.2 4.1 1.2 2.9 1.8 2.6 2.0 3.9 2.8 5.5 2.1 3.2 2.6 3.3 2.6 5.0 3.0 2.9 2.6 3.2 2.7 2.0 2.6" stroke-dashoffset="17.8" opacity="1.0"/><path d="M515.0,548.3H560.0" stroke="#67ff00" stroke-width="1.4" stroke-dasharray="2.5 3.0 2.6 4.0 2.3 5.4 4.0 4.0 4.8 4.0 3.6 4.2 4.5 5.2 3.7 5.4 4.4 5.4 3.5 4.9 2.7 3.0 4.7 4.3 3.4 5.4 3.7 3.7" stroke-dashoffset="6.8" opacity="1.0"/><path d="M520.0,548.3H560.0" stroke="#f3e500" stroke-width="1.6" stroke-dasharray="2.2 4.0 3.3 2.7 2.0 2.1 4.7 3.3 2.2 2.2 4.6 3.7 2.4 1.6 3.1 3.3 2.2 2.4 2.9 1.4 4.9 1.2 2.8 3.2 4.9 1.1 4.6 2.8" stroke-dashoffset="27.7" opacity="1.0"/><path d="M500.0,527.4H570.0" stroke="#0000dd" stroke-width="1.25" stroke-dasharray="2.7 1.2 3.0 1.7 3.1 0.7 4.9 1.9 2.7 1.6 2.9 1.7 2.4 0.7 3.7 1.9 3.9 0.6 2.3 1.7 4.2 1.9 4.9 0.7 4.9 1.0 3.8 0.8" stroke-dashoffset="4.3" opacity="1.0"/><path d="M500.0,527.4H570.0" stroke="#0090dd" stroke-width="1.25" stroke-dasharray="2.6 1.4 1.7 1.1 2.1 1.7 2.4 1.8 2.3 1.8 1.5 2.1 2.3 1.1 2.5 3.0 1.0 2.1 1.6 1.4 1.3 1.7 2.5 2.6 2.6 2.8 1.6 2.1" stroke-dashoffset="22.0" opacity="1.0"/><path d="M500.0,527.4H570.0" stroke="#00aaa5" stroke-width="1.25" stroke-dasharray="1.5 3.5 1.4 4.4 1.1 5.2 1.2 7.6 1.7 7.0 1.1 4.3 1.2 6.2 1.6 7.4 1.3 4.6 1.8 4.6 1.4 6.2 1.2 3.2 2.0 3.5 1.2 6.0" stroke-dashoffset="22.0" opacity="1.0"/><path d="M500.0,527.4H570.0" stroke="#00a700" stroke-width="1.25" stroke-dasharray="1.4 12.4 1.9 20.9 1.9 13.0 1.5 18.7 1.8 9.7 1.5 8.9 1.9 16.6 1.1 8.3 1.7 13.7 1.1 12.9 1.4 17.7 1.7 16.3 1.2 17.7 1.3 12.9" stroke-dashoffset="21.7" opacity="1.0"/><path d="M500.0,574.7H570.0" stroke="#0000cd" stroke-width="1.2" stroke-dasharray="1.2 1.6 1.6 0.5 1.5 1.3 1.1 2.1 1.7 0.7 3.2 2.9 2.0 1.6 1.2 1.9 2.4 0.6 2.4 2.3 3.0 2.2 3.4 2.8 2.9 1.4 3.8 1.0" stroke-dashoffset="21.8" opacity="1.0"/><path d="M500.0,574.7H570.0" stroke="#007add" stroke-width="1.2" stroke-dasharray="2.8 4.6 2.4 3.5 2.4 3.8 1.4 5.6 2.3 3.8 1.6 5.7 1.4 2.8 1.2 6.0 2.8 5.6 1.6 3.1 1.6 3.6 1.6 3.1 2.8 3.5 2.7 2.3" stroke-dashoffset="26.1" opacity="1.0"/><path d="M500.0,574.7H570.0" stroke="#00a7b3" stroke-width="1.2" stroke-dasharray="1.2 7.9 1.2 13.4 1.4 10.5 1.4 10.3 1.9 7.7 1.4 5.2 1.6 11.9 2.0 10.8 1.5 9.2 1.1 9.7 1.7 8.2 1.1 11.0 1.3 13.6 1.8 6.0" stroke-dashoffset="0.4" opacity="1.0"/><path d="M1080.0,520.6H1180.0" stroke="#00c400" stroke-width="1.5" stroke-dasharray="2.2 4.7 4.2 3.7 4.5 2.1 5.2 3.7 2.2 2.5 5.5 3.5 5.6 2.9 3.7 2.4 4.5 2.1 5.8 3.8 5.3 3.3 5.2 3.4 5.1 4.8 5.5 3.0" stroke-dashoffset="3.3" opacity="1.0"/><path d="M1540.0,520.6H1645.0" stroke="#00c400" stroke-width="1.5" stroke-dasharray="3.5 2.3 3.7 3.3 3.7 2.5 4.3 3.9 5.7 4.5 4.5 3.3 2.2 2.1 3.7 4.7 4.6 2.9 4.5 4.8 5.1 4.7 4.0 3.6 5.7 2.8 4.7 2.4" stroke-dashoffset="15.8" opacity="1.0"/><path d="M840.0,520.6H900.0" stroke="#00c400" stroke-width="1.5" stroke-dasharray="5.8 4.3 2.5 3.7 4.8 2.6 3.0 4.0 2.7 2.9 5.5 4.0 2.3 3.2 3.9 5.0 3.4 4.3 4.4 4.0 4.8 3.0 3.4 3.5 3.5 3.9 3.2 3.3" stroke-dashoffset="10.6" opacity="1.0"/><path d="M590.0,520.6H640.0" stroke="#00c400" stroke-width="1.5" stroke-dasharray="3.5 3.9 4.8 2.5 4.7 2.8 5.9 4.1 3.8 4.0 2.8 4.1 4.4 3.7 4.9 3.1 5.6 3.6 3.2 3.8 5.8 2.4 2.0 3.7 2.1 3.2 5.1 3.7" stroke-dashoffset="26.0" opacity="1.0"/><path d="M467.8,690.0L479.0,685.8L495.5,680.3L523.3,675.5L545.5,673.3L559.4,674.7L590.0,668.3L606.7,664.4L634.4,662.2L662.2,658.0L680.0,655.3L691.0,649.7L730.0,650.5L760.5,638.6L771.7,641.4L802.0,639.4L830.0,638.6L841.0,635.8L850.0,631.0" stroke="#007add" stroke-width="1.2" stroke-dasharray="3.8 2.8 4.8 2.6 5.9 1.4 3.9 1.5 3.8 2.1 5.6 1.5 4.4 2.0 4.9 2.4 2.6 1.2 2.3 1.1 3.4 2.9 3.5 2.2 2.1 1.4 4.4 0.9" opacity="1.0" stroke-linejoin="round"/><path d="M467.8,690.0L479.0,685.8L495.5,680.3L523.3,675.5L545.5,673.3L559.4,674.7L590.0,668.3L606.7,664.4L634.4,662.2L662.2,658.0L680.0,655.3L691.0,649.7L730.0,650.5L760.5,638.6L771.7,641.4L802.0,639.4L830.0,638.6L841.0,635.8L850.0,631.0" stroke="#00aaa5" stroke-width="1.1" stroke-dasharray="3.9 2.2 2.9 3.2 3.1 2.1 2.7 1.5 2.0 4.0 2.3 1.8 2.7 2.5 1.2 2.5 3.7 1.7 1.8 4.3 3.5 2.9 3.0 2.6 1.3 4.2 2.4 5.0" opacity="1.0" stroke-linejoin="round"/><path d="M662.2,658.0L680.0,655.3L691.0,649.7L730.0,650.5L760.5,638.6L771.7,641.4L802.0,639.4L830.0,638.6L841.0,635.8L850.0,631.0" stroke="#00d700" stroke-width="1.1" stroke-dasharray="2.6 4.3 1.6 5.4 3.7 4.8 2.4 4.9 1.1 5.6 3.3 2.3 3.8 4.1 3.3 2.6 1.2 5.2 2.0 3.2 2.7 2.2 2.0 2.4 2.5 5.9 1.4 2.7" opacity="1.0" stroke-linejoin="round"/><path d="M730.0,650.5L760.5,638.6L771.7,641.4L802.0,639.4L830.0,638.6L841.0,635.8L850.0,631.0" stroke="#d0f800" stroke-width="1.1" stroke-dasharray="1.9 8.7 2.1 4.0 2.4 5.3 1.2 8.3 1.8 6.6 1.8 5.9 2.4 3.2 2.5 5.1 1.8 5.6 2.8 8.0 1.7 4.9 2.3 5.2 2.6 7.8 2.8 5.6" opacity="1.0" stroke-linejoin="round"/><path d="M467.8,690.0L479.0,685.8L495.5,680.3L523.3,675.5L545.5,673.3L559.4,674.7L590.0,668.3L606.7,664.4L634.4,662.2L662.2,658.0" stroke="#00b200" stroke-width="1.0" stroke-dasharray="1.6 12.5 2.6 6.4 1.9 5.3 1.2 11.7 2.4 7.0 1.8 7.9 2.1 8.7 1.1 9.2 2.4 12.7 2.2 9.9 1.7 11.2 2.7 6.3 1.8 5.9 1.4 9.3" opacity="1.0" stroke-linejoin="round"/><path d="M476.0,651.0L495.5,641.4L523.3,628.9L551.0,625.6L579.0,617.8L606.7,609.4L634.4,599.7L662.2,593.3L690.0,590.0" stroke="#0067dd" stroke-width="1.1" stroke-dasharray="3.4 1.2 2.7 2.2 3.2 3.5 2.5 3.3 4.3 3.2 3.1 1.2 2.2 3.0 4.6 3.4 2.9 1.5 4.3 3.2 4.5 3.7 4.8 2.1 3.7 1.4 4.4 2.5" opacity="0.95" stroke-linejoin="round"/><path d="M476.0,651.0L495.5,641.4L523.3,628.9L551.0,625.6L579.0,617.8L606.7,609.4L634.4,599.7L662.2,593.3L690.0,590.0" stroke="#00a7b3" stroke-width="1.0" stroke-dasharray="2.6 5.1 2.4 8.5 2.5 5.8 2.2 6.8 2.7 8.7 2.2 8.7 1.8 4.7 2.0 4.2 1.5 8.9 1.4 4.9 1.9 6.0 1.9 5.8 1.4 4.4 1.1 6.0" opacity="0.9" stroke-linejoin="round"/><path d="M680.0,576.0L691.0,577.5L713.0,575.5L727.0,578.9L741.0,573.3L763.0,552.5L769.0,560.8L791.0,559.4L830.0,554.4L849.4,543.3" stroke="#007add" stroke-width="1.2" stroke-dasharray="5.4 1.6 3.7 1.2 2.5 2.8 4.5 2.8 5.3 2.1 5.5 1.8 2.6 1.4 4.0 2.6 3.1 2.3 5.5 2.5 3.5 2.2 5.2 2.5 5.0 1.6 3.8 2.6" opacity="1" stroke-linejoin="round"/><path d="M680.0,576.0L691.0,577.5L713.0,575.5L727.0,578.9L741.0,573.3L763.0,552.5L769.0,560.8L791.0,559.4L830.0,554.4L849.4,543.3" stroke="#00aa9b" stroke-width="1.0" stroke-dasharray="1.5 3.9 2.9 3.5 2.7 5.2 2.9 5.6 2.3 3.4 1.5 4.4 1.3 5.9 2.8 6.7 1.1 5.7 1.2 4.2 2.9 6.5 2.8 5.0 2.3 4.0 2.3 4.7" opacity="0.95" stroke-linejoin="round"/><path d="M601.0,495.5L623.0,488.6L662.0,466.4L684.4,459.4" stroke="#007add" stroke-width="1.0" stroke-dasharray="2.8 5.3 1.3 4.2 2.0 4.9 1.5 6.2 2.7 5.8 2.9 4.2 2.0 5.5 2.6 5.7 1.8 3.8 2.4 4.4 1.4 4.1 2.4 4.7 2.0 4.2 2.9 3.7" opacity="0.9" stroke-linejoin="round"/><path d="M691.0,505.0L708.0,499.7L724.0,507.5L744.0,495.5L763.0,470.5L771.7,479.0L808.0,473.0" stroke="#007add" stroke-width="1.0" stroke-dasharray="2.2 3.3 2.2 3.8 1.8 2.4 1.9 3.9 1.6 4.5 1.7 5.9 2.3 2.7 2.2 4.6 1.7 4.5 2.3 5.1 1.9 4.2 2.2 2.2 3.0 2.1 2.3 5.5" opacity="0.9" stroke-linejoin="round"/><path d="M473.0,618.0L485.0,607.0L504.0,592.8" stroke="#001cdd" stroke-width="1.0" stroke-dasharray="2.6 2.5 2.3 2.9 2.2 4.6 1.2 3.3 2.7 2.2 2.1 4.1 1.3 2.4 2.6 3.6 1.4 2.0 2.8 3.1 3.0 4.4 2.1 4.8 2.8 4.6 2.2 2.1" opacity="0.9" stroke-linejoin="round"/><path d="M211.0,449.0V703.0" stroke="#1800a7" stroke-width="1.0" stroke-dasharray="2.2 7.8 2.8 3.7 1.3 3.3 1.7 4.3 2.2 6.5 2.4 3.4 1.5 7.5 2.3 5.2 1.2 4.3 1.7 7.2 1.9 7.8 2.1 4.2" stroke-dashoffset="22.1" opacity="0.85"/><path d="M211.0,449.0V703.0" stroke="#0000dd" stroke-width="1.0" stroke-dasharray="1.3 11.6 1.7 12.4 1.7 6.3 1.8 10.0 1.7 9.9 1.2 14.9 1.4 14.9 1.8 13.1 1.5 14.0 1.4 15.6 1.9 13.1 1.2 12.2" stroke-dashoffset="11.8" opacity="0.85"/><path d="M212.5,600.0V703.0" stroke="#0000cd" stroke-width="1.0" stroke-dasharray="3.3 3.5 3.8 1.5 3.6 2.1 2.7 3.7 2.7 2.8 3.5 3.2 3.5 2.6 2.5 3.9 3.8 2.0 2.7 3.3 2.0 2.8 2.0 1.1" stroke-dashoffset="4.7" opacity="1.0"/><path d="M212.5,600.0V703.0" stroke="#0085dd" stroke-width="1.0" stroke-dasharray="2.2 5.8 2.3 5.1 1.1 2.9 2.7 5.5 2.2 4.0 2.9 5.9 1.0 3.5 2.5 3.0 1.5 5.7 2.2 2.5 1.0 2.3 2.9 4.9" stroke-dashoffset="11.8" opacity="1.0"/><path d="M212.5,600.0V703.0" stroke="#00a7b3" stroke-width="1.0" stroke-dasharray="1.7 11.8 1.1 6.3 1.3 13.9 1.8 8.7 1.6 12.0 1.2 5.7 1.2 5.1 1.6 13.4 1.6 11.2 2.0 10.5 1.7 11.6 1.8 8.8" stroke-dashoffset="8.5" opacity="1.0"/><path d="M213.8,560.0V703.0" stroke="#0000bd" stroke-width="1.0" stroke-dasharray="2.3 3.1 1.6 4.2 1.3 4.0 1.6 4.9 2.5 4.5 1.1 5.0 2.3 3.8 1.5 2.4 1.4 3.5 1.4 3.9 2.4 4.1 2.0 3.1" stroke-dashoffset="14.6" opacity="1.0"/><path d="M213.8,560.0V703.0" stroke="#0067dd" stroke-width="1.0" stroke-dasharray="1.6 6.1 1.3 9.4 1.6 10.1 1.7 5.1 1.4 4.5 1.9 4.2 1.2 11.1 1.4 5.0 1.9 10.2 1.3 8.9 1.4 11.6 2.0 11.1" stroke-dashoffset="15.9" opacity="1.0"/><path d="M219.0,561.0V703.0" stroke="#1800a7" stroke-width="1.0" stroke-dasharray="2.5 4.7 1.1 3.7 1.8 7.3 2.4 3.9 1.6 6.0 1.5 3.5 2.9 3.7 1.3 5.1 2.5 7.5 1.5 4.7 2.9 3.7 2.8 6.0" stroke-dashoffset="16.4" opacity="0.85"/><path d="M219.0,561.0V703.0" stroke="#0000dd" stroke-width="1.0" stroke-dasharray="1.3 6.2 1.9 10.5 1.4 9.2 1.8 7.7 1.5 14.5 1.2 8.1 1.2 13.0 1.3 11.8 1.8 13.6 1.0 7.0 1.5 15.1 1.9 9.9" stroke-dashoffset="4.3" opacity="0.85"/><path d="M289.4,678.0V703.0" stroke="#0000cd" stroke-width="1.0" stroke-dasharray="1.9 3.3 2.8 1.4 1.8 1.2 3.7 3.1 1.4 2.6 2.9 1.7 3.0 3.3 3.6 1.5 1.2 3.0 1.7 3.3 1.3 3.3 2.6 4.0" stroke-dashoffset="0.8" opacity="1.0"/><path d="M289.4,678.0V703.0" stroke="#0085dd" stroke-width="1.0" stroke-dasharray="1.8 5.4 1.5 2.8 1.4 2.4 1.8 5.7 2.6 5.4 2.2 3.2 2.0 4.5 1.5 2.8 1.4 5.6 2.0 2.1 2.8 6.0 2.8 4.2" stroke-dashoffset="13.7" opacity="1.0"/><path d="M289.4,678.0V703.0" stroke="#00a7b3" stroke-width="1.0" stroke-dasharray="1.0 9.3 1.2 13.2 1.4 8.8 1.1 5.9 1.3 13.7 1.8 7.0 1.7 13.1 1.2 5.5 1.7 9.4 1.1 5.6 1.2 5.6 1.8 12.8" stroke-dashoffset="22.1" opacity="1.0"/><path d="M358.0,640.0V703.0" stroke="#0000bd" stroke-width="1.0" stroke-dasharray="1.9 4.5 1.9 4.3 2.7 2.1 2.6 4.3 2.7 4.9 1.9 4.3 1.1 2.2 2.0 3.1 1.9 2.2 1.6 4.7 2.3 3.9 1.4 3.4" stroke-dashoffset="21.6" opacity="1.0"/><path d="M358.0,640.0V703.0" stroke="#0067dd" stroke-width="1.0" stroke-dasharray="1.9 8.8 1.6 4.6 1.1 4.8 1.6 10.3 1.3 7.0 1.0 4.7 1.3 7.2 1.2 4.8 1.3 9.5 1.2 5.5 1.0 7.0 1.5 10.0" stroke-dashoffset="19.8" opacity="1.0"/><path d="M367.8,660.0V703.0" stroke="#0000bd" stroke-width="1.0" stroke-dasharray="2.8 3.9 1.8 2.5 2.2 3.3 1.2 4.4 2.8 4.3 1.2 4.9 1.1 4.4 1.5 3.0 1.6 3.6 1.3 2.4 2.1 2.8 1.6 3.9" stroke-dashoffset="10.3" opacity="1.0"/><path d="M367.8,660.0V703.0" stroke="#0067dd" stroke-width="1.0" stroke-dasharray="1.6 7.0 1.9 11.6 2.0 5.8 1.2 6.7 1.1 7.2 1.0 6.0 1.8 8.5 1.5 11.8 1.9 6.9 1.4 7.6 1.9 6.5 1.2 4.0" stroke-dashoffset="26.0" opacity="1.0"/><path d="M378.9,620.0V703.0" stroke="#0000bd" stroke-width="1.0" stroke-dasharray="1.9 2.6 2.5 2.5 2.8 4.5 2.3 5.0 2.0 3.1 1.0 2.7 2.8 2.1 2.3 3.8 1.0 3.4 2.9 3.8 2.8 3.7 1.0 2.9" stroke-dashoffset="13.8" opacity="1.0"/><path d="M378.9,620.0V703.0" stroke="#0067dd" stroke-width="1.0" stroke-dasharray="1.7 10.2 1.5 6.9 1.7 5.2 1.8 5.7 1.3 8.0 1.5 11.2 1.6 10.6 1.1 5.6 1.7 10.2 1.2 5.9 1.9 5.7 1.6 10.7" stroke-dashoffset="0.4" opacity="1.0"/><path d="M392.8,640.0V703.0" stroke="#0000bd" stroke-width="1.0" stroke-dasharray="1.1 4.1 2.3 3.2 1.9 4.2 2.7 3.3 2.6 4.0 2.4 2.8 1.5 2.8 1.6 4.9 1.2 4.4 3.0 4.2 2.7 3.4 1.2 4.2" stroke-dashoffset="18.8" opacity="1.0"/><path d="M392.8,640.0V703.0" stroke="#0067dd" stroke-width="1.0" stroke-dasharray="2.0 7.9 1.1 11.0 1.6 9.8 1.4 4.4 1.6 6.2 1.2 9.3 1.5 6.7 1.8 10.8 1.5 10.5 1.2 8.2 1.5 11.4 1.7 6.3" stroke-dashoffset="25.9" opacity="1.0"/><path d="M458.0,570.0V703.0" stroke="#0000cd" stroke-width="1.0" stroke-dasharray="1.7 1.5 2.4 3.3 2.9 3.5 1.0 1.8 1.8 2.8 1.0 2.9 3.8 1.1 2.0 3.1 1.7 1.1 3.4 2.0 2.5 1.5 4.0 3.7" stroke-dashoffset="1.8" opacity="1.0"/><path d="M458.0,570.0V703.0" stroke="#0085dd" stroke-width="1.0" stroke-dasharray="1.9 2.2 2.5 3.6 1.7 4.4 1.4 3.7 1.8 2.7 1.7 5.1 2.6 2.8 2.0 4.1 1.3 5.3 1.8 5.8 1.6 5.8 1.0 2.7" stroke-dashoffset="10.4" opacity="1.0"/><path d="M458.0,570.0V703.0" stroke="#00a7b3" stroke-width="1.0" stroke-dasharray="1.2 6.1 1.1 13.1 1.9 8.0 1.2 11.0 1.9 5.1 1.2 6.0 1.4 7.8 1.5 5.9 1.3 9.4 2.0 13.0 1.1 6.7 1.4 5.2" stroke-dashoffset="9.9" opacity="1.0"/><path d="M458.6,640.0V703.0" stroke="#0000cd" stroke-width="1.0" stroke-dasharray="2.9 2.5 3.5 2.4 1.0 3.1 1.2 3.7 2.1 2.4 2.3 1.9 3.4 1.2 2.6 3.0 2.0 1.8 2.9 3.9 2.9 1.9 2.4 2.7" stroke-dashoffset="12.4" opacity="1.0"/><path d="M458.6,640.0V703.0" stroke="#0085dd" stroke-width="1.0" stroke-dasharray="1.5 3.4 1.1 2.4 2.7 5.5 1.5 5.8 1.7 3.0 1.3 4.6 2.1 5.6 2.1 2.3 2.8 6.0 1.6 2.6 1.3 4.3 1.4 4.2" stroke-dashoffset="20.6" opacity="1.0"/><path d="M458.6,640.0V703.0" stroke="#00a7b3" stroke-width="1.0" stroke-dasharray="1.8 6.0 1.3 5.8 1.5 6.6 1.8 11.2 1.3 5.2 1.6 6.0 1.1 5.3 1.9 9.4 1.5 13.6 1.4 9.5 1.6 13.6 1.7 5.7" stroke-dashoffset="14.8" opacity="1.0"/><path d="M590.0,449.0V703.0" stroke="#0000bd" stroke-width="1.0" stroke-dasharray="1.1 4.6 1.7 4.2 2.0 3.7 1.4 3.4 1.0 2.2 1.3 4.9 2.8 4.7 2.6 2.5 2.3 4.4 2.8 3.1 2.4 3.2 2.0 3.2" stroke-dashoffset="10.5" opacity="1.0"/><path d="M590.0,449.0V703.0" stroke="#0067dd" stroke-width="1.0" stroke-dasharray="1.6 6.2 1.7 10.3 1.3 11.0 1.3 6.5 1.4 9.9 1.6 7.2 2.0 6.2 1.9 9.6 1.2 12.0 1.1 10.5 1.0 9.2 1.5 11.7" stroke-dashoffset="25.2" opacity="1.0"/><path d="M592.5,600.0V703.0" stroke="#0000cd" stroke-width="1.0" stroke-dasharray="2.6 3.0 1.8 3.3 3.8 2.8 3.1 2.5 1.4 1.6 3.9 2.9 1.6 2.1 2.1 3.9 1.8 1.7 1.2 2.1 2.2 2.0 3.1 3.4" stroke-dashoffset="11.0" opacity="1.0"/><path d="M592.5,600.0V703.0" stroke="#0085dd" stroke-width="1.0" stroke-dasharray="1.8 5.9 1.9 2.6 1.0 5.2 2.7 3.1 2.3 5.9 1.2 4.1 1.8 5.6 1.6 4.2 1.4 2.7 1.3 3.5 1.4 2.4 1.4 2.3" stroke-dashoffset="16.7" opacity="1.0"/><path d="M592.5,600.0V703.0" stroke="#00a7b3" stroke-width="1.0" stroke-dasharray="1.8 12.3 1.6 7.3 1.7 6.0 1.5 11.2 1.9 5.3 1.6 12.4 1.8 6.2 1.1 10.3 1.8 10.0 1.7 6.3 1.5 6.5 1.4 11.7" stroke-dashoffset="5.4" opacity="1.0"/><path d="M595.0,560.0V703.0" stroke="#0000cd" stroke-width="1.0" stroke-dasharray="3.8 2.1 2.6 2.6 3.8 2.7 3.3 3.3 1.5 1.0 2.7 2.3 3.0 3.4 3.8 3.3 3.9 2.0 2.5 2.9 3.5 1.4 2.6 3.7" stroke-dashoffset="3.3" opacity="1.0"/><path d="M595.0,560.0V703.0" stroke="#0085dd" stroke-width="1.0" stroke-dasharray="2.9 4.4 1.7 3.2 1.1 3.9 1.6 5.2 1.7 2.6 2.8 2.9 1.8 2.0 1.2 5.4 2.0 4.3 2.8 3.5 2.0 2.6 1.0 4.8" stroke-dashoffset="26.2" opacity="1.0"/><path d="M595.0,560.0V703.0" stroke="#00a7b3" stroke-width="1.0" stroke-dasharray="1.8 12.3 1.6 6.8 1.8 10.2 2.0 13.5 2.0 9.9 1.3 12.9 1.8 12.9 1.7 8.4 1.7 12.5 1.2 7.1 1.6 10.5 1.8 7.5" stroke-dashoffset="26.0" opacity="1.0"/><path d="M598.0,640.0V703.0" stroke="#0000cd" stroke-width="1.0" stroke-dasharray="1.5 3.1 1.9 2.7 1.4 2.8 1.0 3.6 2.7 1.8 1.4 1.6 4.0 1.3 3.8 2.9 3.4 2.5 3.8 2.3 2.6 1.8 1.4 3.0" stroke-dashoffset="1.9" opacity="1.0"/><path d="M598.0,640.0V703.0" stroke="#0085dd" stroke-width="1.0" stroke-dasharray="2.5 3.3 2.7 4.4 1.3 2.9 1.7 3.7 2.6 4.2 2.3 5.6 2.0 5.5 2.6 4.8 3.0 2.6 2.0 5.0 1.2 2.9 1.9 3.0" stroke-dashoffset="25.0" opacity="1.0"/><path d="M598.0,640.0V703.0" stroke="#00a7b3" stroke-width="1.0" stroke-dasharray="1.1 11.7 1.1 8.5 1.3 8.7 1.2 11.3 2.0 11.2 1.6 6.5 1.7 11.1 1.8 12.8 1.2 12.5 1.9 13.2 1.6 7.4 1.6 12.4" stroke-dashoffset="3.4" opacity="1.0"/><path d="M676.0,600.0V703.0" stroke="#1800a7" stroke-width="1.0" stroke-dasharray="1.9 4.8 1.2 4.2 1.9 4.7 2.8 5.0 2.9 4.6 1.5 6.4 1.1 3.9 2.7 7.5 2.7 6.0 2.3 3.4 2.3 4.4 1.7 6.7" stroke-dashoffset="23.1" opacity="0.85"/><path d="M676.0,600.0V703.0" stroke="#0000dd" stroke-width="1.0" stroke-dasharray="1.3 13.8 1.7 14.5 1.2 15.7 1.3 14.2 1.7 15.9 1.5 14.8 1.5 6.3 1.6 6.8 1.6 8.6 1.2 6.9 1.3 7.6 1.2 10.4" stroke-dashoffset="1.0" opacity="0.85"/><path d="M688.6,449.0V703.0" stroke="#0000bd" stroke-width="1.0" stroke-dasharray="2.6 5.0 2.5 2.9 3.0 4.4 2.0 2.6 2.9 2.3 1.7 2.8 2.6 5.0 1.1 2.6 1.7 2.8 2.3 2.5 1.5 3.1 2.9 4.2" stroke-dashoffset="1.5" opacity="1.0"/><path d="M688.6,449.0V703.0" stroke="#0067dd" stroke-width="1.0" stroke-dasharray="1.6 7.3 1.7 10.2 1.5 6.4 1.9 10.1 1.7 8.3 1.9 4.6 1.5 7.8 1.8 7.1 1.3 6.8 1.5 9.6 1.3 10.7 1.3 9.7" stroke-dashoffset="29.8" opacity="1.0"/><path d="M689.7,449.0V703.0" stroke="#0000cd" stroke-width="1.0" stroke-dasharray="1.1 3.4 2.5 2.9 2.5 3.8 2.8 1.2 1.2 1.6 1.7 3.0 3.2 1.1 2.5 3.0 1.9 3.9 3.9 2.1 1.8 3.0 3.5 1.1" stroke-dashoffset="22.0" opacity="1.0"/><path d="M689.7,449.0V703.0" stroke="#0085dd" stroke-width="1.0" stroke-dasharray="1.1 4.7 1.5 4.8 1.0 5.9 1.2 3.5 2.4 4.2 2.3 4.0 1.3 4.7 1.7 2.7 2.7 3.4 1.3 4.4 1.4 4.4 2.2 6.0" stroke-dashoffset="9.6" opacity="1.0"/><path d="M689.7,449.0V703.0" stroke="#00a7b3" stroke-width="1.0" stroke-dasharray="1.7 10.4 1.3 9.9 1.4 6.5 1.6 12.5 1.3 8.2 1.8 12.4 1.4 6.7 1.0 11.0 1.5 13.0 1.1 9.7 1.6 9.6 1.5 10.3" stroke-dashoffset="8.1" opacity="1.0"/><path d="M691.0,600.0V703.0" stroke="#0000cd" stroke-width="1.0" stroke-dasharray="2.0 2.2 2.1 1.8 2.6 1.7 1.7 1.6 3.2 1.2 3.9 2.9 1.5 1.8 2.7 1.5 1.9 1.9 2.2 2.7 3.4 3.8 3.2 3.3" stroke-dashoffset="13.7" opacity="1.0"/><path d="M691.0,600.0V703.0" stroke="#0085dd" stroke-width="1.0" stroke-dasharray="1.7 5.3 1.6 5.9 2.9 4.0 1.0 5.7 1.4 5.9 2.8 2.9 1.2 3.2 1.0 5.9 2.7 4.0 2.0 4.4 2.4 4.3 2.0 2.7" stroke-dashoffset="17.1" opacity="1.0"/><path d="M691.0,600.0V703.0" stroke="#00a7b3" stroke-width="1.0" stroke-dasharray="1.4 8.9 1.3 9.9 2.0 6.6 1.5 5.1 1.7 11.0 1.4 5.6 1.8 10.6 1.6 5.9 1.9 5.9 1.6 9.6 1.2 5.5 1.3 12.7" stroke-dashoffset="20.0" opacity="1.0"/><path d="M717.0,600.0V703.0" stroke="#0000bd" stroke-width="1.0" stroke-dasharray="2.2 4.5 2.7 3.3 1.6 4.6 1.2 3.0 1.8 3.7 1.1 4.0 2.1 4.1 2.1 2.2 1.5 3.1 2.5 2.0 1.5 4.3 2.3 4.0" stroke-dashoffset="16.6" opacity="1.0"/><path d="M717.0,600.0V703.0" stroke="#0067dd" stroke-width="1.0" stroke-dasharray="1.3 8.6 1.4 5.4 1.4 10.9 1.5 6.6 1.6 6.8 1.8 6.8 1.4 4.3 1.1 8.1 1.3 7.7 1.8 9.9 1.4 9.1 1.1 4.8" stroke-dashoffset="13.0" opacity="1.0"/><path d="M720.5,640.0V703.0" stroke="#0000bd" stroke-width="1.0" stroke-dasharray="1.7 3.6 1.8 4.0 1.6 4.6 1.3 4.1 1.1 2.8 2.5 4.7 2.4 3.9 2.3 2.8 1.5 4.9 1.0 4.3 2.8 2.0 2.5 4.8" stroke-dashoffset="29.0" opacity="1.0"/><path d="M720.5,640.0V703.0" stroke="#0067dd" stroke-width="1.0" stroke-dasharray="2.0 6.6 1.2 8.4 1.0 10.1 1.4 9.6 1.4 8.1 1.9 6.6 1.7 10.0 1.5 5.6 1.5 7.8 1.9 4.0 1.9 10.0 1.4 11.1" stroke-dashoffset="21.0" opacity="1.0"/><path d="M724.0,600.0V703.0" stroke="#0000bd" stroke-width="1.0" stroke-dasharray="2.1 3.8 2.6 3.1 2.2 2.8 2.6 4.2 1.9 4.5 1.6 4.6 2.0 4.4 1.8 3.2 1.5 4.5 2.8 3.3 1.6 3.9 1.2 4.0" stroke-dashoffset="20.0" opacity="1.0"/><path d="M724.0,600.0V703.0" stroke="#0067dd" stroke-width="1.0" stroke-dasharray="2.0 11.7 1.0 10.1 1.9 11.1 1.3 5.3 1.0 9.5 1.2 10.7 1.4 11.7 1.0 8.4 1.2 9.3 2.0 4.5 1.8 8.3 1.3 11.2" stroke-dashoffset="9.2" opacity="1.0"/><path d="M771.0,600.0V703.0" stroke="#1800a7" stroke-width="1.0" stroke-dasharray="2.6 7.1 1.3 3.3 2.1 4.9 1.1 7.9 2.5 3.8 2.5 6.6 1.5 4.6 1.9 7.9 1.4 5.8 1.4 7.3 1.3 3.5 2.4 6.9" stroke-dashoffset="6.1" opacity="0.85"/><path d="M771.0,600.0V703.0" stroke="#0000dd" stroke-width="1.0" stroke-dasharray="1.1 12.4 1.2 12.5 1.8 9.1 1.0 12.1 1.2 12.4 2.0 15.2 1.1 7.5 1.2 11.6 1.7 11.5 1.6 11.9 1.1 15.8 1.9 12.8" stroke-dashoffset="5.6" opacity="0.85"/><path d="M823.0,600.0V703.0" stroke="#0000bd" stroke-width="1.0" stroke-dasharray="1.8 3.8 2.8 4.8 1.3 4.4 1.2 2.6 1.3 4.4 2.4 4.9 1.5 2.4 2.7 3.4 2.0 3.6 1.1 2.3 2.7 3.1 1.9 3.6" stroke-dashoffset="10.1" opacity="1.0"/><path d="M823.0,600.0V703.0" stroke="#0067dd" stroke-width="1.0" stroke-dasharray="1.3 6.9 1.5 5.8 1.4 8.5 1.0 11.6 1.3 8.8 1.5 4.4 1.8 9.1 1.6 6.9 1.1 10.4 1.3 4.6 2.0 9.9 1.4 6.2" stroke-dashoffset="20.4" opacity="1.0"/><path d="M882.8,510.0V690.0" stroke="#0000cd" stroke-width="1.0" stroke-dasharray="3.4 2.4 2.1 2.1 2.3 2.3 2.8 3.9 2.8 2.2 3.9 1.9 2.3 3.0 3.2 3.9 1.5 2.9 3.0 2.0 2.0 3.2 2.8 3.3" stroke-dashoffset="20.2" opacity="1.0"/><path d="M882.8,510.0V690.0" stroke="#0085dd" stroke-width="1.0" stroke-dasharray="2.8 6.0 1.0 5.7 2.0 3.8 1.3 2.4 1.1 5.0 1.3 5.1 2.7 3.7 2.7 2.9 2.1 3.5 2.1 5.8 2.9 2.3 2.7 4.4" stroke-dashoffset="21.5" opacity="1.0"/><path d="M882.8,510.0V690.0" stroke="#00a7b3" stroke-width="1.0" stroke-dasharray="1.1 8.4 1.5 7.0 1.1 7.8 1.3 5.9 1.5 5.6 1.1 9.7 1.7 8.2 1.5 5.3 1.2 11.4 1.1 10.2 1.6 5.7 1.1 13.9" stroke-dashoffset="26.5" opacity="1.0"/><path d="M985.5,449.0V703.0" stroke="#0000bd" stroke-width="1.0" stroke-dasharray="1.0 2.9 1.4 3.1 1.4 4.3 2.5 2.5 2.3 4.1 2.4 3.2 1.9 2.9 1.2 2.2 2.2 4.0 2.3 3.5 2.7 3.5 1.8 3.1" stroke-dashoffset="19.8" opacity="1.0"/><path d="M985.5,449.0V703.0" stroke="#0067dd" stroke-width="1.0" stroke-dasharray="1.4 10.4 2.0 4.4 1.7 11.9 2.0 6.1 1.7 9.0 1.4 6.5 1.5 8.5 1.1 7.2 1.1 11.2 1.0 5.7 1.3 4.6 1.3 8.9" stroke-dashoffset="14.3" opacity="1.0"/><path d="M986.5,600.0V703.0" stroke="#0000cd" stroke-width="1.0" stroke-dasharray="3.2 3.9 1.8 2.2 2.7 2.7 2.0 1.6 1.8 1.4 2.3 3.6 2.6 1.6 2.5 3.0 3.2 3.5 1.5 3.3 2.3 3.4 3.0 2.5" stroke-dashoffset="19.9" opacity="1.0"/><path d="M986.5,600.0V703.0" stroke="#0085dd" stroke-width="1.0" stroke-dasharray="2.0 5.7 2.5 4.5 2.7 3.3 1.0 3.2 2.6 4.0 2.3 5.0 1.5 4.4 2.4 2.1 2.3 5.0 1.7 3.6 2.2 5.5 2.4 4.4" stroke-dashoffset="20.4" opacity="1.0"/><path d="M986.5,600.0V703.0" stroke="#00a7b3" stroke-width="1.0" stroke-dasharray="1.9 7.5 1.8 6.1 1.8 7.6 1.1 7.6 1.9 9.0 1.0 7.6 1.7 10.6 1.3 13.8 1.2 6.4 1.6 5.9 1.5 9.8 1.0 13.4" stroke-dashoffset="5.1" opacity="1.0"/><path d="M1014.7,560.0V703.0" stroke="#0000cd" stroke-width="1.0" stroke-dasharray="1.4 3.6 3.9 2.0 2.3 2.8 2.2 2.7 2.6 1.7 2.4 2.0 2.6 2.3 3.2 1.8 2.8 2.7 2.5 1.3 2.9 1.0 2.1 2.3" stroke-dashoffset="19.9" opacity="1.0"/><path d="M1014.7,560.0V703.0" stroke="#0085dd" stroke-width="1.0" stroke-dasharray="1.7 4.3 1.6 2.6 2.8 5.6 1.8 3.3 1.6 4.8 2.9 3.1 2.5 3.5 1.6 2.3 2.8 4.6 2.3 5.3 1.9 3.6 2.3 5.6" stroke-dashoffset="6.8" opacity="1.0"/><path d="M1014.7,560.0V703.0" stroke="#00a7b3" stroke-width="1.0" stroke-dasharray="1.7 13.9 1.7 10.7 2.0 5.5 1.9 11.6 1.5 13.8 1.1 13.6 1.7 10.0 1.7 5.2 1.0 8.5 1.7 5.6 1.9 10.4 2.0 7.6" stroke-dashoffset="19.2" opacity="1.0"/><path d="M1121.7,449.0V703.0" stroke="#0000cd" stroke-width="1.0" stroke-dasharray="1.3 3.1 1.5 1.9 1.5 2.2 2.0 1.8 2.5 3.8 2.4 2.8 2.5 2.5 2.4 1.4 2.6 3.3 3.3 1.7 3.7 1.3 2.3 2.2" stroke-dashoffset="24.4" opacity="1.0"/><path d="M1121.7,449.0V703.0" stroke="#0085dd" stroke-width="1.0" stroke-dasharray="2.1 3.8 1.1 4.8 1.1 2.9 1.4 2.1 2.4 3.8 2.2 4.4 2.8 2.9 2.2 2.3 1.4 5.0 1.4 3.7 2.4 2.1 2.2 4.9" stroke-dashoffset="19.5" opacity="1.0"/><path d="M1121.7,449.0V703.0" stroke="#00a7b3" stroke-width="1.0" stroke-dasharray="1.4 5.6 2.0 12.8 1.1 7.0 2.0 10.7 1.4 12.2 1.7 8.0 2.0 10.1 1.8 7.7 1.1 13.0 1.6 10.6 1.3 13.4 1.1 7.9" stroke-dashoffset="18.3" opacity="1.0"/><path d="M1122.8,560.0V703.0" stroke="#0000cd" stroke-width="1.0" stroke-dasharray="1.6 3.6 2.3 3.5 3.1 2.4 3.9 1.9 1.2 3.3 2.0 2.4 2.7 1.5 1.2 3.2 2.7 2.3 2.6 1.8 2.1 2.3 1.5 1.9" stroke-dashoffset="8.1" opacity="1.0"/><path d="M1122.8,560.0V703.0" stroke="#0085dd" stroke-width="1.0" stroke-dasharray="2.1 3.1 2.4 4.5 2.8 3.6 2.6 2.6 1.6 3.3 2.8 2.4 2.8 3.4 2.0 4.5 1.2 5.0 2.0 4.5 2.1 5.2 2.0 3.6" stroke-dashoffset="0.8" opacity="1.0"/><path d="M1122.8,560.0V703.0" stroke="#00a7b3" stroke-width="1.0" stroke-dasharray="1.9 9.8 1.6 8.7 1.2 10.0 1.1 8.9 1.3 8.1 1.2 12.0 1.3 6.4 1.2 13.1 1.7 12.8 1.2 5.7 1.2 5.6 1.0 5.5" stroke-dashoffset="15.0" opacity="1.0"/><path d="M1132.8,560.0V703.0" stroke="#0000bd" stroke-width="1.0" stroke-dasharray="2.6 2.3 2.4 2.6 2.3 4.5 2.7 3.7 1.9 3.1 2.7 3.7 2.0 2.7 2.7 4.3 2.7 2.4 2.7 3.3 2.0 2.2 1.8 3.8" stroke-dashoffset="14.9" opacity="1.0"/><path d="M1132.8,560.0V703.0" stroke="#0067dd" stroke-width="1.0" stroke-dasharray="1.8 5.1 1.2 9.6 1.3 6.6 1.3 7.5 1.8 4.6 1.6 9.2 1.9 5.3 1.5 5.8 1.2 5.8 1.2 9.4 1.8 4.9 1.5 11.2" stroke-dashoffset="9.6" opacity="1.0"/><path d="M1277.8,590.0V703.0" stroke="#0000cd" stroke-width="1.0" stroke-dasharray="2.3 2.8 3.8 3.5 2.0 2.4 2.9 2.5 1.8 1.7 2.1 4.0 3.6 3.8 1.4 2.1 3.2 2.0 3.7 3.7 1.8 3.1 2.2 1.5" stroke-dashoffset="18.3" opacity="1.0"/><path d="M1277.8,590.0V703.0" stroke="#0085dd" stroke-width="1.0" stroke-dasharray="1.9 4.1 1.0 3.4 2.7 3.6 1.2 3.4 3.0 2.2 1.4 5.0 2.9 5.4 1.5 5.9 3.0 2.6 2.3 5.3 1.5 4.3 1.2 3.4" stroke-dashoffset="23.6" opacity="1.0"/><path d="M1277.8,590.0V703.0" stroke="#00a7b3" stroke-width="1.0" stroke-dasharray="1.1 13.9 1.1 10.0 1.7 13.8 1.7 7.2 1.8 7.1 1.9 12.9 1.4 5.2 1.7 9.4 1.3 12.4 1.2 11.9 1.2 10.1 2.0 7.8" stroke-dashoffset="5.0" opacity="1.0"/><path d="M1277.8,449.0V590.0" stroke="#1800a7" stroke-width="1.0" stroke-dasharray="1.8 6.2 2.3 4.3 1.7 3.9 1.7 4.8 2.7 4.4 1.6 5.0 1.0 7.3 2.4 3.4 1.8 4.3 1.3 5.1 1.8 6.6 1.1 7.1" stroke-dashoffset="5.5" opacity="0.85"/><path d="M1277.8,449.0V590.0" stroke="#0000dd" stroke-width="1.0" stroke-dasharray="1.5 8.8 1.3 10.1 1.6 12.5 1.0 10.2 1.9 11.6 1.1 9.8 1.2 15.8 1.8 10.2 1.2 9.0 1.0 13.2 1.5 13.6 1.4 10.1" stroke-dashoffset="8.4" opacity="0.85"/><path d="M1361.0,600.0V703.0" stroke="#0000bd" stroke-width="1.0" stroke-dasharray="1.7 2.4 2.4 3.1 2.7 3.1 1.8 2.1 2.8 4.6 1.2 3.0 1.4 3.0 3.0 3.7 1.5 3.8 1.7 3.3 1.5 2.9 1.6 4.5" stroke-dashoffset="25.5" opacity="1.0"/><path d="M1361.0,600.0V703.0" stroke="#0067dd" stroke-width="1.0" stroke-dasharray="1.2 4.7 1.4 9.0 1.3 11.6 1.2 10.4 1.6 11.7 1.0 8.2 1.9 8.6 1.4 9.8 1.3 5.5 1.3 7.7 1.0 11.6 1.1 8.6" stroke-dashoffset="14.5" opacity="1.0"/><path d="M1389.0,540.0V703.0" stroke="#0000cd" stroke-width="1.0" stroke-dasharray="3.5 3.3 2.0 2.8 2.4 3.9 1.9 2.5 2.1 3.8 2.1 2.3 2.5 2.7 2.2 3.3 3.3 2.0 3.2 2.8 3.6 1.7 3.5 1.1" stroke-dashoffset="17.9" opacity="1.0"/><path d="M1389.0,540.0V703.0" stroke="#0085dd" stroke-width="1.0" stroke-dasharray="2.9 2.2 2.6 5.8 1.5 3.4 1.5 3.9 2.2 4.0 2.2 4.4 1.7 5.5 2.1 2.7 1.2 3.8 2.3 5.5 1.9 2.8 1.6 3.2" stroke-dashoffset="11.3" opacity="1.0"/><path d="M1389.0,540.0V703.0" stroke="#00a7b3" stroke-width="1.0" stroke-dasharray="1.0 7.6 1.4 7.1 1.4 5.8 1.2 9.0 1.8 7.3 1.6 10.9 1.4 11.8 1.9 5.5 1.0 12.2 1.5 8.3 1.7 7.0 1.1 12.9" stroke-dashoffset="2.0" opacity="1.0"/><path d="M1389.0,449.0V540.0" stroke="#1800a7" stroke-width="1.0" stroke-dasharray="1.6 7.3 1.6 4.0 2.2 7.8 2.8 4.6 2.1 4.1 1.7 3.3 1.3 3.3 1.5 3.7 1.9 6.1 1.7 6.3 2.1 5.7 1.4 3.4" stroke-dashoffset="3.9" opacity="0.85"/><path d="M1389.0,449.0V540.0" stroke="#0000dd" stroke-width="1.0" stroke-dasharray="1.5 9.0 1.7 8.7 1.7 11.6 1.1 7.3 1.7 10.2 1.0 10.1 1.5 13.7 1.9 7.9 1.5 7.8 1.7 12.3 1.3 9.7 1.2 8.5" stroke-dashoffset="25.8" opacity="0.85"/><path d="M1532.0,560.0V703.0" stroke="#0000cd" stroke-width="1.0" stroke-dasharray="3.7 1.6 3.3 1.7 1.9 3.7 3.7 3.2 1.1 2.4 3.4 1.4 2.2 1.1 3.0 2.0 3.4 2.5 2.1 2.9 2.0 1.8 2.4 3.5" stroke-dashoffset="8.6" opacity="1.0"/><path d="M1532.0,560.0V703.0" stroke="#0085dd" stroke-width="1.0" stroke-dasharray="2.8 2.9 1.0 4.4 1.9 5.4 2.6 4.4 2.3 5.4 1.5 5.1 2.8 3.7 2.5 5.8 2.2 2.5 1.8 5.8 1.6 3.7 2.5 5.2" stroke-dashoffset="1.8" opacity="1.0"/><path d="M1532.0,560.0V703.0" stroke="#00a7b3" stroke-width="1.0" stroke-dasharray="1.5 6.1 1.6 8.7 1.1 12.3 1.3 10.0 1.2 12.6 1.2 10.4 1.1 11.6 1.7 6.7 1.1 7.0 1.6 11.4 1.2 6.6 1.4 5.5" stroke-dashoffset="22.7" opacity="1.0"/><path d="M1533.0,640.0V703.0" stroke="#0000cd" stroke-width="1.0" stroke-dasharray="2.2 3.5 3.9 3.0 3.8 1.8 1.5 1.7 3.3 1.5 3.8 3.2 2.4 3.9 3.5 1.8 2.8 2.8 1.5 2.4 1.6 2.9 3.6 1.4" stroke-dashoffset="15.2" opacity="1.0"/><path d="M1533.0,640.0V703.0" stroke="#0085dd" stroke-width="1.0" stroke-dasharray="2.6 2.5 1.3 4.7 1.4 2.4 1.1 5.6 1.6 3.4 1.4 3.4 2.5 5.5 2.0 3.9 1.9 5.5 2.8 5.4 2.9 5.3 1.7 5.7" stroke-dashoffset="16.1" opacity="1.0"/><path d="M1533.0,640.0V703.0" stroke="#00a7b3" stroke-width="1.0" stroke-dasharray="1.4 13.3 1.3 13.3 1.4 11.9 1.5 11.8 1.4 7.4 1.4 7.3 1.1 5.2 1.4 8.4 1.9 9.2 1.6 11.8 1.0 5.5 1.8 11.9" stroke-dashoffset="4.4" opacity="1.0"/><path d="M1593.0,449.0V703.0" stroke="#1800a7" stroke-width="1.0" stroke-dasharray="2.2 4.3 1.9 7.7 3.0 6.7 1.4 3.2 2.5 4.9 2.4 3.0 1.1 3.1 2.1 6.7 1.5 7.9 2.0 3.3 2.5 6.0 1.1 6.8" stroke-dashoffset="9.5" opacity="0.85"/><path d="M1593.0,449.0V703.0" stroke="#0000dd" stroke-width="1.0" stroke-dasharray="1.1 8.0 1.6 8.7 1.3 9.1 1.4 10.4 1.4 12.4 1.0 10.9 1.5 11.2 1.2 7.0 1.4 8.7 1.7 13.7 1.3 14.6 1.9 15.9" stroke-dashoffset="16.3" opacity="0.85"/><path d="M1575.0,620.0V662.0" stroke="#0000bd" stroke-width="1.0" stroke-dasharray="2.0 2.1 1.9 2.6 3.0 2.8 1.6 4.8 1.8 3.1 2.1 2.6 2.4 2.2 2.5 4.1 2.2 3.6 2.6 3.1 1.6 3.5 2.6 3.7" stroke-dashoffset="7.6" opacity="1.0"/><path d="M1575.0,620.0V662.0" stroke="#0067dd" stroke-width="1.0" stroke-dasharray="1.1 6.1 2.0 12.0 1.2 6.0 1.7 4.2 1.4 9.9 1.2 7.4 1.1 10.3 1.5 11.0 1.3 8.1 1.6 9.1 1.4 5.1 1.8 5.4" stroke-dashoffset="28.7" opacity="1.0"/><path d="M1334.0,640.0V703.0" stroke="#0000bd" stroke-width="1.0" stroke-dasharray="2.4 2.7 1.9 4.9 2.0 2.6 2.3 3.2 2.3 2.6 2.2 3.1 2.4 2.8 1.7 3.0 2.7 3.1 1.9 4.4 2.8 3.4 2.2 2.2" stroke-dashoffset="25.4" opacity="1.0"/><path d="M1334.0,640.0V703.0" stroke="#0067dd" stroke-width="1.0" stroke-dasharray="1.3 7.8 1.6 10.9 1.6 8.8 1.1 7.4 1.6 6.2 1.7 4.9 1.5 10.3 1.8 8.6 1.2 11.7 1.5 8.7 1.4 7.3 1.7 7.8" stroke-dashoffset="19.0" opacity="1.0"/><path d="M1213.0,640.0V703.0" stroke="#0000bd" stroke-width="1.0" stroke-dasharray="1.1 3.7 2.2 3.9 2.0 4.0 1.1 3.8 1.5 3.6 1.3 4.1 2.2 2.2 2.7 3.8 1.4 3.1 2.8 2.0 1.3 3.8 1.8 2.5" stroke-dashoffset="3.5" opacity="1.0"/><path d="M1213.0,640.0V703.0" stroke="#0067dd" stroke-width="1.0" stroke-dasharray="1.3 5.8 1.4 11.2 1.9 9.3 1.3 8.4 1.3 10.3 1.4 10.1 1.3 9.3 1.5 4.4 1.4 9.1 1.6 6.1 1.4 5.7 1.2 10.6" stroke-dashoffset="1.5" opacity="1.0"/><path d="M1245.0,660.0V703.0" stroke="#1800a7" stroke-width="1.0" stroke-dasharray="2.3 3.1 1.5 3.6 2.5 7.7 2.4 7.0 1.0 6.4 1.0 4.3 2.3 7.1 2.1 7.3 1.8 4.7 1.8 7.4 1.3 7.3 2.4 4.1" stroke-dashoffset="28.5" opacity="0.85"/><path d="M1245.0,660.0V703.0" stroke="#0000dd" stroke-width="1.0" stroke-dasharray="1.7 12.8 1.1 15.1 1.8 10.4 1.3 7.0 1.7 8.3 1.7 10.1 1.5 10.5 1.8 14.7 1.8 13.0 1.8 14.0 1.6 15.1 1.4 8.6" stroke-dashoffset="21.9" opacity="0.85"/><path d="M1470.0,600.0V703.0" stroke="#1800a7" stroke-width="1.0" stroke-dasharray="1.5 6.1 2.0 5.6 1.7 7.2 1.3 5.7 2.4 6.3 1.4 3.4 1.8 5.0 2.3 5.3 2.7 7.5 2.4 7.0 2.6 7.5 1.5 5.4" stroke-dashoffset="28.2" opacity="0.85"/><path d="M1470.0,600.0V703.0" stroke="#0000dd" stroke-width="1.0" stroke-dasharray="1.1 15.6 1.6 13.6 1.9 12.3 1.5 9.4 1.3 13.8 1.6 8.1 1.8 15.5 1.8 9.0 1.2 10.2 1.8 12.7 1.4 9.8 1.5 13.0" stroke-dashoffset="21.2" opacity="0.85"/><path d="M1060.0,620.0V703.0" stroke="#1800a7" stroke-width="1.0" stroke-dasharray="2.4 4.3 1.2 5.4 1.7 6.6 1.5 4.4 2.7 5.3 1.2 5.0 1.9 4.5 2.2 6.4 2.6 4.1 3.0 7.5 3.0 3.7 1.5 7.9" stroke-dashoffset="3.7" opacity="0.85"/><path d="M1060.0,620.0V703.0" stroke="#0000dd" stroke-width="1.0" stroke-dasharray="1.6 8.9 2.0 14.2 1.4 7.0 1.1 13.1 1.1 13.0 1.2 15.5 1.3 9.7 1.5 15.8 1.7 11.7 1.3 6.9 1.6 8.2 1.9 7.2" stroke-dashoffset="4.0" opacity="0.85"/><path d="M940.0,640.0V703.0" stroke="#1800a7" stroke-width="1.0" stroke-dasharray="2.1 6.3 1.8 4.4 1.9 5.9 1.7 3.9 1.6 4.9 1.6 3.2 1.7 3.9 2.5 3.8 2.8 7.6 1.7 7.8 2.4 6.5 1.2 3.6" stroke-dashoffset="18.5" opacity="0.85"/><path d="M940.0,640.0V703.0" stroke="#0000dd" stroke-width="1.0" stroke-dasharray="1.8 7.6 1.6 10.2 1.7 12.3 1.2 14.0 2.0 9.3 1.5 10.6 1.5 14.5 1.6 8.7 1.9 15.7 1.4 15.7 1.8 11.4 1.7 9.1" stroke-dashoffset="7.2" opacity="0.85"/><path d="M1176.0,640.0V703.0" stroke="#1800a7" stroke-width="1.0" stroke-dasharray="2.6 8.0 2.7 4.1 2.4 7.8 2.8 4.0 1.5 5.8 3.0 4.4 2.9 7.2 1.3 4.7 2.2 5.0 2.9 5.3 1.5 7.2 1.6 7.3" stroke-dashoffset="22.8" opacity="0.85"/><path d="M1176.0,640.0V703.0" stroke="#0000dd" stroke-width="1.0" stroke-dasharray="1.6 15.5 1.9 13.4 1.5 12.3 1.2 9.2 1.7 11.7 1.2 14.3 1.7 9.1 1.9 12.2 1.3 14.5 1.6 15.5 1.4 12.0 1.2 15.5" stroke-dashoffset="7.6" opacity="0.85"/><path d="M1302.0,620.0V703.0" stroke="#1800a7" stroke-width="1.0" stroke-dasharray="2.6 4.3 2.0 6.2 1.0 5.9 2.8 6.8 2.6 7.8 1.8 6.7 2.1 5.7 2.8 4.3 2.6 5.9 2.0 5.8 1.8 6.4 1.6 3.8" stroke-dashoffset="16.8" opacity="0.85"/><path d="M1302.0,620.0V703.0" stroke="#0000dd" stroke-width="1.0" stroke-dasharray="1.0 12.2 1.2 12.8 1.1 12.1 1.1 14.3 1.0 6.7 1.8 9.7 1.0 13.5 1.4 13.1 1.5 15.7 1.4 12.6 1.5 10.0 1.8 12.8" stroke-dashoffset="26.6" opacity="0.85"/><path d="M1410.0,660.0V703.0" stroke="#0000bd" stroke-width="1.0" stroke-dasharray="1.7 4.2 1.2 3.9 1.1 3.0 2.2 3.1 1.6 2.6 2.4 2.2 1.9 3.2 2.8 3.6 2.0 3.5 2.9 4.4 2.0 3.3 1.9 4.7" stroke-dashoffset="2.0" opacity="1.0"/><path d="M1410.0,660.0V703.0" stroke="#0067dd" stroke-width="1.0" stroke-dasharray="1.5 7.0 1.0 9.4 1.8 5.3 1.4 5.7 1.2 10.1 1.6 4.6 1.3 4.5 1.8 4.1 1.5 5.5 2.0 5.8 1.2 10.2 1.5 6.0" stroke-dashoffset="16.8" opacity="1.0"/><path d="M1620.0,640.0V703.0" stroke="#1800a7" stroke-width="1.0" stroke-dasharray="1.1 7.5 2.9 5.3 1.9 4.0 3.0 7.8 1.7 4.7 1.8 4.4 2.9 7.6 2.1 4.2 1.5 5.2 3.0 7.7 1.2 7.0 1.7 4.5" stroke-dashoffset="22.1" opacity="0.85"/><path d="M1620.0,640.0V703.0" stroke="#0000dd" stroke-width="1.0" stroke-dasharray="1.5 9.8 1.2 9.2 1.9 9.6 1.7 10.2 1.3 14.7 1.8 11.0 1.6 12.3 1.1 6.0 1.8 11.3 1.6 10.7 1.5 11.5 1.9 14.6" stroke-dashoffset="13.8" opacity="0.85"/><path d="M212.5,672V703" stroke="#0098dd" stroke-width="1.6" stroke-dasharray="2.6 2.6 2.5 1.8 2.1 1.9 4.0 2.4 2.6 1.0 3.4 2.8"/><path d="M592.5,672V703" stroke="#0098dd" stroke-width="1.6" stroke-dasharray="2.6 1.8 2.5 1.8 4.0 2.8 1.5 1.6 1.7 2.4 3.9 1.9"/><path d="M595.0,672V703" stroke="#0098dd" stroke-width="1.6" stroke-dasharray="3.6 2.2 3.1 2.2 1.4 1.2 2.6 2.1 3.0 2.7 2.1 1.0"/><path d="M598.0,672V703" stroke="#0098dd" stroke-width="1.6" stroke-dasharray="2.6 1.9 1.4 2.6 3.4 2.4 3.9 1.0 1.6 1.2 1.7 2.5"/><path d="M689.7,672V703" stroke="#0098dd" stroke-width="1.6" stroke-dasharray="3.0 1.1 3.2 1.9 3.5 2.4 2.7 1.3 1.9 1.0 2.0 2.7"/><path d="M986.0,672V703" stroke="#0098dd" stroke-width="1.6" stroke-dasharray="1.3 1.9 1.3 2.8 3.8 1.3 3.3 1.7 3.7 1.8 3.4 2.9"/><path d="M1014.7,672V703" stroke="#0098dd" stroke-width="1.6" stroke-dasharray="2.3 3.0 1.5 1.7 3.5 2.0 1.6 2.0 2.9 2.6 1.9 1.4"/><path d="M1121.7,672V703" stroke="#0098dd" stroke-width="1.6" stroke-dasharray="2.5 1.7 3.1 2.2 2.0 1.5 2.1 1.9 1.6 1.8 3.4 2.0"/><path d="M1124.0,672V703" stroke="#0098dd" stroke-width="1.6" stroke-dasharray="1.4 2.8 3.5 2.4 3.2 1.2 2.2 1.4 2.1 2.7 2.1 1.6"/><path d="M1361.0,672V703" stroke="#0098dd" stroke-width="1.6" stroke-dasharray="1.2 2.2 3.7 2.4 3.0 3.0 3.6 1.0 2.7 2.9 1.6 1.0"/><path d="M1389.0,672V703" stroke="#0098dd" stroke-width="1.6" stroke-dasharray="1.8 1.3 1.3 2.5 2.8 2.5 3.5 2.0 2.2 1.3 3.6 1.4"/><path d="M1532.0,672V703" stroke="#0098dd" stroke-width="1.6" stroke-dasharray="3.9 2.6 1.3 1.5 2.1 1.6 2.3 2.4 2.9 2.8 3.9 2.8"/><path d="M1111.2,689.0V703" stroke="#0000cd" stroke-width="1" stroke-dasharray="2.8 5.1 2.9 2.8 1.8 4.7 2.6 6.9 2.9 6.6" opacity="0.9"/><path d="M557.8,683.4V703" stroke="#0000cd" stroke-width="1" stroke-dasharray="1.9 2.4 1.3 6.7 1.0 5.1 2.7 3.6 1.8 3.8" opacity="0.9"/><path d="M241.0,618.7V703" stroke="#0000cd" stroke-width="1" stroke-dasharray="1.5 3.7 2.6 4.5 2.0 5.5 2.7 6.0 1.5 5.1" opacity="0.9"/><path d="M511.9,630.4V703" stroke="#0000cd" stroke-width="1" stroke-dasharray="2.4 6.5 2.1 4.1 2.0 5.9 1.4 6.4 2.3 4.0" opacity="0.9"/><path d="M743.9,689.4V703" stroke="#0000cd" stroke-width="1" stroke-dasharray="2.0 3.7 1.2 5.9 2.6 5.9 1.5 4.6 3.0 2.8" opacity="0.9"/><path d="M1193.8,637.2V703" stroke="#0000cd" stroke-width="1" stroke-dasharray="2.0 2.7 1.0 2.0 1.4 4.2 2.2 5.3 1.0 2.8" opacity="0.9"/><path d="M1028.8,651.7V703" stroke="#0000cd" stroke-width="1" stroke-dasharray="1.7 5.7 1.1 4.6 2.7 3.6 2.8 6.6 2.2 4.9" opacity="0.9"/><path d="M283.9,670.7V703" stroke="#007add" stroke-width="1" stroke-dasharray="2.4 4.7 2.9 3.5 1.4 6.9 2.3 3.1 1.9 4.6" opacity="0.9"/><path d="M1118.8,612.2V703" stroke="#0000b1" stroke-width="1" stroke-dasharray="2.1 3.1 2.4 6.7 1.9 4.2 2.2 2.6 1.3 6.7" opacity="0.9"/><path d="M557.0,638.6V703" stroke="#0000cd" stroke-width="1" stroke-dasharray="1.3 3.8 1.9 2.5 2.0 6.3 1.8 5.7 2.2 4.1" opacity="0.9"/><path d="M1613.5,675.3V703" stroke="#0000b1" stroke-width="1" stroke-dasharray="2.7 5.8 2.2 4.3 2.6 3.1 2.3 4.2 2.0 3.3" opacity="0.9"/><path d="M1435.3,644.5V703" stroke="#0000b1" stroke-width="1" stroke-dasharray="2.7 5.0 1.9 2.4 2.7 5.0 1.1 6.9 2.7 3.3" opacity="0.9"/><path d="M1122.6,644.0V703" stroke="#001cdd" stroke-width="1" stroke-dasharray="2.5 7.0 2.0 3.9 1.5 4.2 2.1 4.0 3.0 6.8" opacity="0.9"/><path d="M1484.6,689.6V703" stroke="#007add" stroke-width="1" stroke-dasharray="1.1 2.9 2.7 2.4 2.7 4.9 1.8 2.5 2.8 6.4" opacity="0.9"/><path d="M1030.1,614.9V703" stroke="#007add" stroke-width="1" stroke-dasharray="1.6 3.1 1.8 3.6 1.8 3.1 2.8 3.2 1.5 5.3" opacity="0.9"/><path d="M1347.1,679.4V703" stroke="#0000b1" stroke-width="1" stroke-dasharray="1.9 3.6 1.7 5.6 1.7 4.6 2.0 5.0 2.4 6.1" opacity="0.9"/><path d="M1371.1,674.3V703" stroke="#0000cd" stroke-width="1" stroke-dasharray="1.2 5.8 2.1 5.1 1.6 2.5 1.2 2.0 2.6 6.9" opacity="0.9"/><path d="M1040.1,625.5V703" stroke="#001cdd" stroke-width="1" stroke-dasharray="3.0 6.9 2.1 2.5 2.8 2.2 1.6 2.3 1.2 5.1" opacity="0.9"/><path d="M445.4,616.0V703" stroke="#0000cd" stroke-width="1" stroke-dasharray="1.9 5.6 1.1 3.1 2.2 5.1 1.9 6.3 2.4 2.8" opacity="0.9"/><path d="M458.5,623.5V703" stroke="#007add" stroke-width="1" stroke-dasharray="2.6 5.2 1.0 3.4 1.9 2.2 1.0 5.7 1.8 5.9" opacity="0.9"/><path d="M484.3,638.8V703" stroke="#001cdd" stroke-width="1" stroke-dasharray="1.2 2.8 2.1 4.7 2.3 4.8 1.5 2.6 1.5 3.6" opacity="0.9"/><path d="M1047.7,616.9V703" stroke="#0000cd" stroke-width="1" stroke-dasharray="1.3 4.2 1.3 5.5 3.0 5.5 1.6 3.0 1.7 5.3" opacity="0.9"/><path d="M600.6,685.6V703" stroke="#001cdd" stroke-width="1" stroke-dasharray="2.9 6.9 1.9 6.7 1.9 5.8 1.3 3.2 1.1 4.4" opacity="0.9"/><path d="M1609.9,689.5V703" stroke="#0000cd" stroke-width="1" stroke-dasharray="1.6 4.6 1.3 5.2 2.1 3.0 1.8 6.5 1.4 6.5" opacity="0.9"/><path d="M233.4,636.6V703" stroke="#0000cd" stroke-width="1" stroke-dasharray="1.3 3.6 2.8 6.0 1.3 4.7 1.7 6.1 2.3 2.7" opacity="0.9"/><path d="M786.2,625.0V703" stroke="#007add" stroke-width="1" stroke-dasharray="1.7 3.3 2.8 6.3 2.4 2.6 1.2 2.6 2.5 4.0" opacity="0.9"/><path d="M866.3,648.2V703" stroke="#001cdd" stroke-width="1" stroke-dasharray="2.1 5.4 1.7 4.4 1.5 5.5 2.2 3.7 1.0 2.9" opacity="0.9"/><path d="M1118.2,665.9V703" stroke="#007add" stroke-width="1" stroke-dasharray="2.4 3.1 2.8 5.2 1.9 6.6 2.1 5.2 2.5 6.7" opacity="0.9"/><path d="M473.7,680.8V703" stroke="#0000b1" stroke-width="1" stroke-dasharray="2.8 2.4 2.6 4.5 2.3 2.9 2.8 4.8 1.3 4.4" opacity="0.9"/><path d="M326.5,622.5V703" stroke="#001cdd" stroke-width="1" stroke-dasharray="1.0 6.4 1.3 2.7 2.3 6.1 1.3 4.7 2.3 6.7" opacity="0.9"/><path d="M1514.4,670.1V703" stroke="#007add" stroke-width="1" stroke-dasharray="2.1 2.2 1.6 6.8 2.8 3.0 2.6 5.9 2.0 2.2" opacity="0.9"/><path d="M456.4,662.6V703" stroke="#0000cd" stroke-width="1" stroke-dasharray="1.9 4.5 1.6 5.0 2.2 6.0 1.9 4.8 2.0 2.4" opacity="0.9"/><path d="M1108.3,683.2V703" stroke="#001cdd" stroke-width="1" stroke-dasharray="1.9 2.8 2.9 3.4 2.2 3.4 2.8 4.0 1.3 2.4" opacity="0.9"/><path d="M343.8,658.1V703" stroke="#0000cd" stroke-width="1" stroke-dasharray="1.2 5.8 2.7 6.9 2.2 2.6 2.0 2.8 2.6 4.5" opacity="0.9"/><path d="M1011.1,616.9V703" stroke="#001cdd" stroke-width="1" stroke-dasharray="2.4 3.2 1.1 6.6 1.2 6.6 1.2 4.9 1.4 6.9" opacity="0.9"/><path d="M975.5,681.4V703" stroke="#0000b1" stroke-width="1" stroke-dasharray="2.4 5.7 1.9 3.4 1.7 5.4 1.7 5.1 1.4 2.9" opacity="0.9"/><path d="M601.1,683.5V703" stroke="#001cdd" stroke-width="1" stroke-dasharray="2.1 6.2 2.7 6.0 2.2 5.6 2.2 3.9 2.0 6.4" opacity="0.9"/><path d="M233.7,614.2V703" stroke="#0000b1" stroke-width="1" stroke-dasharray="3.0 3.0 2.5 6.1 1.5 4.3 1.0 6.9 1.5 5.9" opacity="0.9"/><path d="M272.4,610.3V703" stroke="#0000cd" stroke-width="1" stroke-dasharray="1.0 5.9 2.8 2.2 2.8 3.6 2.9 2.7 2.1 2.8" opacity="0.9"/><path d="M1507.4,662.1V703" stroke="#0000cd" stroke-width="1" stroke-dasharray="1.6 6.2 1.1 2.5 2.3 5.4 2.7 3.7 3.0 4.2" opacity="0.9"/><path d="M1055.9,665.1V703" stroke="#0000b1" stroke-width="1" stroke-dasharray="3.0 5.9 1.8 4.7 1.9 6.8 1.8 5.6 1.5 4.3" opacity="0.9"/><path d="M1602.5,685.9V703" stroke="#001cdd" stroke-width="1" stroke-dasharray="2.7 7.0 1.6 2.1 1.6 6.9 1.9 2.9 1.5 2.8" opacity="0.9"/><path d="M1199.2,650.7V703" stroke="#0000cd" stroke-width="1" stroke-dasharray="2.2 6.7 2.8 3.7 1.2 2.3 2.6 5.2 1.5 4.4" opacity="0.9"/><path d="M670.6,668.1V703" stroke="#001cdd" stroke-width="1" stroke-dasharray="2.8 3.2 1.9 2.2 1.4 3.3 2.2 6.9 1.6 4.6" opacity="0.9"/><path d="M522.6,652.1V703" stroke="#0000cd" stroke-width="1" stroke-dasharray="1.0 2.3 2.4 5.1 2.3 4.4 2.5 3.8 1.5 5.9" opacity="0.9"/><path d="M661.1,616.4V703" stroke="#0000cd" stroke-width="1" stroke-dasharray="2.8 3.5 1.7 4.2 2.8 6.8 1.6 3.9 1.1 4.6" opacity="0.9"/><path d="M1562.8,647.9V703" stroke="#001cdd" stroke-width="1" stroke-dasharray="2.9 4.1 1.4 4.4 1.8 2.9 2.1 5.6 1.2 4.4" opacity="0.9"/><path d="M1615.7,685.1V703" stroke="#0000cd" stroke-width="1" stroke-dasharray="2.4 7.0 1.3 3.2 2.1 3.5 1.2 6.0 1.4 6.3" opacity="0.9"/><path d="M1390.0,617.7V703" stroke="#007add" stroke-width="1" stroke-dasharray="1.0 2.3 1.4 2.7 2.4 4.8 2.6 5.0 1.2 4.3" opacity="0.9"/><path d="M907.3,687.8V703" stroke="#0000cd" stroke-width="1" stroke-dasharray="2.0 6.9 2.0 4.3 2.0 5.9 1.5 6.8 2.2 5.4" opacity="0.9"/><path d="M246.5,683.6V703" stroke="#007add" stroke-width="1" stroke-dasharray="1.1 4.0 1.2 6.7 2.3 2.9 1.2 4.3 2.2 3.5" opacity="0.9"/><path d="M439.7,626.1V703" stroke="#001cdd" stroke-width="1" stroke-dasharray="2.9 4.4 2.4 5.7 1.5 5.5 1.2 4.6 1.3 4.3" opacity="0.9"/><path d="M1297.1,641.3V703" stroke="#0000cd" stroke-width="1" stroke-dasharray="1.4 6.7 1.1 2.2 1.7 3.6 2.1 2.3 3.0 4.6" opacity="0.9"/><path d="M1566.1,617.5V703" stroke="#007add" stroke-width="1" stroke-dasharray="1.7 3.7 1.8 5.6 1.2 6.3 2.9 2.9 2.4 4.1" opacity="0.9"/><path d="M1007.3,661.4V703" stroke="#0000b1" stroke-width="1" stroke-dasharray="1.3 3.2 2.5 2.1 2.6 4.2 2.9 2.4 1.0 4.7" opacity="0.9"/><path d="M1266.7,620.8V703" stroke="#001cdd" stroke-width="1" stroke-dasharray="1.9 4.6 2.6 6.3 1.9 3.3 1.5 6.1 2.0 3.8" opacity="0.9"/><path d="M550.7,615.9V703" stroke="#007add" stroke-width="1" stroke-dasharray="1.6 6.4 3.0 6.4 1.1 6.6 2.3 5.4 1.4 5.2" opacity="0.9"/><path d="M771.9,673.6V703" stroke="#007add" stroke-width="1" stroke-dasharray="2.3 6.8 1.7 6.2 2.0 2.8 2.4 4.4 2.1 5.0" opacity="0.9"/><path d="M399.5,614.2V703" stroke="#0000cd" stroke-width="1" stroke-dasharray="2.7 3.9 1.2 2.0 2.8 2.4 2.8 6.5 2.9 2.7" opacity="0.9"/><path d="M1320.7,671.6V703" stroke="#0000cd" stroke-width="1" stroke-dasharray="1.7 4.8 2.1 2.8 2.5 6.5 1.6 2.1 1.7 3.5" opacity="0.9"/><path d="M1483.3,658.3V703" stroke="#001cdd" stroke-width="1" stroke-dasharray="2.0 5.1 1.1 5.2 2.2 6.2 2.1 5.4 2.1 6.5" opacity="0.9"/><path d="M1534.6,611.6V703" stroke="#001cdd" stroke-width="1" stroke-dasharray="2.2 6.2 1.5 6.1 2.8 4.0 2.2 2.8 1.0 2.3" opacity="0.9"/><path d="M1500.7,641.2V703" stroke="#001cdd" stroke-width="1" stroke-dasharray="2.9 4.3 3.0 3.6 1.5 6.9 2.4 6.6 1.4 2.0" opacity="0.9"/><path d="M1103.0,668.9V703" stroke="#0000b1" stroke-width="1" stroke-dasharray="1.7 3.1 2.1 2.3 1.3 3.4 2.4 5.0 2.7 6.9" opacity="0.9"/><path d="M782.1,657.2V703" stroke="#001cdd" stroke-width="1" stroke-dasharray="1.5 6.7 1.8 3.0 2.7 2.8 2.3 4.4 1.1 2.5" opacity="0.9"/><path d="M1463.7,662.4V703" stroke="#0000cd" stroke-width="1" stroke-dasharray="1.1 4.7 2.9 6.3 2.5 5.3 2.4 4.6 2.0 5.2" opacity="0.9"/><path d="M1545.5,684.1V703" stroke="#001cdd" stroke-width="1" stroke-dasharray="1.5 2.8 2.7 4.5 2.1 2.6 2.0 4.2 1.5 4.2" opacity="0.9"/><path d="M779.0,612.8V703" stroke="#007add" stroke-width="1" stroke-dasharray="1.7 3.7 1.3 2.2 2.6 2.9 1.5 3.4 2.4 3.3" opacity="0.9"/><path d="M385.2,615.0V703" stroke="#001cdd" stroke-width="1" stroke-dasharray="2.0 2.4 2.1 5.3 1.6 3.2 2.4 3.6 1.6 2.1" opacity="0.9"/><path d="M1420.1,645.8V703" stroke="#001cdd" stroke-width="1" stroke-dasharray="2.8 3.9 1.7 5.7 1.7 5.1 1.2 2.5 1.4 7.0" opacity="0.9"/></g></g>
<rect x="198.0" y="144.0" width="1447.1" height="254.0" fill="none" stroke="#000" stroke-width="1.67"/>
<rect x="198.0" y="449.0" width="1447.1" height="254.0" fill="none" stroke="#000" stroke-width="1.67"/>
<text x="183.42" y="151.60" font-size="20.83" text-anchor="end" >10.02</text>
<text x="183.42" y="278.60" font-size="20.83" text-anchor="end" >10.00</text>
<text x="183.42" y="405.60" font-size="20.83" text-anchor="end" >9.98</text>
<text x="183.42" y="456.60" font-size="20.83" text-anchor="end" >0.03</text>
<text x="183.42" y="583.60" font-size="20.83" text-anchor="end" >0.02</text>
<text x="183.42" y="710.60" font-size="20.83" text-anchor="end" >0.00</text>
<path d="M198.0,144.00h-7.29M198.0,271.00h-7.29M198.0,398.00h-7.29M198.00,398.0v7.29M439.18,398.0v7.29M680.37,398.0v7.29M921.55,398.0v7.29M1162.73,398.0v7.29M1403.92,398.0v7.29M1645.10,398.0v7.29M258.30,398.0v4.17M318.59,398.0v4.17M378.89,398.0v4.17M499.48,398.0v4.17M559.77,398.0v4.17M620.07,398.0v4.17M740.66,398.0v4.17M800.96,398.0v4.17M861.25,398.0v4.17M981.85,398.0v4.17M1042.14,398.0v4.17M1102.44,398.0v4.17M1223.03,398.0v4.17M1283.33,398.0v4.17M1343.62,398.0v4.17M1464.21,398.0v4.17M1524.51,398.0v4.17M1584.80,398.0v4.17M198.0,449.00h-7.29M198.0,576.00h-7.29M198.0,703.00h-7.29M198.00,703.0v7.29M439.18,703.0v7.29M680.37,703.0v7.29M921.55,703.0v7.29M1162.73,703.0v7.29M1403.92,703.0v7.29M1645.10,703.0v7.29M258.30,703.0v4.17M318.59,703.0v4.17M378.89,703.0v4.17M499.48,703.0v4.17M559.77,703.0v4.17M620.07,703.0v4.17M740.66,703.0v4.17M800.96,703.0v4.17M861.25,703.0v4.17M981.85,703.0v4.17M1042.14,703.0v4.17M1102.44,703.0v4.17M1223.03,703.0v4.17M1283.33,703.0v4.17M1343.62,703.0v4.17M1464.21,703.0v4.17M1524.51,703.0v4.17M1584.80,703.0v4.17" stroke="#000" stroke-width="1.67" fill="none"/>
<text transform="translate(104.5,423.5) rotate(-90)" font-size="20.83" text-anchor="middle">Input A Frequency (MHz)</text>
<text x="195.60" y="730.50" font-size="20.83" text-anchor="middle" >08:10:14</text>
<text x="195.60" y="751.33" font-size="20.83" text-anchor="middle" >-0.13</text>
<text x="195.60" y="772.17" font-size="20.83" text-anchor="middle" >-148.94</text>
<text x="195.60" y="793.00" font-size="20.83" text-anchor="middle" >406.34</text>
<text x="195.60" y="813.83" font-size="20.83" text-anchor="middle" >2.09</text>
<text x="195.60" y="834.67" font-size="20.83" text-anchor="middle" >-76.42</text>
<text x="195.60" y="855.50" font-size="20.83" text-anchor="middle" >22.27</text>
<text x="437.28" y="730.50" font-size="20.83" text-anchor="middle" >08:11:53</text>
<text x="437.28" y="751.33" font-size="20.83" text-anchor="middle" >6.43</text>
<text x="437.28" y="772.17" font-size="20.83" text-anchor="middle" >-148.31</text>
<text x="437.28" y="793.00" font-size="20.83" text-anchor="middle" >378.76</text>
<text x="437.28" y="813.83" font-size="20.83" text-anchor="middle" >8.62</text>
<text x="437.28" y="834.67" font-size="20.83" text-anchor="middle" >-76.84</text>
<text x="437.28" y="855.50" font-size="20.83" text-anchor="middle" >22.27</text>
<text x="678.97" y="730.50" font-size="20.83" text-anchor="middle" >08:13:33</text>
<text x="678.97" y="751.33" font-size="20.83" text-anchor="middle" >13.11</text>
<text x="678.97" y="772.17" font-size="20.83" text-anchor="middle" >-147.64</text>
<text x="678.97" y="793.00" font-size="20.83" text-anchor="middle" >356.28</text>
<text x="678.97" y="813.83" font-size="20.83" text-anchor="middle" >15.28</text>
<text x="678.97" y="834.67" font-size="20.83" text-anchor="middle" >-77.27</text>
<text x="678.97" y="855.50" font-size="20.83" text-anchor="middle" >22.27</text>
<text x="920.65" y="730.50" font-size="20.83" text-anchor="middle" >08:15:13</text>
<text x="920.65" y="751.33" font-size="20.83" text-anchor="middle" >19.81</text>
<text x="920.65" y="772.17" font-size="20.83" text-anchor="middle" >-146.91</text>
<text x="920.65" y="793.00" font-size="20.83" text-anchor="middle" >339.53</text>
<text x="920.65" y="813.83" font-size="20.83" text-anchor="middle" >21.97</text>
<text x="920.65" y="834.67" font-size="20.83" text-anchor="middle" >-77.70</text>
<text x="920.65" y="855.50" font-size="20.83" text-anchor="middle" >22.27</text>
<text x="1162.33" y="730.50" font-size="20.83" text-anchor="middle" >08:16:52</text>
<text x="1162.33" y="751.33" font-size="20.83" text-anchor="middle" >26.47</text>
<text x="1162.33" y="772.17" font-size="20.83" text-anchor="middle" >-146.07</text>
<text x="1162.33" y="793.00" font-size="20.83" text-anchor="middle" >328.81</text>
<text x="1162.33" y="813.83" font-size="20.83" text-anchor="middle" >28.63</text>
<text x="1162.33" y="834.67" font-size="20.83" text-anchor="middle" >-78.13</text>
<text x="1162.33" y="855.50" font-size="20.83" text-anchor="middle" >22.27</text>
<text x="1404.02" y="730.50" font-size="20.83" text-anchor="middle" >08:18:32</text>
<text x="1404.02" y="751.33" font-size="20.83" text-anchor="middle" >33.19</text>
<text x="1404.02" y="772.17" font-size="20.83" text-anchor="middle" >-145.07</text>
<text x="1404.02" y="793.00" font-size="20.83" text-anchor="middle" >324.00</text>
<text x="1404.02" y="813.83" font-size="20.83" text-anchor="middle" >35.37</text>
<text x="1404.02" y="834.67" font-size="20.83" text-anchor="middle" >-78.57</text>
<text x="1404.02" y="855.50" font-size="20.83" text-anchor="middle" >22.27</text>
<text x="1645.70" y="730.50" font-size="20.83" text-anchor="middle" >08:20:11</text>
<text x="1645.70" y="751.33" font-size="20.83" text-anchor="middle" >39.89</text>
<text x="1645.70" y="772.17" font-size="20.83" text-anchor="middle" >-143.83</text>
<text x="1645.70" y="793.00" font-size="20.83" text-anchor="middle" >325.24</text>
<text x="1645.70" y="813.83" font-size="20.83" text-anchor="middle" >42.12</text>
<text x="1645.70" y="834.67" font-size="20.83" text-anchor="middle" >-79.02</text>
<text x="1645.70" y="855.50" font-size="20.83" text-anchor="middle" >22.27</text>
<text x="105.50" y="730.00" font-size="20.83" text-anchor="end" >UT</text>
<text x="105.50" y="750.76" font-size="20.83" text-anchor="end" >Geo. Lat</text>
<text x="105.50" y="771.52" font-size="20.83" text-anchor="end" >Geo. Lon</text>
<text x="105.50" y="792.28" font-size="20.83" text-anchor="end" >Alt (km)</text>
<text x="105.50" y="813.04" font-size="20.83" text-anchor="end" >Mag. Lat</text>
<text x="105.50" y="833.80" font-size="20.83" text-anchor="end" >Mag. Lon</text>
<text x="105.50" y="854.56" font-size="20.83" text-anchor="end" >MLT (hrs)</text>
<rect x="1660.0" y="144.0" width="28.0" height="559.0" fill="url(#cb)" stroke="#000" stroke-width="1.67"/>
<text x="1702.58" y="710.60" font-size="20.83" text-anchor="start" >−10</text>
<text x="1702.58" y="630.74" font-size="20.83" text-anchor="start" >0</text>
<text x="1702.58" y="550.89" font-size="20.83" text-anchor="start" >10</text>
<text x="1702.58" y="471.03" font-size="20.83" text-anchor="start" >20</text>
<text x="1702.58" y="391.17" font-size="20.83" text-anchor="start" >30</text>
<text x="1702.58" y="311.31" font-size="20.83" text-anchor="start" >40</text>
<text x="1702.58" y="231.46" font-size="20.83" text-anchor="start" >50</text>
<path d="M1688.0,703.00h7.29M1688.0,623.14h7.29M1688.0,543.29h7.29M1688.0,463.43h7.29M1688.0,383.57h7.29M1688.0,303.71h7.29M1688.0,223.86h7.29" stroke="#000" stroke-width="1.67" fill="none"/>
<text transform="translate(1772.5,426.4) rotate(-90)" font-size="20.83" text-anchor="middle">Dipole A Voltage (<tspan letter-spacing="0.62">20<tspan font-style="italic">log</tspan>(<tspan font-style="italic">μ</tspan><tspan font-style="italic" dx="1.5">V</tspan><tspan font-style="italic" font-size="14.58" dy="3.3">A</tspan><tspan font-style="italic" dy="-3.3">S</tspan>)</tspan></text>
<rect x="108.0" y="872.8" width="918.0" height="162.20000000000005" fill="#fff" stroke="none"/>
<path d="M108.0,953.9H1026.0" stroke="#0000ff" stroke-width="3.12"/>
<path d="M108.0,953.9H408 C470,952.1999999999999 520,952.1999999999999 570,954.0 S700,954.15 760,953.9H1026.0" fill="none" stroke="#ff0000" stroke-width="3.12" stroke-dasharray="11.56 5.00"/>
<path d="M108.0,953.9H1026.0" stroke="#008000" stroke-width="3.12" stroke-dasharray="3.12 5.16"/>
<rect x="108.0" y="872.8" width="918.0" height="162.20000000000005" fill="none" stroke="#000" stroke-width="1.67"/>
<text x="108.00" y="1065.00" font-size="20.83" text-anchor="middle" >08:10:14</text>
<text x="261.00" y="1065.00" font-size="20.83" text-anchor="middle" >08:11:53</text>
<text x="414.00" y="1065.00" font-size="20.83" text-anchor="middle" >08:13:33</text>
<text x="567.00" y="1065.00" font-size="20.83" text-anchor="middle" >08:15:13</text>
<text x="720.00" y="1065.00" font-size="20.83" text-anchor="middle" >08:16:52</text>
<text x="873.00" y="1065.00" font-size="20.83" text-anchor="middle" >08:18:32</text>
<text x="1026.00" y="1065.00" font-size="20.83" text-anchor="middle" >08:20:11</text>
<text x="93.42" y="916.44" font-size="20.83" text-anchor="end" >100</text>
<text x="93.42" y="961.50" font-size="20.83" text-anchor="end" >0</text>
<text x="93.42" y="1006.56" font-size="20.83" text-anchor="end" >−100</text>
<path d="M108.00,1035.0v7.29M261.00,1035.0v7.29M414.00,1035.0v7.29M567.00,1035.0v7.29M720.00,1035.0v7.29M873.00,1035.0v7.29M1026.00,1035.0v7.29M108.0,908.84h-7.29M108.0,953.90h-7.29M108.0,998.96h-7.29" stroke="#000" stroke-width="1.67" fill="none"/>
<text transform="translate(22.9,955.1) rotate(-90)" font-size="20.83" text-anchor="middle">Angle (deg)</text>
<rect x="404.5" y="880.5" width="323" height="28.5" rx="3.3" fill="#fff" fill-opacity="0.8" stroke="#ccc" stroke-width="2.08"/>
<path d="M411,894.5h36.3" stroke="#0000ff" stroke-width="3.12"/>
<text x="459.50" y="900.30" font-size="16.67" text-anchor="start" >Yaw</text>
<path d="M524.3,894.5h33.3" stroke="#ff0000" stroke-width="3.12" stroke-dasharray="11.56 5.00"/>
<text x="570.50" y="900.30" font-size="16.67" text-anchor="start" >Pitch</text>
<path d="M644.5,894.5h33.3" stroke="#008000" stroke-width="3.12" stroke-dasharray="3.12 5.16"/>
<text x="691.50" y="900.30" font-size="16.67" text-anchor="start" >Roll</text>
<text x="18.00" y="1091.00" font-size="16.67" text-anchor="start" >Attitude = Nadir</text>
<text x="18.00" y="1115.50" font-size="16.67" text-anchor="start" >Experiment = Kilauea Eruption</text>
<text x="18.00" y="1140.00" font-size="16.67" text-anchor="start" >Gain 1 - Medium, Gain 2 - Medium, Gain 3 - Medium, Gain 4 - Medium</text>
<text x="18.00" y="1164.00" font-size="16.67" text-anchor="start" >Inputs: Channel 1 - I1, Channel 2 - Q1, Channel 3 - I3, Channel 4 - Q3</text>
<text x="738.00" y="1115.50" font-size="16.67" text-anchor="start" >Number of points per spectrum: 5208</text>
<text x="738.00" y="1140.00" font-size="16.67" text-anchor="start" >Dipole Mode</text>
<text x="1476.50" y="1185.00" font-size="20.83" text-anchor="start" >Produced by rri_ql version 4</text>
<text x="1162.00" y="1175.00" font-size="16.67" text-anchor="start" >5 min intervals</text>
<path d="M1128.5,1166.6l6.7,6.7m0,-6.7l-6.7,6.7" stroke="#000" stroke-width="2.1" fill="none"/>
<g clip-path="url(#mc)"><rect x="1111.1" y="872.8" width="534.0" height="267.0" fill="#78acd3"/><g filter="url(#mb2)"><path d="M1132.6,938.1L1144.1,938.1L1155.6,938.1L1167.1,938.1L1178.6,938.1L1190.1,938.1L1201.6,938.1L1201.6,938.1L1198.0,947.5L1195.0,956.9L1192.6,966.2L1190.8,975.6L1189.4,985.0L1188.6,994.4L1188.6,994.4L1176.3,994.4L1163.9,994.4L1151.6,994.4L1139.3,994.4L1126.9,994.4L1114.6,994.4L1114.6,994.4L1115.8,985.0L1117.6,975.6L1120.1,966.2L1123.5,956.9L1127.6,947.5L1132.6,938.1Z" fill="#6fa5cf" opacity="0.8"/><path d="M1133.8,1018.2L1151.1,1018.2L1168.4,1018.2L1185.6,1018.2L1202.9,1018.2L1220.2,1018.2L1237.5,1018.2L1237.5,1018.2L1238.2,1029.0L1239.5,1039.9L1241.2,1050.8L1243.5,1061.7L1246.5,1072.6L1250.1,1083.4L1250.1,1083.4L1234.4,1083.4L1218.7,1083.4L1203.0,1083.4L1187.3,1083.4L1171.6,1083.4L1155.8,1083.4L1155.8,1083.4L1149.5,1072.6L1144.4,1061.7L1140.3,1050.8L1137.3,1039.9L1135.1,1029.0L1133.8,1018.2Z" fill="#74a9d2" opacity="0.8"/><path d="M1291.4,944.0L1300.8,944.0L1310.1,944.0L1319.4,944.0L1328.7,944.0L1338.0,944.0L1347.4,944.0L1347.4,944.0L1346.9,950.9L1346.6,957.8L1346.3,964.8L1346.0,971.7L1345.8,978.6L1345.7,985.5L1345.7,985.5L1335.8,985.5L1326.0,985.5L1316.2,985.5L1306.4,985.5L1296.5,985.5L1286.7,985.5L1286.7,985.5L1287.1,978.6L1287.7,971.7L1288.4,964.8L1289.3,957.8L1290.3,950.9L1291.4,944.0Z" fill="#6fa5cf" opacity="0.8"/><path d="M1330.7,1018.2L1339.6,1018.2L1348.5,1018.2L1357.4,1018.2L1366.3,1018.2L1375.1,1018.2L1384.0,1018.2L1384.0,1018.2L1384.0,1028.1L1383.9,1037.9L1383.9,1047.8L1383.8,1057.7L1383.7,1067.6L1383.6,1077.5L1383.6,1077.5L1375.4,1077.5L1367.1,1077.5L1358.9,1077.5L1350.7,1077.5L1342.5,1077.5L1334.3,1077.5L1334.3,1077.5L1333.3,1067.6L1332.5,1057.7L1331.8,1047.8L1331.3,1037.9L1331.0,1028.1L1330.7,1018.2Z" fill="#73a8d1" opacity="0.8"/><path d="M1459.6,1012.2L1470.8,1012.2L1481.9,1012.2L1493.0,1012.2L1504.1,1012.2L1515.2,1012.2L1526.4,1012.2L1526.4,1012.2L1525.9,1021.6L1525.2,1031.0L1524.0,1040.4L1522.4,1049.8L1520.4,1059.2L1517.9,1068.6L1517.9,1068.6L1507.4,1068.6L1496.9,1068.6L1486.4,1068.6L1475.9,1068.6L1465.5,1068.6L1455.0,1068.6L1455.0,1068.6L1456.3,1059.2L1457.5,1049.8L1458.3,1040.4L1459.0,1031.0L1459.4,1021.6L1459.6,1012.2Z" fill="#71a6d0" opacity="0.8"/><path d="M1559.1,949.9L1570.9,949.9L1582.7,949.9L1594.4,949.9L1606.2,949.9L1618.0,949.9L1629.8,949.9L1629.8,949.9L1633.5,958.8L1636.5,967.7L1638.8,976.6L1640.5,985.5L1641.6,994.4L1642.1,1003.3L1642.1,1003.3L1629.7,1003.3L1617.4,1003.3L1605.0,1003.3L1592.7,1003.3L1580.3,1003.3L1567.9,1003.3L1567.9,1003.3L1567.6,994.4L1566.8,985.5L1565.6,976.6L1563.9,967.7L1561.8,958.8L1559.1,949.9Z" fill="#6a9fca" opacity="0.9"/><path d="M1599.6,1024.1L1607.0,1024.1L1614.4,1024.1L1621.8,1024.1L1629.1,1024.1L1636.5,1024.1L1643.9,1024.1L1643.9,1024.1L1642.3,1033.5L1640.0,1042.9L1636.9,1052.3L1633.1,1061.7L1628.3,1071.1L1622.6,1080.5L1622.6,1080.5L1615.8,1080.5L1609.0,1080.5L1602.2,1080.5L1595.4,1080.5L1588.6,1080.5L1581.9,1080.5L1581.9,1080.5L1586.6,1071.1L1590.6,1061.7L1593.8,1052.3L1596.3,1042.9L1598.3,1033.5L1599.6,1024.1Z" fill="#74a9d2" opacity="0.7"/><path d="M1133.6,1080.5L1215.1,1080.5L1296.6,1080.5L1378.1,1080.5L1459.6,1080.5L1541.1,1080.5L1622.6,1080.5L1622.6,1080.5L1619.5,1084.9L1616.1,1089.4L1612.4,1093.8L1608.4,1098.3L1603.9,1102.7L1599.1,1107.2L1599.1,1107.2L1525.4,1107.2L1451.8,1107.2L1378.1,1107.2L1304.4,1107.2L1230.8,1107.2L1157.1,1107.2L1157.1,1107.2L1152.3,1102.7L1147.8,1098.3L1143.8,1093.8L1140.1,1089.4L1136.7,1084.9L1133.6,1080.5Z" fill="#6fa4cd" opacity="0.7"/><path d="M1244.6,872.8L1289.1,872.8L1333.6,872.8L1378.1,872.8L1422.6,872.8L1467.1,872.8L1511.6,872.8L1511.6,872.8L1545.8,877.2L1559.5,881.7L1569.8,886.1L1578.2,890.6L1585.4,895.0L1591.7,899.5L1591.7,899.5L1520.5,899.5L1449.3,899.5L1378.1,899.5L1306.9,899.5L1235.7,899.5L1164.5,899.5L1164.5,899.5L1170.8,895.0L1178.0,890.6L1186.4,886.1L1196.7,881.7L1210.4,877.2L1244.6,872.8Z" fill="#8cbce0" opacity="0.8"/></g><path d="M1168.8,908.4L1175.1,904.7L1190.1,901.0L1207.5,902.8L1221.1,902.5L1234.4,903.9L1243.1,905.4L1255.3,905.4L1262.4,903.9L1268.5,903.9L1275.4,902.5L1276.7,906.9L1268.9,909.9L1259.1,914.3L1255.7,918.8L1257.1,921.8L1265.2,924.7L1268.1,927.7L1270.1,929.9L1272.6,926.2L1276.8,921.8L1278.3,914.3L1284.7,914.3L1287.5,917.3L1293.7,918.0L1296.5,921.8L1298.4,924.7L1302.7,929.2L1296.6,932.1L1288.4,932.1L1281.9,936.6L1289.5,933.6L1289.8,938.1L1294.0,938.1L1287.7,941.8L1280.7,941.8L1280.1,944.7L1274.2,946.2L1272.1,949.9L1269.8,954.4L1265.1,956.6L1261.6,960.3L1262.2,966.2L1261.0,969.2L1259.3,966.2L1258.5,961.8L1254.3,961.4L1249.9,961.8L1246.8,962.8L1242.5,962.5L1237.7,965.5L1236.1,970.7L1236.2,975.1L1238.7,978.9L1244.6,978.9L1245.7,975.1L1250.9,974.4L1248.9,979.6L1247.9,982.6L1254.5,982.9L1255.1,988.5L1254.6,991.5L1258.2,993.2L1260.5,992.2L1263.4,993.7L1263.3,995.2L1259.6,995.2L1255.2,994.0L1251.7,991.5L1249.0,987.0L1243.9,985.5L1239.8,982.6L1235.4,982.6L1228.3,979.6L1223.6,976.6L1224.2,972.2L1219.9,967.7L1216.4,963.3L1215.7,959.9L1213.2,960.3L1217.0,967.7L1218.1,972.2L1215.2,969.2L1212.6,964.0L1211.3,960.3L1210.1,956.6L1206.2,955.1L1205.1,951.4L1203.7,947.0L1204.9,942.5L1207.4,937.3L1210.0,934.4L1206.9,932.1L1205.7,929.2L1204.0,924.7L1202.7,920.3L1199.0,918.0L1194.3,917.3L1190.2,915.8L1185.1,915.8L1180.2,918.8L1173.4,921.0L1166.0,924.0L1159.7,925.5L1168.7,920.3L1167.8,918.0L1165.7,915.8L1168.3,912.8L1174.7,911.4L1170.8,910.2L1168.8,908.4ZM1300.9,908.4L1291.7,912.8L1286.9,912.1L1279.9,910.6L1287.3,905.4L1281.5,902.5L1273.7,899.5L1275.2,897.3L1284.5,897.3L1289.1,899.5L1296.0,902.5L1300.9,908.4ZM1236.8,902.5L1249.7,904.7L1254.9,902.5L1254.7,898.0L1242.9,898.0L1236.8,902.5ZM1229.8,899.5L1241.7,898.0L1242.2,895.0L1233.8,896.5L1229.8,899.5ZM1275.6,893.6L1289.8,892.8L1298.6,889.9L1313.2,884.7L1304.1,883.2L1283.0,885.4L1275.6,893.6ZM1267.5,895.0L1285.5,895.8L1284.7,893.6L1269.4,892.8L1267.5,895.0ZM1243.7,893.6L1257.2,895.0L1264.2,893.6L1255.8,890.6L1243.7,893.6ZM1297.2,935.8L1305.2,937.0L1305.8,933.6L1302.5,929.9L1297.2,935.8ZM1253.9,973.7L1261.4,972.2L1269.0,976.2L1264.5,976.9L1253.9,973.7ZM1268.8,978.9L1277.6,978.9L1275.6,976.6L1271.2,976.6L1268.8,978.9ZM1348.1,909.1L1350.3,911.4L1355.3,912.3L1360.5,910.6L1359.4,908.1L1353.2,908.4L1348.1,909.1ZM1263.4,993.7L1266.5,990.3L1271.8,988.5L1272.4,990.3L1277.6,989.2L1283.5,990.7L1287.9,991.5L1293.6,997.4L1301.0,999.6L1303.9,1005.6L1306.9,1007.8L1312.8,1010.0L1318.8,1010.8L1323.3,1013.7L1326.3,1017.4L1322.7,1024.1L1320.7,1028.5L1320.1,1033.7L1318.2,1038.9L1313.2,1040.7L1308.4,1044.1L1307.7,1048.6L1303.6,1054.5L1301.1,1057.5L1296.8,1057.8L1297.5,1062.7L1290.7,1064.1L1287.0,1067.1L1289.5,1069.6L1285.7,1074.5L1287.7,1077.5L1284.8,1082.0L1286.2,1084.9L1290.4,1087.9L1285.3,1088.6L1278.6,1084.2L1274.7,1077.5L1276.1,1068.6L1273.9,1061.2L1275.3,1052.3L1275.9,1043.4L1274.9,1033.7L1266.1,1027.1L1261.1,1018.2L1257.6,1013.7L1259.5,1010.0L1259.4,1004.8L1262.4,1003.3L1263.2,1000.4L1263.4,993.7ZM1353.1,984.5L1353.9,978.1L1353.2,974.4L1359.3,965.5L1363.7,961.8L1364.5,958.1L1369.6,953.3L1375.3,954.1L1382.4,951.7L1392.3,951.1L1393.8,955.9L1399.6,958.4L1406.9,960.6L1406.8,958.1L1414.0,959.3L1424.1,960.0L1427.2,963.3L1429.8,970.7L1432.6,975.9L1435.5,983.3L1441.6,988.9L1443.9,990.7L1453.4,988.8L1452.1,994.4L1447.8,1000.4L1440.4,1008.5L1436.6,1013.7L1436.5,1021.1L1438.0,1028.5L1430.9,1034.5L1429.1,1041.9L1425.6,1044.9L1425.0,1048.9L1421.2,1052.7L1416.7,1056.4L1409.5,1057.2L1404.2,1057.0L1403.9,1053.8L1400.6,1046.3L1399.3,1039.7L1395.7,1033.0L1398.0,1024.1L1395.9,1015.2L1391.4,1007.8L1392.5,1001.1L1387.0,999.9L1382.5,997.0L1373.7,998.9L1367.0,999.8L1361.8,996.2L1358.1,992.2L1355.9,990.0L1353.1,984.5ZM1450.9,1024.1L1452.2,1029.3L1447.2,1043.4L1442.1,1043.4L1441.7,1038.2L1443.6,1030.3L1450.9,1024.1ZM1365.3,951.4L1365.6,942.5L1375.3,941.8L1376.3,938.1L1371.9,934.7L1376.1,933.9L1380.8,930.6L1384.1,927.7L1389.4,926.2L1389.0,921.8L1391.9,921.0L1391.4,924.7L1394.1,926.2L1396.8,926.2L1403.4,925.5L1405.9,923.2L1406.3,921.0L1409.6,921.3L1408.6,918.3L1414.4,917.7L1416.9,917.3L1407.9,917.3L1405.5,915.8L1405.4,912.8L1409.4,909.4L1405.5,908.7L1400.5,914.3L1400.0,916.6L1402.1,918.0L1399.8,921.8L1396.7,924.0L1395.0,923.2L1392.4,918.8L1388.6,920.3L1385.3,918.8L1384.5,915.1L1388.2,912.1L1394.2,907.7L1397.6,903.9L1404.6,902.0L1411.6,901.0L1415.5,902.5L1419.4,903.5L1428.6,906.2L1427.9,908.4L1421.5,907.7L1420.8,909.9L1424.8,911.4L1428.3,909.9L1432.8,908.0L1431.9,904.7L1444.1,904.7L1451.2,903.9L1461.1,904.4L1458.3,901.0L1459.2,898.0L1465.3,899.5L1468.9,905.4L1470.7,899.5L1472.8,897.3L1479.4,896.5L1477.7,894.3L1489.7,893.6L1494.2,891.0L1504.9,892.8L1509.6,896.5L1523.1,897.3L1533.8,901.0L1543.5,898.8L1556.9,900.2L1571.4,902.5L1583.4,902.5L1597.3,903.9L1603.9,909.9L1600.9,910.6L1606.4,913.6L1598.8,916.6L1591.4,920.3L1593.4,924.7L1590.5,930.6L1583.3,921.8L1587.3,915.1L1579.6,915.1L1579.3,918.0L1563.9,918.3L1557.7,925.2L1565.0,926.2L1568.0,929.2L1569.8,935.1L1565.9,941.8L1560.9,943.3L1559.3,948.4L1562.4,953.6L1558.6,955.1L1556.7,951.4L1554.1,947.7L1549.4,946.2L1548.7,948.4L1544.5,948.4L1546.7,951.0L1551.8,951.4L1548.4,954.4L1553.2,960.3L1553.9,964.8L1551.1,969.2L1547.3,972.2L1543.2,973.7L1539.0,975.1L1536.7,974.1L1533.5,977.4L1538.4,984.0L1539.5,988.5L1533.9,993.2L1533.1,991.5L1528.7,988.5L1526.3,986.3L1525.2,991.5L1530.8,998.9L1532.4,1004.1L1527.9,1001.8L1523.6,994.4L1523.8,991.5L1521.5,981.8L1516.9,982.6L1516.0,978.1L1511.7,972.9L1506.7,974.1L1504.8,976.6L1498.7,981.8L1495.9,984.0L1496.2,988.5L1492.8,994.4L1490.4,990.0L1487.1,984.0L1484.9,978.1L1484.1,974.4L1480.5,975.1L1477.9,971.4L1474.8,968.8L1466.8,968.9L1460.9,968.0L1460.0,966.2L1451.9,965.1L1448.7,961.4L1447.3,962.5L1452.2,968.2L1453.1,970.7L1456.7,970.7L1459.8,967.7L1465.4,972.9L1463.2,978.1L1458.9,981.1L1454.7,983.3L1444.5,987.5L1442.3,987.5L1440.6,982.6L1435.2,975.1L1431.9,969.2L1428.7,964.8L1427.9,962.5L1424.9,961.8L1427.0,959.9L1429.3,952.9L1429.2,951.7L1423.6,952.5L1421.4,952.5L1417.8,951.7L1415.5,949.2L1415.4,947.0L1418.8,945.5L1421.6,945.5L1427.0,944.0L1431.4,945.5L1436.2,944.7L1433.7,941.8L1429.3,939.5L1431.7,936.6L1426.4,938.1L1423.6,938.1L1424.5,940.3L1420.2,938.1L1417.7,941.8L1417.3,944.7L1414.6,945.8L1411.8,945.8L1410.4,947.0L1412.0,949.9L1410.8,952.2L1408.5,950.7L1405.4,945.5L1404.6,943.3L1398.9,939.5L1396.7,938.5L1395.2,940.3L1397.6,943.3L1404.1,946.5L1401.3,947.7L1400.7,949.9L1400.2,947.0L1395.6,944.7L1392.7,942.5L1389.9,940.6L1386.5,942.5L1382.6,942.5L1382.6,944.3L1378.1,947.7L1377.4,949.9L1375.3,951.9L1370.6,952.6L1365.3,951.4ZM1158.9,903.9L1162.5,906.2L1166.3,908.4L1160.3,910.6L1152.3,909.9ZM1370.6,932.1L1379.9,930.4L1380.4,928.1L1378.1,926.9L1376.1,924.7L1375.5,921.0L1372.9,920.7L1374.2,919.4L1371.6,919.4L1369.9,922.5L1371.5,924.7L1374.1,926.2L1372.1,927.2L1372.0,929.5L1374.0,930.1L1370.6,932.1ZM1364.6,929.2L1369.6,928.9L1370.1,926.2L1367.5,924.3L1364.8,926.2L1364.6,929.2ZM1564.8,959.6L1566.2,956.6L1570.9,955.9L1573.5,954.8L1577.5,954.1L1577.5,949.9L1576.5,945.5L1574.4,945.5L1575.1,949.2L1572.3,951.4L1571.6,953.3L1566.8,953.9L1565.2,955.9L1563.8,957.3L1564.8,959.6ZM1573.8,944.0L1578.0,944.0L1580.6,942.1L1574.3,938.8L1575.2,942.5L1573.8,944.0ZM1573.9,938.1L1575.3,936.6L1572.3,932.1L1569.4,926.2L1567.7,926.2L1573.9,938.1ZM1553.5,972.6L1555.2,969.2L1554.0,968.9L1553.5,972.6ZM1496.4,992.2L1499.2,995.2L1497.4,997.4L1496.2,994.4L1496.4,992.2ZM1519.6,998.1L1523.4,1000.4L1531.6,1007.8L1535.2,1014.9L1532.9,1014.9L1527.9,1010.0L1523.5,1004.1L1519.6,998.1ZM1534.4,1016.4L1538.1,1015.9L1542.5,1015.9L1547.6,1017.7L1547.2,1019.2L1538.0,1017.9L1534.4,1016.4ZM1539.8,1004.1L1543.5,1002.3L1545.7,1001.6L1549.3,998.6L1551.4,995.9L1554.5,998.6L1552.8,1003.3L1553.1,1005.1L1550.1,1011.5L1547.9,1012.2L1543.4,1011.2L1541.3,1008.5L1539.8,1004.1ZM1556.1,1005.1L1562.8,1004.5L1557.6,1007.5L1560.5,1007.8L1558.3,1009.3L1559.7,1013.0L1556.7,1014.6L1555.3,1011.5L1556.1,1005.1ZM1572.4,1007.5L1576.9,1007.5L1578.3,1011.2L1582.8,1008.8L1587.2,1010.3L1593.1,1012.7L1596.6,1015.2L1594.2,1018.2L1600.6,1021.6L1595.5,1021.1L1590.5,1018.2L1588.2,1019.9L1583.9,1018.2L1582.6,1014.5L1576.8,1012.2L1574.6,1010.5L1572.4,1007.5ZM1554.9,978.9L1557.4,978.9L1557.6,982.6L1561.1,987.0L1558.0,985.8L1555.7,984.8L1554.7,982.6L1554.9,978.9ZM1558.8,995.9L1561.6,993.7L1564.9,992.2L1565.2,997.0L1564.1,997.8L1561.8,995.9L1558.8,995.9ZM1543.9,1038.9L1543.6,1044.9L1543.8,1050.8L1542.4,1056.7L1546.2,1058.2L1554.5,1056.7L1563.3,1053.3L1570.2,1054.5L1574.5,1059.0L1576.8,1062.7L1580.6,1063.9L1584.7,1064.1L1590.6,1061.6L1594.8,1056.0L1599.4,1049.3L1600.6,1043.4L1596.5,1038.9L1592.7,1034.5L1592.4,1028.5L1589.6,1027.4L1588.7,1022.3L1586.8,1026.3L1585.4,1031.5L1583.1,1032.3L1577.7,1028.5L1580.1,1024.1L1573.9,1023.1L1569.9,1025.6L1568.1,1028.5L1565.3,1027.1L1562.1,1029.3L1557.2,1033.0L1552.4,1036.0L1547.8,1037.5L1543.9,1038.9ZM1581.1,1066.7L1586.1,1066.8L1584.2,1070.4L1581.2,1070.8L1581.1,1066.7ZM1624.5,1057.3L1626.5,1060.4L1630.7,1062.2L1627.5,1064.6L1623.4,1068.0L1624.0,1065.3L1625.5,1061.9L1624.5,1057.3ZM1620.6,1066.4L1621.9,1068.2L1618.2,1071.3L1613.2,1074.5L1609.7,1075.4L1607.7,1074.5L1612.1,1071.6L1616.7,1069.3L1620.6,1066.4ZM1440.4,901.0L1446.7,901.7L1448.6,898.0L1455.1,892.8L1452.4,892.1L1442.6,895.0L1440.4,901.0ZM1390.2,889.1L1396.1,892.1L1402.6,890.6L1407.3,887.6L1397.4,886.9L1390.2,889.1Z" fill="#e2e8b4"/><g clip-path="url(#lc)"><g filter="url(#mb)"><path d="M1353.8,957.3L1366.4,957.3L1379.1,957.3L1391.7,957.3L1404.3,957.3L1417.0,957.3L1429.6,957.3L1429.6,957.3L1430.0,961.6L1430.2,965.8L1430.5,970.0L1430.7,974.2L1430.9,978.4L1431.1,982.6L1431.1,982.6L1418.1,982.6L1405.1,982.6L1392.1,982.6L1379.1,982.6L1366.1,982.6L1353.1,982.6L1353.1,982.6L1353.2,978.4L1353.3,974.2L1353.4,970.0L1353.5,965.8L1353.6,961.6L1353.8,957.3Z" fill="#f2e5d0" opacity="1"/><path d="M1429.6,957.3L1435.4,957.3L1441.1,957.3L1446.8,957.3L1452.5,957.3L1458.3,957.3L1464.0,957.3L1464.0,957.3L1464.6,962.3L1465.2,967.2L1465.6,972.2L1466.0,977.1L1466.4,982.1L1466.6,987.0L1466.6,987.0L1460.7,987.0L1454.8,987.0L1448.9,987.0L1443.0,987.0L1437.1,987.0L1431.2,987.0L1431.2,987.0L1431.1,982.1L1430.9,977.1L1430.6,972.2L1430.3,967.2L1430.0,962.3L1429.6,957.3Z" fill="#f1e3cf" opacity="1"/><path d="M1438.8,938.1L1446.6,938.1L1454.4,938.1L1462.2,938.1L1470.0,938.1L1477.9,938.1L1485.7,938.1L1485.7,938.1L1486.9,943.0L1488.0,948.0L1489.0,952.9L1489.9,957.8L1490.6,962.8L1491.3,967.7L1491.3,967.7L1483.1,967.7L1474.9,967.7L1466.7,967.7L1458.4,967.7L1450.2,967.7L1442.0,967.7L1442.0,967.7L1441.6,962.8L1441.1,957.8L1440.6,952.9L1440.1,948.0L1439.5,943.0L1438.8,938.1Z" fill="#ece1cb" opacity="0.95"/><path d="M1390.0,997.4L1395.9,997.4L1401.8,997.4L1407.7,997.4L1413.7,997.4L1419.6,997.4L1425.5,997.4L1425.5,997.4L1425.5,1000.6L1425.6,1003.8L1425.6,1007.0L1425.6,1010.3L1425.5,1013.5L1425.5,1016.7L1425.5,1016.7L1419.6,1016.7L1413.6,1016.7L1407.7,1016.7L1401.8,1016.7L1395.9,1016.7L1389.9,1016.7L1389.9,1016.7L1390.0,1013.5L1390.0,1010.3L1390.0,1007.0L1390.0,1003.8L1390.0,1000.6L1390.0,997.4Z" fill="#b9d2a4" opacity="0.9"/><path d="M1395.7,1031.5L1399.7,1031.5L1403.6,1031.5L1407.5,1031.5L1411.4,1031.5L1415.3,1031.5L1419.3,1031.5L1419.3,1031.5L1419.1,1035.0L1419.0,1038.4L1418.9,1041.9L1418.7,1045.4L1418.6,1048.8L1418.4,1052.3L1418.4,1052.3L1414.5,1052.3L1410.7,1052.3L1406.9,1052.3L1403.0,1052.3L1399.2,1052.3L1395.4,1052.3L1395.4,1052.3L1395.4,1048.8L1395.5,1045.4L1395.6,1041.9L1395.6,1038.4L1395.7,1035.0L1395.7,1031.5Z" fill="#eadfbf" opacity="0.8"/><path d="M1422.4,988.5L1425.4,988.5L1428.3,988.5L1431.3,988.5L1434.2,988.5L1437.2,988.5L1440.1,988.5L1440.1,988.5L1440.3,994.4L1440.4,1000.4L1440.4,1006.3L1440.4,1012.2L1440.3,1018.2L1440.1,1024.1L1440.1,1024.1L1437.2,1024.1L1434.2,1024.1L1431.3,1024.1L1428.3,1024.1L1425.4,1024.1L1422.4,1024.1L1422.4,1024.1L1422.5,1018.2L1422.6,1012.2L1422.6,1006.3L1422.6,1000.4L1422.5,994.4L1422.4,988.5Z" fill="#dcdcb4" opacity="0.6"/><path d="M1437.2,988.5L1440.1,988.5L1443.1,988.5L1446.0,988.5L1449.0,988.5L1451.9,988.5L1454.9,988.5L1454.9,988.5L1455.0,991.0L1455.1,993.4L1455.1,995.9L1455.2,998.4L1455.2,1000.9L1455.2,1003.3L1455.2,1003.3L1452.3,1003.3L1449.3,1003.3L1446.3,1003.3L1443.4,1003.3L1440.4,1003.3L1437.4,1003.3L1437.4,1003.3L1437.4,1000.9L1437.4,998.4L1437.3,995.9L1437.3,993.4L1437.2,991.0L1437.2,988.5Z" fill="#efdcc4" opacity="0.8"/><path d="M1357.4,988.5L1363.8,988.5L1370.2,988.5L1376.6,988.5L1383.0,988.5L1389.4,988.5L1395.8,988.5L1395.8,988.5L1395.8,990.2L1395.8,992.0L1395.9,993.7L1395.9,995.4L1395.9,997.2L1395.9,998.9L1395.9,998.9L1389.5,998.9L1383.0,998.9L1376.6,998.9L1370.2,998.9L1363.8,998.9L1357.3,998.9L1357.3,998.9L1357.4,997.2L1357.4,995.4L1357.4,993.7L1357.4,992.0L1357.4,990.2L1357.4,988.5Z" fill="#d2e0a6" opacity="0.7"/><path d="M1482.1,935.1L1491.7,935.1L1501.3,935.1L1510.9,935.1L1520.5,935.1L1530.1,935.1L1539.6,935.1L1539.6,935.1L1540.8,938.1L1542.0,941.0L1543.0,944.0L1544.0,947.0L1544.9,949.9L1545.8,952.9L1545.8,952.9L1535.9,952.9L1525.9,952.9L1516.0,952.9L1506.0,952.9L1496.1,952.9L1486.1,952.9L1486.1,952.9L1485.6,949.9L1485.0,947.0L1484.3,944.0L1483.6,941.0L1482.9,938.1L1482.1,935.1Z" fill="#e9e0c8" opacity="0.9"/><path d="M1487.3,951.4L1493.2,951.4L1499.1,951.4L1505.0,951.4L1510.9,951.4L1516.8,951.4L1522.7,951.4L1522.7,951.4L1523.2,953.5L1523.7,955.6L1524.2,957.7L1524.7,959.8L1525.1,961.9L1525.5,964.0L1525.5,964.0L1519.5,964.0L1513.5,964.0L1507.4,964.0L1501.4,964.0L1495.4,964.0L1489.4,964.0L1489.4,964.0L1489.1,961.9L1488.7,959.8L1488.4,957.7L1488.0,955.6L1487.7,953.5L1487.3,951.4Z" fill="#c9cdc9" opacity="0.9"/><path d="M1403.4,911.4L1427.6,911.4L1451.8,911.4L1476.0,911.4L1500.2,911.4L1524.4,911.4L1548.6,911.4L1548.6,911.4L1551.0,914.6L1553.2,917.8L1555.3,921.0L1557.2,924.2L1559.0,927.4L1560.7,930.6L1560.7,930.6L1534.8,930.6L1508.9,930.6L1482.9,930.6L1457.0,930.6L1431.1,930.6L1405.2,930.6L1405.2,930.6L1404.9,927.4L1404.6,924.2L1404.3,921.0L1404.0,917.8L1403.7,914.6L1403.4,911.4Z" fill="#bdd4a8" opacity="0.9"/><path d="M1410.5,887.6L1437.6,887.6L1464.6,887.6L1491.7,887.6L1518.7,887.6L1545.7,887.6L1572.8,887.6L1572.8,887.6L1579.1,891.1L1584.6,894.6L1589.7,898.0L1594.3,901.5L1598.5,904.9L1602.4,908.4L1602.4,908.4L1571.2,908.4L1540.1,908.4L1508.9,908.4L1477.8,908.4L1446.6,908.4L1415.5,908.4L1415.5,908.4L1414.8,904.9L1414.1,901.5L1413.4,898.0L1412.5,894.6L1411.6,891.1L1410.5,887.6Z" fill="#dfe3d4" opacity="1"/><path d="M1532.7,902.5L1543.2,902.5L1553.6,902.5L1564.1,902.5L1574.6,902.5L1585.0,902.5L1595.5,902.5L1595.5,902.5L1599.6,905.9L1603.4,909.4L1606.9,912.8L1610.2,916.3L1613.3,919.8L1616.1,923.2L1616.1,923.2L1604.6,923.2L1593.2,923.2L1581.7,923.2L1570.3,923.2L1558.8,923.2L1547.4,923.2L1547.4,923.2L1545.3,919.8L1543.2,916.3L1540.8,912.8L1538.3,909.4L1535.6,905.9L1532.7,902.5Z" fill="#dde2d1" opacity="0.95"/><path d="M1382.9,901.0L1388.5,901.0L1394.1,901.0L1399.7,901.0L1405.2,901.0L1410.8,901.0L1416.4,901.0L1416.4,901.0L1417.2,904.7L1418.0,908.4L1418.7,912.1L1419.3,915.8L1419.9,919.5L1420.4,923.2L1420.4,923.2L1414.2,923.2L1408.1,923.2L1401.9,923.2L1395.7,923.2L1389.6,923.2L1383.4,923.2L1383.4,923.2L1383.3,919.5L1383.2,915.8L1383.2,912.1L1383.1,908.4L1383.0,904.7L1382.9,901.0Z" fill="#bfd6aa" opacity="0.9"/><path d="M1364.6,930.6L1375.8,930.6L1387.1,930.6L1398.4,930.6L1409.7,930.6L1420.9,930.6L1432.2,930.6L1432.2,930.6L1432.8,934.4L1433.3,938.1L1433.7,941.8L1434.2,945.5L1434.6,949.2L1435.0,952.9L1435.0,952.9L1423.1,952.9L1411.3,952.9L1399.4,952.9L1387.6,952.9L1375.7,952.9L1363.9,952.9L1363.9,952.9L1364.0,949.2L1364.1,945.5L1364.2,941.8L1364.3,938.1L1364.4,934.4L1364.6,930.6Z" fill="#d6e1a8" opacity="0.7"/><path d="M1517.3,976.6L1524.6,976.6L1531.9,976.6L1539.2,976.6L1546.6,976.6L1553.9,976.6L1561.2,976.6L1561.2,976.6L1562.2,984.0L1562.9,991.5L1563.4,998.9L1563.5,1006.3L1563.4,1013.7L1562.9,1021.1L1562.9,1021.1L1555.5,1021.1L1548.2,1021.1L1540.8,1021.1L1533.4,1021.1L1526.0,1021.1L1518.6,1021.1L1518.6,1021.1L1518.9,1013.7L1519.0,1006.3L1518.9,998.9L1518.6,991.5L1518.0,984.0L1517.3,976.6Z" fill="#c6daa6" opacity="0.8"/><path d="M1520.9,955.9L1526.2,955.9L1531.4,955.9L1536.6,955.9L1541.9,955.9L1547.1,955.9L1552.4,955.9L1552.4,955.9L1553.2,958.8L1553.9,961.8L1554.6,964.8L1555.2,967.7L1555.8,970.7L1556.3,973.7L1556.3,973.7L1551.0,973.7L1545.6,973.7L1540.3,973.7L1534.9,973.7L1529.5,973.7L1524.2,973.7L1524.2,973.7L1523.7,970.7L1523.3,967.7L1522.8,964.8L1522.2,961.8L1521.6,958.8L1520.9,955.9Z" fill="#d6e2a8" opacity="0.6"/><path d="M1554.6,938.1L1558.8,938.1L1562.9,938.1L1567.0,938.1L1571.2,938.1L1575.3,938.1L1579.5,938.1L1579.5,938.1L1581.3,942.0L1583.0,946.0L1584.5,949.9L1586.0,953.9L1587.3,957.8L1588.5,961.8L1588.5,961.8L1584.2,961.8L1579.8,961.8L1575.5,961.8L1571.2,961.8L1566.9,961.8L1562.5,961.8L1562.5,961.8L1561.5,957.8L1560.3,953.9L1559.1,949.9L1557.7,946.0L1556.2,942.0L1554.6,938.1Z" fill="#cfdfa8" opacity="0.8"/><path d="M1551.2,1034.5L1558.0,1034.5L1564.8,1034.5L1571.7,1034.5L1578.5,1034.5L1585.4,1034.5L1592.2,1034.5L1592.2,1034.5L1591.7,1037.5L1591.1,1040.4L1590.4,1043.4L1589.7,1046.3L1588.9,1049.3L1588.0,1052.3L1588.0,1052.3L1581.3,1052.3L1574.6,1052.3L1567.9,1052.3L1561.2,1052.3L1554.5,1052.3L1547.8,1052.3L1547.8,1052.3L1548.5,1049.3L1549.1,1046.3L1549.7,1043.4L1550.2,1040.4L1550.7,1037.5L1551.2,1034.5Z" fill="#efdcb4" opacity="0.9"/><path d="M1562.2,1038.9L1565.6,1038.9L1569.0,1038.9L1572.4,1038.9L1575.8,1038.9L1579.2,1038.9L1582.6,1038.9L1582.6,1038.9L1582.3,1040.7L1581.9,1042.4L1581.5,1044.1L1581.1,1045.9L1580.7,1047.6L1580.2,1049.3L1580.2,1049.3L1576.9,1049.3L1573.5,1049.3L1570.1,1049.3L1566.8,1049.3L1563.4,1049.3L1560.0,1049.3L1560.0,1049.3L1560.4,1047.6L1560.8,1045.9L1561.2,1044.1L1561.5,1042.4L1561.9,1040.7L1562.2,1038.9Z" fill="#ecccaa" opacity="0.6"/><path d="M1203.3,917.3L1220.0,917.3L1236.6,917.3L1253.2,917.3L1269.8,917.3L1286.4,917.3L1303.0,917.3L1303.0,917.3L1302.1,920.5L1301.3,923.7L1300.5,926.9L1299.7,930.2L1299.1,933.4L1298.4,936.6L1298.4,936.6L1280.8,936.6L1263.1,936.6L1245.5,936.6L1227.9,936.6L1210.2,936.6L1192.6,936.6L1192.6,936.6L1194.1,933.4L1195.7,930.2L1197.5,926.9L1199.3,923.7L1201.3,920.5L1203.3,917.3Z" fill="#c0d5ab" opacity="0.9"/><path d="M1206.8,881.7L1225.2,881.7L1243.7,881.7L1262.2,881.7L1280.7,881.7L1299.1,881.7L1317.6,881.7L1317.6,881.7L1313.5,887.1L1310.3,892.6L1307.6,898.0L1305.2,903.5L1303.2,908.9L1301.3,914.3L1301.3,914.3L1277.9,914.3L1254.4,914.3L1231.0,914.3L1207.5,914.3L1184.1,914.3L1160.6,914.3L1160.6,914.3L1165.8,908.9L1171.6,903.5L1178.3,898.0L1186.0,892.6L1195.2,887.1L1206.8,881.7Z" fill="#e2e3d5" opacity="1"/><path d="M1175.2,902.5L1180.8,902.5L1186.5,902.5L1192.1,902.5L1197.7,902.5L1203.4,902.5L1209.0,902.5L1209.0,902.5L1206.2,905.4L1203.7,908.4L1201.3,911.4L1199.0,914.3L1196.9,917.3L1194.9,920.3L1194.9,920.3L1188.8,920.3L1182.7,920.3L1176.5,920.3L1170.4,920.3L1164.3,920.3L1158.2,920.3L1158.2,920.3L1160.6,917.3L1163.2,914.3L1165.9,911.4L1168.8,908.4L1171.9,905.4L1175.2,902.5Z" fill="#d3dcc0" opacity="0.9"/><path d="M1207.7,936.6L1212.7,936.6L1217.8,936.6L1222.8,936.6L1227.9,936.6L1232.9,936.6L1237.9,936.6L1237.9,936.6L1236.5,940.8L1235.2,945.0L1234.1,949.2L1233.0,953.4L1232.0,957.6L1231.1,961.8L1231.1,961.8L1225.8,961.8L1220.6,961.8L1215.3,961.8L1210.0,961.8L1204.7,961.8L1199.4,961.8L1199.4,961.8L1200.5,957.6L1201.7,953.4L1203.0,949.2L1204.4,945.0L1206.0,940.8L1207.7,936.6Z" fill="#e3dfc0" opacity="0.9"/><path d="M1238.0,929.2L1240.3,929.2L1242.5,929.2L1244.7,929.2L1247.0,929.2L1249.2,929.2L1251.5,929.2L1251.5,929.2L1249.8,933.9L1248.3,938.6L1246.9,943.3L1245.7,948.0L1244.5,952.7L1243.5,957.3L1243.5,957.3L1241.1,957.3L1238.8,957.3L1236.4,957.3L1234.0,957.3L1231.6,957.3L1229.2,957.3L1229.2,957.3L1230.3,952.7L1231.6,948.0L1233.0,943.3L1234.5,938.6L1236.2,933.9L1238.0,929.2Z" fill="#e8e7aa" opacity="0.8"/><path d="M1248.5,938.1L1254.0,938.1L1259.5,938.1L1265.0,938.1L1270.5,938.1L1276.0,938.1L1281.6,938.1L1281.6,938.1L1280.7,942.0L1279.9,946.0L1279.1,949.9L1278.4,953.9L1277.8,957.8L1277.2,961.8L1277.2,961.8L1271.5,961.8L1265.7,961.8L1259.9,961.8L1254.2,961.8L1248.4,961.8L1242.7,961.8L1242.7,961.8L1243.4,957.8L1244.3,953.9L1245.2,949.9L1246.2,946.0L1247.3,942.0L1248.5,938.1Z" fill="#c8dba8" opacity="0.8"/><path d="M1216.7,961.8L1220.6,961.8L1224.4,961.8L1228.2,961.8L1232.1,961.8L1235.9,961.8L1239.8,961.8L1239.8,961.8L1239.1,965.3L1238.6,968.7L1238.1,972.2L1237.6,975.6L1237.2,979.1L1236.8,982.6L1236.8,982.6L1232.9,982.6L1229.0,982.6L1225.1,982.6L1221.1,982.6L1217.2,982.6L1213.3,982.6L1213.3,982.6L1213.7,979.1L1214.2,975.6L1214.7,972.2L1215.3,968.7L1216.0,965.3L1216.7,961.8Z" fill="#dcdfb2" opacity="0.7"/><path d="M1265.5,997.4L1271.9,997.4L1278.3,997.4L1284.8,997.4L1291.2,997.4L1297.6,997.4L1304.0,997.4L1304.0,997.4L1304.0,1002.1L1303.9,1006.8L1304.0,1011.5L1304.0,1016.2L1304.2,1020.9L1304.3,1025.6L1304.3,1025.6L1297.9,1025.6L1291.5,1025.6L1285.1,1025.6L1278.7,1025.6L1272.4,1025.6L1266.0,1025.6L1266.0,1025.6L1265.7,1020.9L1265.5,1016.2L1265.4,1011.5L1265.4,1006.8L1265.4,1002.1L1265.5,997.4Z" fill="#bbd3a2" opacity="0.9"/><path d="M1259.7,994.4L1263.1,994.4L1266.6,994.4L1270.0,994.4L1273.5,994.4L1276.9,994.4L1280.4,994.4L1280.4,994.4L1280.2,1008.8L1280.6,1023.1L1281.6,1037.5L1283.1,1051.8L1285.4,1066.1L1288.4,1080.5L1288.4,1080.5L1285.3,1080.5L1282.1,1080.5L1278.9,1080.5L1275.8,1080.5L1272.6,1080.5L1269.4,1080.5L1269.4,1080.5L1265.7,1066.1L1263.0,1051.8L1261.1,1037.5L1259.9,1023.1L1259.4,1008.8L1259.7,994.4Z" fill="#d9d4c2" opacity="0.55"/><path d="M1275.8,1059.7L1279.1,1059.7L1282.4,1059.7L1285.7,1059.7L1289.0,1059.7L1292.3,1059.7L1295.7,1059.7L1295.7,1059.7L1296.3,1064.1L1297.0,1068.6L1297.8,1073.0L1298.7,1077.5L1299.6,1082.0L1300.7,1086.4L1300.7,1086.4L1297.6,1086.4L1294.4,1086.4L1291.3,1086.4L1288.2,1086.4L1285.1,1086.4L1282.0,1086.4L1282.0,1086.4L1280.7,1082.0L1279.5,1077.5L1278.5,1073.0L1277.5,1068.6L1276.6,1064.1L1275.8,1059.7Z" fill="#e6e1c0" opacity="0.8"/><path d="M1304.0,1012.2L1307.4,1012.2L1310.9,1012.2L1314.3,1012.2L1317.8,1012.2L1321.3,1012.2L1324.7,1012.2L1324.7,1012.2L1324.8,1016.7L1324.9,1021.1L1325.0,1025.6L1325.1,1030.0L1325.3,1034.5L1325.5,1038.9L1325.5,1038.9L1322.1,1038.9L1318.7,1038.9L1315.3,1038.9L1311.9,1038.9L1308.5,1038.9L1305.1,1038.9L1305.1,1038.9L1304.8,1034.5L1304.5,1030.0L1304.3,1025.6L1304.2,1021.1L1304.0,1016.7L1304.0,1012.2Z" fill="#dfe5aa" opacity="0.7"/></g></g><path d="M1443.1,939.5L1448.2,936.9L1451.5,939.5L1450.8,944.0L1454.1,947.7L1454.0,951.4L1449.0,951.4L1447.0,947.0L1444.3,942.5L1443.1,939.5Z" fill="#78acd3"/><path d="M1252.4,934.4L1261.7,935.1L1261.8,937.3L1257.0,937.3L1252.4,934.4ZM1257.2,938.8L1260.1,938.4L1257.9,944.0L1255.8,944.0L1257.2,938.8ZM1262.3,938.1L1267.6,938.8L1264.6,942.2L1262.0,941.8L1262.3,938.1ZM1262.3,943.3L1268.0,942.5L1271.9,941.0L1267.9,943.3L1261.9,944.7L1262.3,943.3Z" fill="#78acd3"/><path d="M1296.9,890.6L1300.7,893.6L1309.8,893.6L1311.7,902.5L1313.3,908.4L1316.3,915.8L1321.1,917.3L1326.0,912.8L1333.2,908.8L1346.3,904.7L1351.5,902.5L1352.2,898.0L1356.5,893.6L1358.6,887.6L1355.1,884.7L1345.5,882.4L1331.4,883.9L1315.3,884.7L1305.1,886.9L1296.9,890.6Z" fill="#f0f0f5"/><path d="M1178.0,1122.0L1190.3,1122.7L1200.2,1122.0L1209.3,1120.5L1217.7,1118.3L1227.6,1116.8L1238.4,1116.1L1250.7,1116.8L1260.6,1114.6L1272.3,1114.6L1284.5,1115.3L1289.1,1113.1L1295.3,1108.6L1297.1,1104.2L1300.0,1102.0L1304.5,1100.2L1306.3,1102.0L1302.7,1105.7L1303.2,1110.1L1307.1,1116.1L1304.9,1120.5L1322.5,1122.0L1333.6,1122.0L1338.9,1121.3L1349.0,1116.1L1360.4,1113.8L1366.1,1111.6L1378.1,1110.1L1390.2,1110.1L1402.3,1110.1L1414.5,1109.4L1427.0,1107.9L1439.9,1105.7L1446.6,1104.2L1452.1,1106.1L1463.7,1107.9L1468.9,1109.7L1476.7,1106.4L1489.7,1105.2L1502.7,1104.2L1515.1,1104.2L1526.9,1105.2L1540.1,1104.2L1551.6,1105.2L1561.5,1107.9L1571.4,1110.1L1575.7,1111.6L1579.8,1113.1L1568.3,1121.3L1578.2,1122.0L1559.5,1130.9L1511.6,1139.8L1244.6,1139.8L1196.7,1130.9Z" fill="#f4f5f9"/><path d="M1275.6,893.6L1289.8,892.8L1298.6,889.9L1313.2,884.7L1304.1,883.2L1283.0,885.4L1275.6,893.6ZM1390.2,889.1L1396.1,892.1L1402.6,890.6L1407.3,887.6L1397.4,886.9L1390.2,889.1ZM1440.4,901.0L1446.7,901.7L1448.6,898.0L1455.1,892.8L1452.4,892.1L1442.6,895.0L1440.4,901.0Z" fill="#eeeeee" opacity="0.8"/></g>
<g stroke-width="4.3" stroke-linecap="round" fill="none"><path d="M1157.2,1006.5L1157.3,1004.9" stroke="#ff4000"/><path d="M1157.3,1004.9L1157.5,1003.2" stroke="#ff7500"/><path d="M1157.5,1003.2L1157.7,1001.6" stroke="#ffa900"/><path d="M1157.7,1001.6L1157.9,1000.0" stroke="#ffdd00"/><path d="M1157.9,1000.0L1158.1,998.4" stroke="#edff00"/><path d="M1158.1,998.4L1158.4,996.8" stroke="#b8ff00"/><path d="M1158.4,996.8L1158.7,995.1" stroke="#89ff00"/><path d="M1158.7,995.1L1158.9,993.5" stroke="#5eff00"/><path d="M1158.9,993.5L1159.3,991.8" stroke="#34ff00"/><path d="M1159.3,991.8L1159.6,990.2" stroke="#09ff00"/><path d="M1159.6,990.2L1159.9,988.5" stroke="#00dd22"/><path d="M1159.9,988.5L1160.3,986.9" stroke="#00b34c"/><path d="M1160.3,986.9L1160.7,985.2" stroke="#008e71"/><path d="M1160.7,985.2L1161.1,983.5" stroke="#006e91"/><path d="M1161.1,983.5L1161.5,981.9" stroke="#004eb1"/><path d="M1161.5,981.9L1161.9,980.2" stroke="#002ed1"/><path d="M1161.9,980.2L1162.4,978.6" stroke="#000ff0"/><path d="M1162.4,978.6L1162.9,976.9" stroke="#0b03ff"/><path d="M1162.9,976.9L1163.4,975.3" stroke="#1b09ff"/><path d="M1163.4,975.3L1163.9,973.6" stroke="#280dff"/><path d="M1163.9,973.6L1164.5,972.0" stroke="#3511ff"/><path d="M1164.5,972.0L1165.0,970.3" stroke="#4115ff"/><path d="M1165.0,970.3L1165.6,968.7" stroke="#4e19ff"/><path d="M1165.6,968.7L1166.2,967.0" stroke="#5b1dff"/><path d="M1166.2,967.0L1166.9,965.4" stroke="#6420ff"/><path d="M1166.9,965.4L1167.6,963.7" stroke="#6a22ff"/><path d="M1167.6,963.7L1168.3,962.1" stroke="#6f24ff"/><path d="M1168.3,962.1L1169.0,960.4" stroke="#7525ff"/><path d="M1169.0,960.4L1169.7,958.7" stroke="#7b27ff"/><path d="M1169.7,958.7L1170.5,957.1" stroke="#8129ff"/><path d="M1170.5,957.1L1171.3,955.4" stroke="#832aff"/><path d="M1171.3,955.4L1172.2,953.8" stroke="#8129ff"/><path d="M1172.2,953.8L1173.1,952.1" stroke="#8029ff"/><path d="M1173.1,952.1L1174.0,950.4" stroke="#7e28ff"/><path d="M1174.0,950.4L1174.9,948.8" stroke="#7d28ff"/><path d="M1174.9,948.8L1175.8,947.1" stroke="#7b27ff"/></g>
<path d="M1151.0,1000.7l12.4,12.4m0,-12.4l-12.4,12.4" stroke="#000" stroke-width="2.3" fill="none"/>
<path d="M1158.0,971.2l12.4,12.4m0,-12.4l-12.4,12.4" stroke="#000" stroke-width="2.3" fill="none"/>
<text x="1166.10" y="1012.40" font-size="20.83" text-anchor="start" >08:10:14 UT</text>
<text x="1183.60" y="952.60" font-size="20.83" text-anchor="start" >08:20:11 UT</text>
<rect x="1111.1" y="872.8" width="534.0" height="267.0" rx="133.5" ry="133.5" fill="none" stroke="#000" stroke-width="2.2"/>
<rect x="1697.9" y="872.8" width="13.2" height="267.2" fill="url(#alt)" stroke="#000" stroke-width="1.67"/>
<text x="1727.00" y="1146.00" font-size="16.67" text-anchor="start" >320</text>
<text x="1727.00" y="1086.46" font-size="16.67" text-anchor="start" >340</text>
<text x="1727.00" y="1026.92" font-size="16.67" text-anchor="start" >360</text>
<text x="1727.00" y="967.38" font-size="16.67" text-anchor="start" >380</text>
<text x="1727.00" y="907.84" font-size="16.67" text-anchor="start" >400</text>
<path d="M1711.1,1140.20h7.29M1711.1,1080.66h7.29M1711.1,1021.12h7.29M1711.1,961.58h7.29M1711.1,902.04h7.29" stroke="#000" stroke-width="1.67" fill="none"/>
<text transform="translate(1780.3,1008) rotate(-90)" font-size="20.83" text-anchor="middle">Altitude (km)</text>
<path d="M208.5,57.5L239.5,3.5H302L333,57.5L302,111.5H239.5Z" fill="#fff" stroke="#bfe6ee" stroke-width="0.8"/><g clip-path="url(#hx)"><rect x="205" y="0" width="130" height="115" fill="#05080f"/><circle cx="318.0" cy="262.0" r="215.0" fill="none" stroke="#0f6b45" stroke-width="10" opacity="0.6" filter="url(#bl1)"/><circle cx="318.0" cy="262.0" r="209.5" fill="none" stroke="#2fc878" stroke-width="3.5" opacity="0.8" filter="url(#bl1)"/><circle cx="318.0" cy="262.0" r="205.0" fill="#6aa8e6"/><circle cx="318.0" cy="262.0" r="204.0" fill="none" stroke="#e8f3ff" stroke-width="3" opacity="0.9" filter="url(#bl2)"/><g filter="url(#bl1)" fill="#ffffff" opacity="0.85"><ellipse cx="262" cy="80" rx="20" ry="4" transform="rotate(-14 262 80)"/><ellipse cx="295" cy="76" rx="16" ry="5" transform="rotate(-18 295 76)"/><ellipse cx="250" cy="92" rx="14" ry="4"/><ellipse cx="285" cy="88" rx="12" ry="3.5" transform="rotate(-20 285 88)"/><ellipse cx="310" cy="70" rx="10" ry="4" transform="rotate(-25 310 70)"/></g><path d="M292,92L311,82L302,101L296,99Z" fill="#2a6fd0"/><path d="M236,86L262,94L240,99Z" fill="#4f8fdc" opacity="0.8" filter="url(#bl2)"/><path d="M236,108C250,97 262,92 276,92.5C286,93 293,97 300,102L304,114H234Z" fill="#fff"/><circle cx="271" cy="89" r="4.6" fill="#1f63b8"/><path d="M268,88.5q3,-2.5 6,0" stroke="#dfeaf8" stroke-width="0.9" fill="none"/><circle cx="271" cy="90.6" r="0.9" fill="#e04040"/><path d="M280,52L300,84" stroke="#e8eef8" stroke-width="1.3" opacity="0.9"/><path d="M258,29L253,13M258,29L281,24M251,41L237,47M262,58L255,69M268,57L269,65" stroke="#b98b3a" stroke-width="0.7" fill="none"/><path d="M237,48.5L251,49.5" stroke="#e8a030" stroke-width="1.6"/><path d="M257,29.5L271,36.5L262.5,58L250.5,49Z" fill="#3a86d8"/><path d="M257,29.5L266,30L281.5,40.5L283,45.5L272,44L271,36.5Z" fill="#1e62b6"/><path d="M271,36.5L283,45.5L277.5,57L262.5,58Z" fill="#c9a55a"/><path d="M272.5,44L281,46.5L279,50L272,48.5Z" fill="#3a2a18"/><path d="M269,50L276,51L274.5,55.5L267,55.5Z" fill="#9fc4ea"/><path d="M257,29.5L250.5,49" stroke="#d9a648" stroke-width="1.1"/><circle cx="245.5" cy="23.5" r="1" fill="#9a8fe0"/><circle cx="223" cy="53" r="0.8" fill="#8f86d8"/><circle cx="291" cy="12" r="0.5" fill="#ccd"/><circle cx="300" cy="41" r="0.5" fill="#ccd"/><circle cx="278" cy="17" r="0.4" fill="#ccd"/></g><path d="M241,105H300.5" stroke="#fff" stroke-width="1.8"/><text x="270.3" y="104.2" font-size="6.4" text-anchor="middle" textLength="43" lengthAdjust="spacingAndGlyphs" style="font-family:'Liberation Serif','DejaVu Serif',serif;font-weight:bold;fill:#2aa7dc">CASSIOPE</text>
<g clip-path="url(#ed)" fill="none" stroke="#4f86c6" stroke-width="1.15"><circle cx="1533.0" cy="65.5" r="16.00"/><circle cx="1533.0" cy="65.5" r="18.15"/><circle cx="1533.0" cy="65.5" r="20.30"/><circle cx="1533.0" cy="65.5" r="22.45"/><circle cx="1533.0" cy="65.5" r="24.60"/><circle cx="1533.0" cy="65.5" r="26.75"/><circle cx="1533.0" cy="65.5" r="28.90"/><circle cx="1533.0" cy="65.5" r="31.05"/><circle cx="1533.0" cy="65.5" r="33.20"/><circle cx="1533.0" cy="65.5" r="35.35"/><circle cx="1533.0" cy="65.5" r="37.50"/><circle cx="1533.0" cy="65.5" r="39.65"/><circle cx="1533.0" cy="65.5" r="41.80"/><circle cx="1533.0" cy="65.5" r="43.95"/><circle cx="1533.0" cy="65.5" r="46.10"/><circle cx="1533.0" cy="65.5" r="48.25"/><circle cx="1533.0" cy="65.5" r="50.40"/><circle cx="1533.0" cy="65.5" r="52.55"/><circle cx="1533.0" cy="65.5" r="54.70"/><circle cx="1533.0" cy="65.5" r="56.85"/><circle cx="1533.0" cy="65.5" r="59.00"/><circle cx="1533.0" cy="65.5" r="61.15"/><circle cx="1533.0" cy="65.5" r="63.30"/><circle cx="1533.0" cy="65.5" r="65.45"/><circle cx="1533.0" cy="65.5" r="67.60"/><circle cx="1533.0" cy="65.5" r="69.75"/></g><circle cx="1530.0" cy="59.5" r="20" fill="#fff"/><circle cx="1487.5" cy="58.5" r="4.2" fill="#fff"/><g clip-path="url(#ei)" stroke="#4f86c6" stroke-width="1.15" fill="none"><path d="M1514.0,45.70l32,-2.6"/><path d="M1514.0,47.85l32,-2.6"/><path d="M1514.0,50.00l32,-2.6"/><path d="M1514.0,52.15l32,-2.6"/><path d="M1514.0,54.30l32,-2.6"/><path d="M1514.0,56.45l32,-2.6"/><path d="M1514.0,58.60l32,-2.6"/><path d="M1514.0,60.75l32,-2.6"/><path d="M1514.0,62.90l32,-2.6"/><path d="M1514.0,65.05l32,-2.6"/><path d="M1514.0,67.20l32,-2.6"/><path d="M1514.0,69.35l32,-2.6"/><path d="M1514.0,71.50l32,-2.6"/><path d="M1514.0,73.65l32,-2.6"/><path d="M1514.0,75.80l32,-2.6"/><path d="M1514.0,77.95l32,-2.6"/></g><path d="M1526.0,59.3h20v3.2h-20z" fill="#fff"/><ellipse cx="1527.5" cy="57.9" rx="6.2" ry="4.6" fill="#fff"/><path d="M1537.0,62.0h9v3.2l-6,1.2z" fill="#fff"/><g transform="translate(1552.2,79.6) scale(0.937,1)"><text x="0" y="0" font-size="79.5" style="font-family:'Liberation Sans',sans-serif;font-weight:bold;fill:#16237e;stroke:#16237e;stroke-width:1.1px">esa</text></g>
</svg></body></html>
